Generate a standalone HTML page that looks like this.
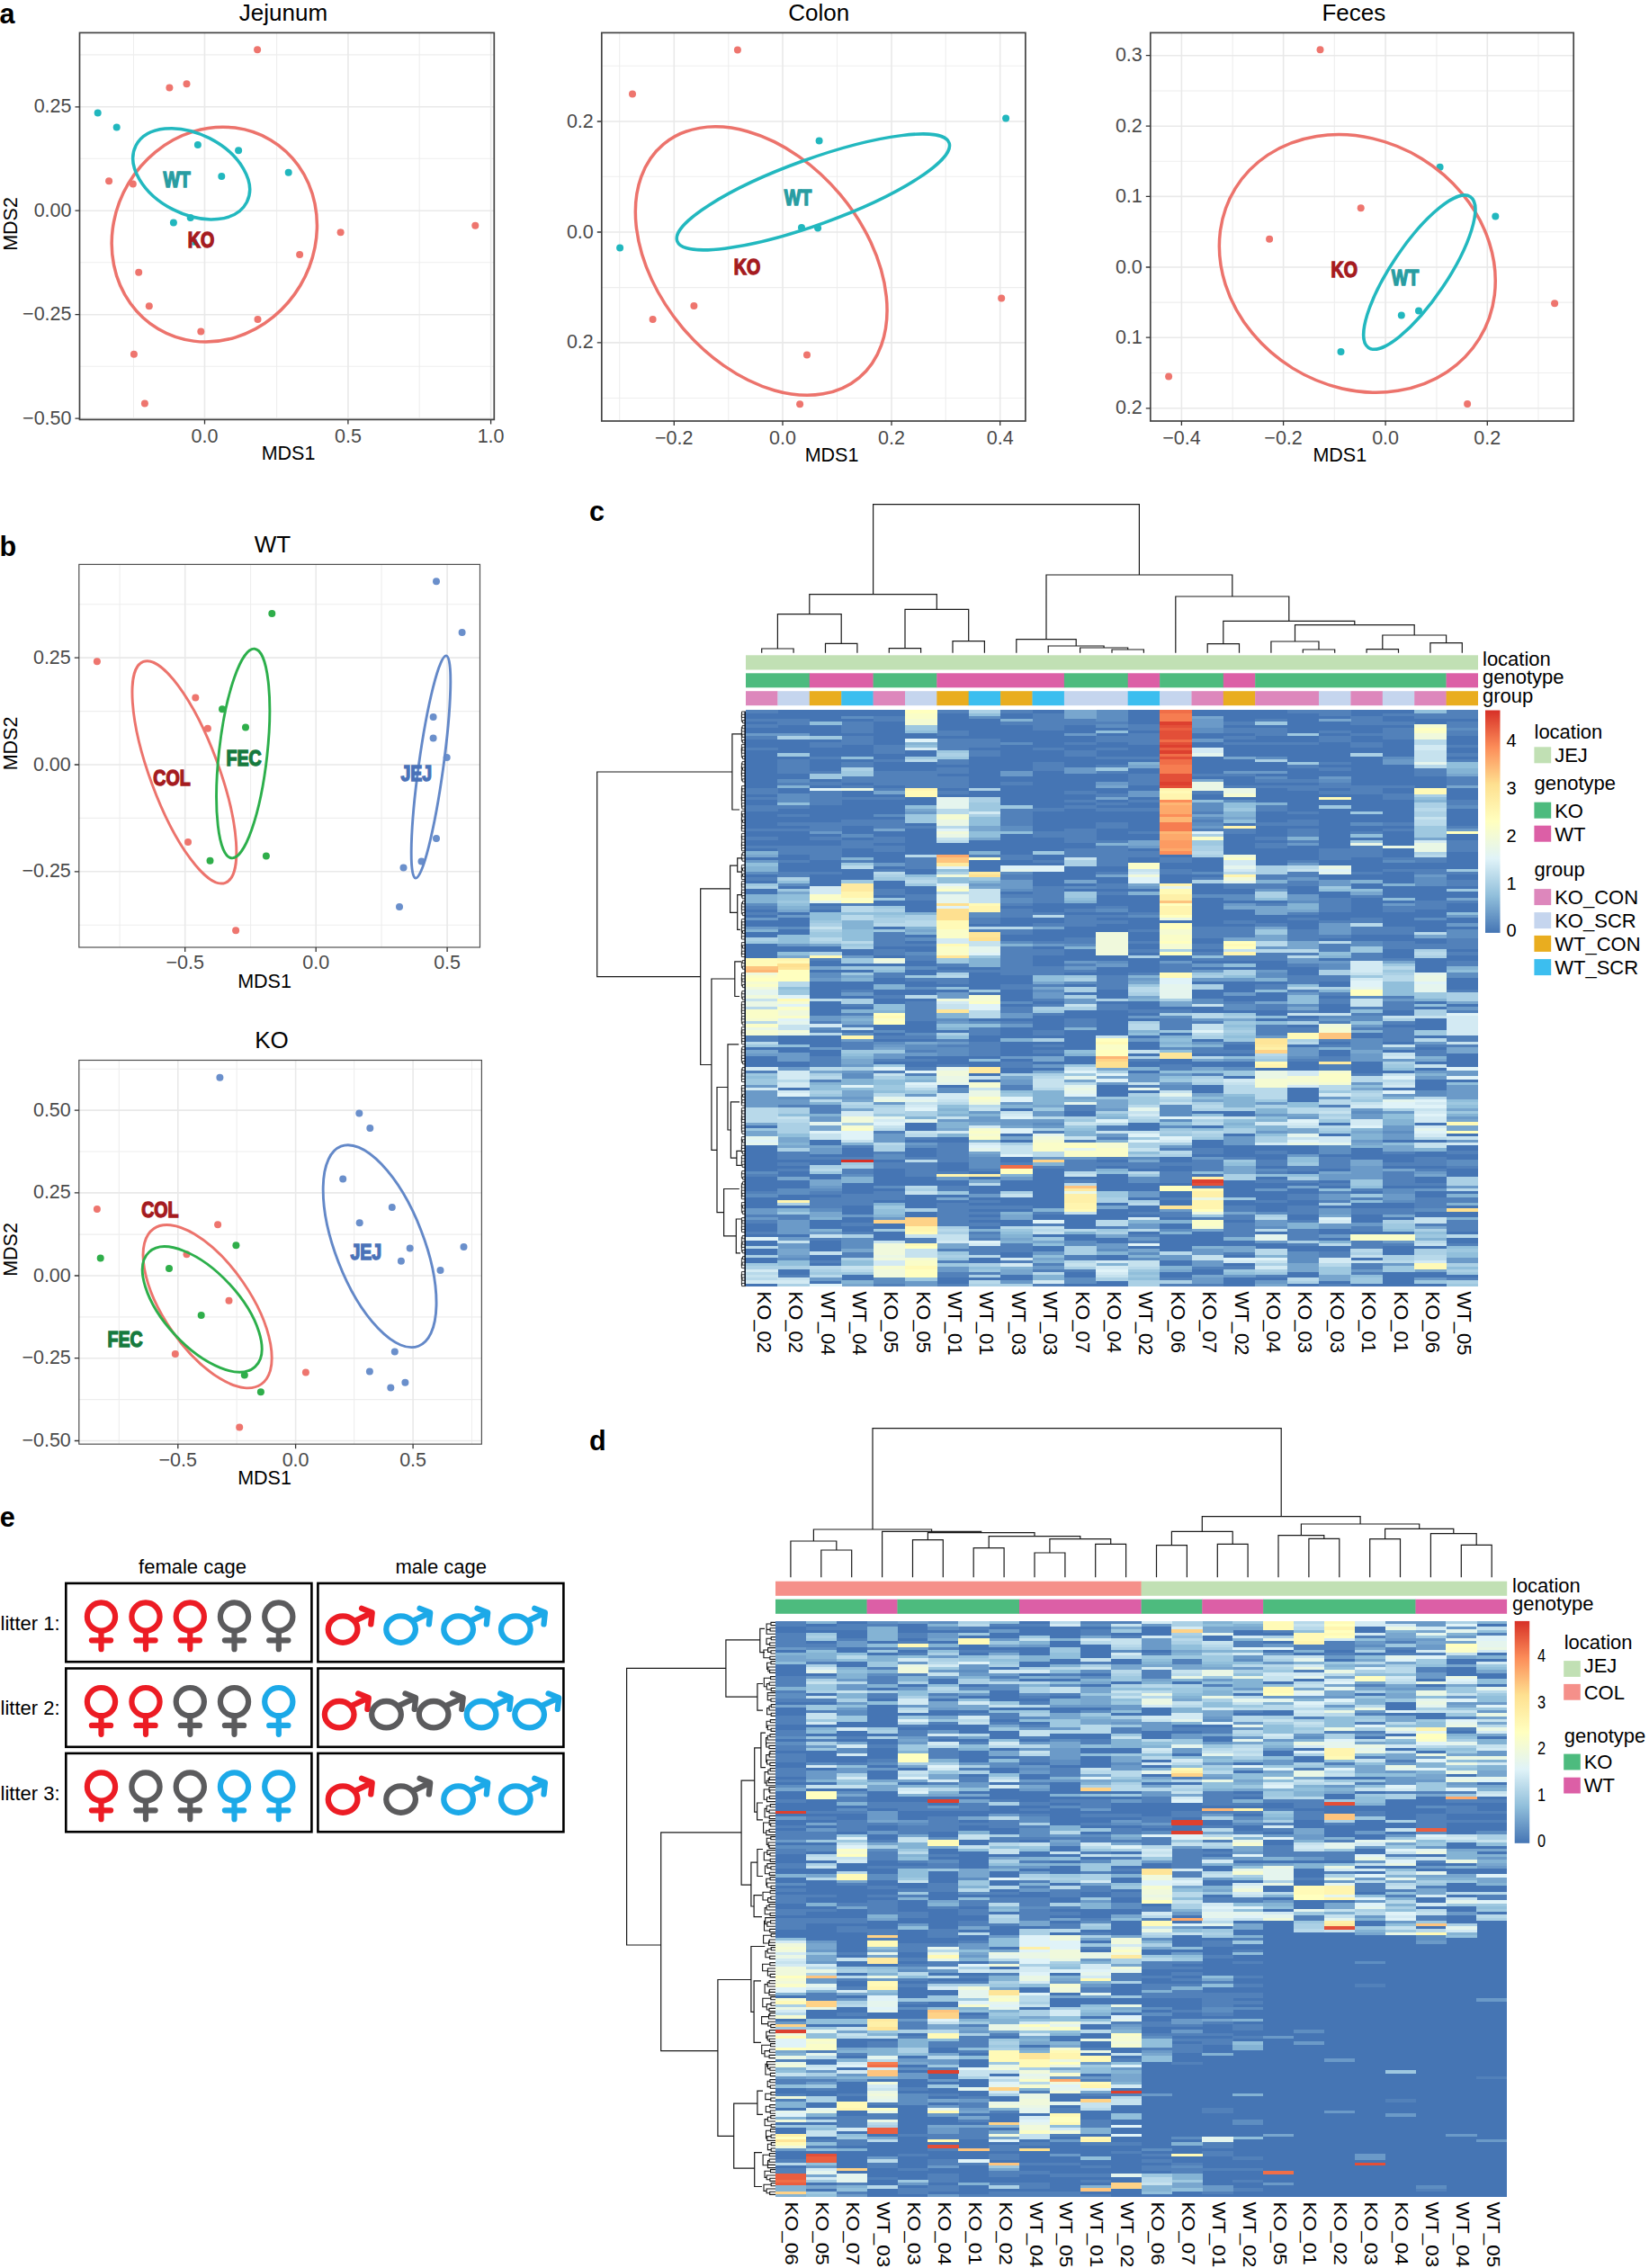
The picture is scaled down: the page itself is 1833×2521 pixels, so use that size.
<!DOCTYPE html>
<html><head><meta charset="utf-8"><title>Figure</title>
<style>html,body{margin:0;padding:0;background:#fff}svg{display:block}</style></head><body>
<svg width="1833" height="2521" viewBox="0 0 1833 2521">
<rect width="1833" height="2521" fill="#fff"/>
<g>
<path d="M148.5 36.4V466.4M307.6 36.4V466.4M466.2 36.4V466.4M88.5 60.9H549.3M88.5 176.3H549.3M88.5 291.8H549.3M88.5 407.2H549.3" stroke="#EEEEEE" stroke-width="1.1" fill="none"/>
<path d="M227.5 36.4V466.4M386.9 36.4V466.4M545.6 36.4V466.4M88.5 118.8H549.3M88.5 234.2H549.3M88.5 349.7H549.3M88.5 465.1H549.3" stroke="#E9E9E9" stroke-width="1.6" fill="none"/>
<circle cx="286.1" cy="55.3" r="4" fill="#EE756E"/>
<circle cx="188.4" cy="97.4" r="4" fill="#EE756E"/>
<circle cx="207.5" cy="93.2" r="4" fill="#EE756E"/>
<circle cx="121.1" cy="201.2" r="4" fill="#EE756E"/>
<circle cx="147.8" cy="204.5" r="4" fill="#EE756E"/>
<circle cx="378.6" cy="258.3" r="4" fill="#EE756E"/>
<circle cx="528.3" cy="250.8" r="4" fill="#EE756E"/>
<circle cx="333.1" cy="283.1" r="4" fill="#EE756E"/>
<circle cx="154.2" cy="302.7" r="4" fill="#EE756E"/>
<circle cx="165.8" cy="340.3" r="4" fill="#EE756E"/>
<circle cx="286.5" cy="354.9" r="4" fill="#EE756E"/>
<circle cx="223.3" cy="368.5" r="4" fill="#EE756E"/>
<circle cx="148.9" cy="393.7" r="4" fill="#EE756E"/>
<circle cx="160.9" cy="448.5" r="4" fill="#EE756E"/>
<circle cx="108.7" cy="125.6" r="4" fill="#21B7BE"/>
<circle cx="129.7" cy="141.4" r="4" fill="#21B7BE"/>
<circle cx="219.9" cy="160.9" r="4" fill="#21B7BE"/>
<circle cx="265.1" cy="167.3" r="4" fill="#21B7BE"/>
<circle cx="246.3" cy="195.9" r="4" fill="#21B7BE"/>
<circle cx="320.7" cy="191.8" r="4" fill="#21B7BE"/>
<circle cx="192.9" cy="247.4" r="4" fill="#21B7BE"/>
<circle cx="211.7" cy="242.1" r="4" fill="#21B7BE"/>
<circle cx="215.4" cy="268.8" r="4" fill="#21B7BE"/>
<ellipse cx="238.3" cy="260.6" rx="122.2" ry="111.1" transform="rotate(-59.18 238.3 260.6)" fill="none" stroke="#EC736C" stroke-width="3.5"/>
<ellipse cx="212.7" cy="193.3" rx="69.2" ry="44.5" transform="rotate(27.06 212.7 193.3)" fill="none" stroke="#22B8BF" stroke-width="3.5"/>
<text transform="translate(196.6 207.7) scale(0.815 1)" text-anchor="middle" font-family="'Liberation Sans',sans-serif" font-weight="bold" font-size="24" fill="#289DA2" stroke="#289DA2" stroke-width="1.45">WT</text>
<text transform="translate(223.5 275.2) scale(0.815 1)" text-anchor="middle" font-family="'Liberation Sans',sans-serif" font-weight="bold" font-size="24" fill="#A51B20" stroke="#A51B20" stroke-width="1.45">KO</text>
<rect x="88.5" y="36.4" width="460.8" height="430" fill="none" stroke="#444444" stroke-width="1.7"/>
<path d="M227.5 466.4v5M386.9 466.4v5M545.6 466.4v5M88.5 118.8h-5M88.5 234.2h-5M88.5 349.7h-5M88.5 465.1h-5" stroke="#333" stroke-width="1.3" fill="none"/>
<g font-family="'Liberation Sans',sans-serif" font-size="21.5" fill="#4A4A4A">
<text x="227.5" y="491.9" text-anchor="middle">0.0</text>
<text x="386.9" y="491.9" text-anchor="middle">0.5</text>
<text x="545.6" y="491.9" text-anchor="middle">1.0</text>
<text x="79.5" y="125.3" text-anchor="end">0.25</text>
<text x="79.5" y="240.7" text-anchor="end">0.00</text>
<text x="79.5" y="356.2" text-anchor="end">−0.25</text>
<text x="79.5" y="471.6" text-anchor="end">−0.50</text>
</g>
<g font-family="'Liberation Sans',sans-serif" fill="#000">
<text x="315" y="22.9" text-anchor="middle" font-size="26">Jejunum</text>
<text x="320.5" y="510.9" text-anchor="middle" font-size="21.5">MDS1</text>
<text transform="translate(19.4 249) rotate(-90)" text-anchor="middle" font-size="21.5">MDS2</text>
</g>
</g>
<g>
<path d="M688.7 36.4V468M809.8 36.4V468M930.5 36.4V468M1051.2 36.4V468M668.8 73.3H1139.9M668.8 196.3H1139.9M668.8 319.6H1139.9M668.8 442.5H1139.9" stroke="#EEEEEE" stroke-width="1.1" fill="none"/>
<path d="M749.3 36.4V468M870 36.4V468M991 36.4V468M1111.7 36.4V468M668.8 135H1139.9M668.8 258H1139.9M668.8 380.9H1139.9" stroke="#E9E9E9" stroke-width="1.6" fill="none"/>
<circle cx="819.9" cy="55.6" r="4" fill="#EE756E"/>
<circle cx="703" cy="104.5" r="4" fill="#EE756E"/>
<circle cx="771.4" cy="339.9" r="4" fill="#EE756E"/>
<circle cx="725.6" cy="354.9" r="4" fill="#EE756E"/>
<circle cx="897" cy="394.4" r="4" fill="#EE756E"/>
<circle cx="889.1" cy="449.3" r="4" fill="#EE756E"/>
<circle cx="1113.2" cy="331.6" r="4" fill="#EE756E"/>
<circle cx="1118.1" cy="131.6" r="4" fill="#21B7BE"/>
<circle cx="910.6" cy="156.4" r="4" fill="#21B7BE"/>
<circle cx="891" cy="253" r="4" fill="#21B7BE"/>
<circle cx="909.1" cy="253.4" r="4" fill="#21B7BE"/>
<circle cx="689.1" cy="275.6" r="4" fill="#21B7BE"/>
<ellipse cx="846.2" cy="290.1" rx="169.3" ry="114.7" transform="rotate(50.02 846.2 290.1)" fill="none" stroke="#EC736C" stroke-width="3.5"/>
<ellipse cx="903.9" cy="213.4" rx="160.7" ry="36.3" transform="rotate(-19.88 903.9 213.4)" fill="none" stroke="#22B8BF" stroke-width="3.5"/>
<text transform="translate(886.9 228.2) scale(0.815 1)" text-anchor="middle" font-family="'Liberation Sans',sans-serif" font-weight="bold" font-size="24" fill="#289DA2" stroke="#289DA2" stroke-width="1.45">WT</text>
<text transform="translate(830.5 304.5) scale(0.815 1)" text-anchor="middle" font-family="'Liberation Sans',sans-serif" font-weight="bold" font-size="24" fill="#A51B20" stroke="#A51B20" stroke-width="1.45">KO</text>
<rect x="668.8" y="36.4" width="471.1" height="431.6" fill="none" stroke="#444444" stroke-width="1.7"/>
<path d="M749.3 468v5M870 468v5M991 468v5M1111.7 468v5M668.8 135h-5M668.8 258h-5M668.8 380.9h-5" stroke="#333" stroke-width="1.3" fill="none"/>
<g font-family="'Liberation Sans',sans-serif" font-size="21.5" fill="#4A4A4A">
<text x="749.3" y="493.5" text-anchor="middle">−0.2</text>
<text x="870" y="493.5" text-anchor="middle">0.0</text>
<text x="991" y="493.5" text-anchor="middle">0.2</text>
<text x="1111.7" y="493.5" text-anchor="middle">0.4</text>
<text x="659.8" y="141.5" text-anchor="end">0.2</text>
<text x="659.8" y="264.5" text-anchor="end">0.0</text>
<text x="659.8" y="387.4" text-anchor="end">0.2</text>
</g>
<g font-family="'Liberation Sans',sans-serif" fill="#000">
<text x="910.2" y="22.9" text-anchor="middle" font-size="26">Colon</text>
<text x="924.5" y="512.5" text-anchor="middle" font-size="21.5">MDS1</text>
</g>
</g>
<g>
<path d="M1370.2 36.4V468M1483.3 36.4V468M1596.9 36.4V468M1710 36.4V468M1278.8 101H1749.2M1278.8 179.3H1749.2M1278.8 257.7H1749.2M1278.8 336.1H1749.2M1278.8 414.5H1749.2" stroke="#EEEEEE" stroke-width="1.1" fill="none"/>
<path d="M1313.4 36.4V468M1426.6 36.4V468M1540.1 36.4V468M1653.3 36.4V468M1278.8 61.7H1749.2M1278.8 140.2H1749.2M1278.8 218.4H1749.2M1278.8 297H1749.2M1278.8 375.2H1749.2M1278.8 453.8H1749.2" stroke="#E9E9E9" stroke-width="1.6" fill="none"/>
<circle cx="1467.5" cy="55.3" r="4" fill="#EE756E"/>
<circle cx="1512.7" cy="231.2" r="4" fill="#EE756E"/>
<circle cx="1411.1" cy="265.8" r="4" fill="#EE756E"/>
<circle cx="1728.1" cy="337.3" r="4" fill="#EE756E"/>
<circle cx="1299.1" cy="418.5" r="4" fill="#EE756E"/>
<circle cx="1631.1" cy="448.9" r="4" fill="#EE756E"/>
<circle cx="1600.6" cy="185.7" r="4" fill="#21B7BE"/>
<circle cx="1662.3" cy="240.6" r="4" fill="#21B7BE"/>
<circle cx="1557.8" cy="350.4" r="4" fill="#21B7BE"/>
<circle cx="1577" cy="345.5" r="4" fill="#21B7BE"/>
<circle cx="1490.5" cy="391" r="4" fill="#21B7BE"/>
<ellipse cx="1508.8" cy="292.9" rx="159.3" ry="136.8" transform="rotate(31.63 1508.8 292.9)" fill="none" stroke="#EC736C" stroke-width="3.5"/>
<ellipse cx="1577.8" cy="302.6" rx="101.2" ry="30.7" transform="rotate(-55.98 1577.8 302.6)" fill="none" stroke="#22B8BF" stroke-width="3.5"/>
<text transform="translate(1494.2 307.5) scale(0.815 1)" text-anchor="middle" font-family="'Liberation Sans',sans-serif" font-weight="bold" font-size="24" fill="#A51B20" stroke="#A51B20" stroke-width="1.45">KO</text>
<text transform="translate(1561.9 317.2) scale(0.815 1)" text-anchor="middle" font-family="'Liberation Sans',sans-serif" font-weight="bold" font-size="24" fill="#289DA2" stroke="#289DA2" stroke-width="1.45">WT</text>
<rect x="1278.8" y="36.4" width="470.4" height="431.6" fill="none" stroke="#444444" stroke-width="1.7"/>
<path d="M1313.4 468v5M1426.6 468v5M1540.1 468v5M1653.3 468v5M1278.8 61.7h-5M1278.8 140.2h-5M1278.8 218.4h-5M1278.8 297h-5M1278.8 375.2h-5M1278.8 453.8h-5" stroke="#333" stroke-width="1.3" fill="none"/>
<g font-family="'Liberation Sans',sans-serif" font-size="21.5" fill="#4A4A4A">
<text x="1313.4" y="493.5" text-anchor="middle">−0.4</text>
<text x="1426.6" y="493.5" text-anchor="middle">−0.2</text>
<text x="1540.1" y="493.5" text-anchor="middle">0.0</text>
<text x="1653.3" y="493.5" text-anchor="middle">0.2</text>
<text x="1269.8" y="68.2" text-anchor="end">0.3</text>
<text x="1269.8" y="146.7" text-anchor="end">0.2</text>
<text x="1269.8" y="224.9" text-anchor="end">0.1</text>
<text x="1269.8" y="303.5" text-anchor="end">0.0</text>
<text x="1269.8" y="381.7" text-anchor="end">0.1</text>
<text x="1269.8" y="460.3" text-anchor="end">0.2</text>
</g>
<g font-family="'Liberation Sans',sans-serif" fill="#000">
<text x="1504.8" y="22.9" text-anchor="middle" font-size="26">Feces</text>
<text x="1489.3" y="512.5" text-anchor="middle" font-size="21.5">MDS1</text>
</g>
</g>
<g>
<path d="M133.1 627.4V1053M278.6 627.4V1053M424.1 627.4V1053M87.8 671.7H533.5M87.8 790.6H533.5M87.8 909.4H533.5M87.8 1028.2H533.5" stroke="#EEEEEE" stroke-width="1.1" fill="none"/>
<path d="M205.7 627.4V1053M351.2 627.4V1053M497.1 627.4V1053M87.8 731.1H533.5M87.8 850H533.5M87.8 968.8H533.5" stroke="#E9E9E9" stroke-width="1.6" fill="none"/>
<circle cx="107.9" cy="735.3" r="4" fill="#EE756E"/>
<circle cx="217.3" cy="775.5" r="4" fill="#EE756E"/>
<circle cx="230.9" cy="809.7" r="4" fill="#EE756E"/>
<circle cx="209" cy="936.1" r="4" fill="#EE756E"/>
<circle cx="262.1" cy="1034.2" r="4" fill="#EE756E"/>
<circle cx="302.3" cy="681.9" r="4" fill="#2FAE4A"/>
<circle cx="247" cy="788.3" r="4" fill="#2FAE4A"/>
<circle cx="273" cy="808.6" r="4" fill="#2FAE4A"/>
<circle cx="233.5" cy="956.7" r="4" fill="#2FAE4A"/>
<circle cx="295.9" cy="951.5" r="4" fill="#2FAE4A"/>
<circle cx="485" cy="646.2" r="4" fill="#6A8FCB"/>
<circle cx="513.6" cy="702.9" r="4" fill="#6A8FCB"/>
<circle cx="481.6" cy="796.9" r="4" fill="#6A8FCB"/>
<circle cx="481.6" cy="820.6" r="4" fill="#6A8FCB"/>
<circle cx="496.7" cy="842.1" r="4" fill="#6A8FCB"/>
<circle cx="485" cy="931.9" r="4" fill="#6A8FCB"/>
<circle cx="468.5" cy="957.5" r="4" fill="#6A8FCB"/>
<circle cx="448.5" cy="964.6" r="4" fill="#6A8FCB"/>
<circle cx="444" cy="1007.9" r="4" fill="#6A8FCB"/>
<ellipse cx="204.9" cy="858.4" rx="131.1" ry="38.2" transform="rotate(69.68 204.9 858.4)" fill="none" stroke="#EC736C" stroke-width="2.9"/>
<ellipse cx="270.2" cy="837.5" rx="117" ry="26.8" transform="rotate(-83.68 270.2 837.5)" fill="none" stroke="#2CAF4B" stroke-width="2.9"/>
<ellipse cx="479" cy="852.5" rx="124.8" ry="13.7" transform="rotate(-82.14 479 852.5)" fill="none" stroke="#6388C8" stroke-width="2.9"/>
<text transform="translate(191 872.8) scale(0.815 1)" text-anchor="middle" font-family="'Liberation Sans',sans-serif" font-weight="bold" font-size="24" fill="#A51B20" stroke="#A51B20" stroke-width="1.45">COL</text>
<text transform="translate(271.1 851.4) scale(0.815 1)" text-anchor="middle" font-family="'Liberation Sans',sans-serif" font-weight="bold" font-size="24" fill="#167A3E" stroke="#167A3E" stroke-width="1.45">FEC</text>
<text transform="translate(462.8 867.6) scale(0.815 1)" text-anchor="middle" font-family="'Liberation Sans',sans-serif" font-weight="bold" font-size="24" fill="#4A72B8" stroke="#4A72B8" stroke-width="1.45">JEJ</text>
<rect x="87.8" y="627.4" width="445.7" height="425.6" fill="none" stroke="#505050" stroke-width="1.2"/>
<path d="M205.7 1053v5M351.2 1053v5M497.1 1053v5M87.8 731.1h-5M87.8 850h-5M87.8 968.8h-5" stroke="#333" stroke-width="1.3" fill="none"/>
<g font-family="'Liberation Sans',sans-serif" font-size="21.5" fill="#4A4A4A">
<text x="205.7" y="1077.3" text-anchor="middle">−0.5</text>
<text x="351.2" y="1077.3" text-anchor="middle">0.0</text>
<text x="497.1" y="1077.3" text-anchor="middle">0.5</text>
<text x="78.8" y="737.6" text-anchor="end">0.25</text>
<text x="78.8" y="856.5" text-anchor="end">0.00</text>
<text x="78.8" y="975.3" text-anchor="end">−0.25</text>
</g>
<g font-family="'Liberation Sans',sans-serif" fill="#000">
<text x="303" y="613.9" text-anchor="middle" font-size="26">WT</text>
<text x="294" y="1097.5" text-anchor="middle" font-size="21.5">MDS1</text>
<text transform="translate(19.4 826.5) rotate(-90)" text-anchor="middle" font-size="21.5">MDS2</text>
</g>
</g>
<g>
<path d="M132.3 1178.5V1605.2M263.2 1178.5V1605.2M393.7 1178.5V1605.2M524.5 1178.5V1605.2M87.8 1188.3H535.4M87.8 1280H535.4M87.8 1372.1H535.4M87.8 1463.9H535.4M87.8 1555.6H535.4" stroke="#EEEEEE" stroke-width="1.1" fill="none"/>
<path d="M197.8 1178.5V1605.2M328.6 1178.5V1605.2M459.1 1178.5V1605.2M87.8 1234.1H535.4M87.8 1325.9H535.4M87.8 1418H535.4M87.8 1509.7H535.4M87.8 1601.5H535.4" stroke="#E9E9E9" stroke-width="1.6" fill="none"/>
<circle cx="107.9" cy="1343.9" r="4" fill="#EE756E"/>
<circle cx="242.1" cy="1361.2" r="4" fill="#EE756E"/>
<circle cx="207.5" cy="1394.3" r="4" fill="#EE756E"/>
<circle cx="254.5" cy="1445.8" r="4" fill="#EE756E"/>
<circle cx="194.8" cy="1504.9" r="4" fill="#EE756E"/>
<circle cx="339.9" cy="1525.5" r="4" fill="#EE756E"/>
<circle cx="266.2" cy="1586.4" r="4" fill="#EE756E"/>
<circle cx="111.7" cy="1398.5" r="4" fill="#2FAE4A"/>
<circle cx="262.4" cy="1384.2" r="4" fill="#2FAE4A"/>
<circle cx="188" cy="1410.1" r="4" fill="#2FAE4A"/>
<circle cx="223.7" cy="1462" r="4" fill="#2FAE4A"/>
<circle cx="271.8" cy="1528.5" r="4" fill="#2FAE4A"/>
<circle cx="289.9" cy="1547.3" r="4" fill="#2FAE4A"/>
<circle cx="244.4" cy="1197.7" r="4" fill="#6A8FCB"/>
<circle cx="399.3" cy="1237.5" r="4" fill="#6A8FCB"/>
<circle cx="411.3" cy="1254.1" r="4" fill="#6A8FCB"/>
<circle cx="381.2" cy="1310.5" r="4" fill="#6A8FCB"/>
<circle cx="435.8" cy="1342.1" r="4" fill="#6A8FCB"/>
<circle cx="399.7" cy="1359.3" r="4" fill="#6A8FCB"/>
<circle cx="455.7" cy="1387.5" r="4" fill="#6A8FCB"/>
<circle cx="445.9" cy="1401.8" r="4" fill="#6A8FCB"/>
<circle cx="515.5" cy="1386" r="4" fill="#6A8FCB"/>
<circle cx="489.5" cy="1412" r="4" fill="#6A8FCB"/>
<circle cx="438.8" cy="1502.6" r="4" fill="#6A8FCB"/>
<circle cx="410.9" cy="1524.4" r="4" fill="#6A8FCB"/>
<circle cx="450.4" cy="1536.8" r="4" fill="#6A8FCB"/>
<circle cx="434.3" cy="1542.5" r="4" fill="#6A8FCB"/>
<ellipse cx="230.6" cy="1452.2" rx="105.1" ry="47.9" transform="rotate(55.36 230.6 1452.2)" fill="none" stroke="#EC736C" stroke-width="2.9"/>
<ellipse cx="224.7" cy="1455.4" rx="86.8" ry="41.4" transform="rotate(47.21 224.7 1455.4)" fill="none" stroke="#2CAF4B" stroke-width="2.9"/>
<ellipse cx="422.1" cy="1385.2" rx="119.1" ry="49.2" transform="rotate(68.79 422.1 1385.2)" fill="none" stroke="#6388C8" stroke-width="2.9"/>
<text transform="translate(177.8 1352.5) scale(0.815 1)" text-anchor="middle" font-family="'Liberation Sans',sans-serif" font-weight="bold" font-size="24" fill="#A51B20" stroke="#A51B20" stroke-width="1.45">COL</text>
<text transform="translate(139.1 1497.3) scale(0.815 1)" text-anchor="middle" font-family="'Liberation Sans',sans-serif" font-weight="bold" font-size="24" fill="#167A3E" stroke="#167A3E" stroke-width="1.45">FEC</text>
<text transform="translate(406.8 1399.5) scale(0.815 1)" text-anchor="middle" font-family="'Liberation Sans',sans-serif" font-weight="bold" font-size="24" fill="#4A72B8" stroke="#4A72B8" stroke-width="1.45">JEJ</text>
<rect x="87.8" y="1178.5" width="447.6" height="426.7" fill="none" stroke="#505050" stroke-width="1.2"/>
<path d="M197.8 1605.2v5M328.6 1605.2v5M459.1 1605.2v5M87.8 1234.1h-5M87.8 1325.9h-5M87.8 1418h-5M87.8 1509.7h-5M87.8 1601.5h-5" stroke="#333" stroke-width="1.3" fill="none"/>
<g font-family="'Liberation Sans',sans-serif" font-size="21.5" fill="#4A4A4A">
<text x="197.8" y="1630" text-anchor="middle">−0.5</text>
<text x="328.6" y="1630" text-anchor="middle">0.0</text>
<text x="459.1" y="1630" text-anchor="middle">0.5</text>
<text x="78.8" y="1240.6" text-anchor="end">0.50</text>
<text x="78.8" y="1332.4" text-anchor="end">0.25</text>
<text x="78.8" y="1424.5" text-anchor="end">0.00</text>
<text x="78.8" y="1516.2" text-anchor="end">−0.25</text>
<text x="78.8" y="1608" text-anchor="end">−0.50</text>
</g>
<g font-family="'Liberation Sans',sans-serif" fill="#000">
<text x="302" y="1165" text-anchor="middle" font-size="26">KO</text>
<text x="294" y="1649.7" text-anchor="middle" font-size="21.5">MDS1</text>
<text transform="translate(19.4 1389) rotate(-90)" text-anchor="middle" font-size="21.5">MDS2</text>
</g>
</g>
<g font-family="'Liberation Sans',sans-serif" font-size="22" fill="#000">
<text x="214" y="1748.5" text-anchor="middle">female cage</text>
<text x="490.3" y="1748.5" text-anchor="middle">male cage</text>
<text x="0.5" y="1811.7">litter 1:</text>
<text x="0.5" y="1906.3">litter 2:</text>
<text x="0.5" y="2000.7">litter 3:</text>
</g>
<rect x="73.3" y="1759.9" width="273.1" height="87.3" fill="none" stroke="#000" stroke-width="2.6"/>
<rect x="353.4" y="1759.9" width="273" height="87.3" fill="none" stroke="#000" stroke-width="2.6"/>
<rect x="73.3" y="1854.5" width="273.1" height="87.3" fill="none" stroke="#000" stroke-width="2.6"/>
<rect x="353.4" y="1854.5" width="273" height="87.3" fill="none" stroke="#000" stroke-width="2.6"/>
<rect x="73.3" y="1948.9" width="273.1" height="87.3" fill="none" stroke="#000" stroke-width="2.6"/>
<rect x="353.4" y="1948.9" width="273" height="87.3" fill="none" stroke="#000" stroke-width="2.6"/>
<g stroke="#EC1C24" stroke-width="6.2" fill="none" stroke-linecap="round"><circle cx="112.5" cy="1797" r="15.6"/><path d="M112.5 1813.5V1833.2M101.9 1823.3H123.1"/></g>
<g stroke="#EC1C24" stroke-width="6.2" fill="none" stroke-linecap="round"><circle cx="162" cy="1797" r="15.6"/><path d="M162 1813.5V1833.2M151.4 1823.3H172.6"/></g>
<g stroke="#EC1C24" stroke-width="6.2" fill="none" stroke-linecap="round"><circle cx="211.3" cy="1797" r="15.6"/><path d="M211.3 1813.5V1833.2M200.7 1823.3H221.9"/></g>
<g stroke="#5B5B5D" stroke-width="6.2" fill="none" stroke-linecap="round"><circle cx="260.5" cy="1797" r="15.6"/><path d="M260.5 1813.5V1833.2M249.9 1823.3H271.1"/></g>
<g stroke="#5B5B5D" stroke-width="6.2" fill="none" stroke-linecap="round"><circle cx="309.8" cy="1797" r="15.6"/><path d="M309.8 1813.5V1833.2M299.2 1823.3H320.4"/></g>
<g stroke="#EC1C24" stroke-width="6.2" fill="none" stroke-linecap="round"><circle cx="112.5" cy="1891.6" r="15.6"/><path d="M112.5 1908.1V1927.8M101.9 1917.9H123.1"/></g>
<g stroke="#EC1C24" stroke-width="6.2" fill="none" stroke-linecap="round"><circle cx="162" cy="1891.6" r="15.6"/><path d="M162 1908.1V1927.8M151.4 1917.9H172.6"/></g>
<g stroke="#5B5B5D" stroke-width="6.2" fill="none" stroke-linecap="round"><circle cx="211.3" cy="1891.6" r="15.6"/><path d="M211.3 1908.1V1927.8M200.7 1917.9H221.9"/></g>
<g stroke="#5B5B5D" stroke-width="6.2" fill="none" stroke-linecap="round"><circle cx="260.5" cy="1891.6" r="15.6"/><path d="M260.5 1908.1V1927.8M249.9 1917.9H271.1"/></g>
<g stroke="#1CA9E8" stroke-width="6.2" fill="none" stroke-linecap="round"><circle cx="309.8" cy="1891.6" r="15.6"/><path d="M309.8 1908.1V1927.8M299.2 1917.9H320.4"/></g>
<g stroke="#EC1C24" stroke-width="6.2" fill="none" stroke-linecap="round"><circle cx="112.5" cy="1986" r="15.6"/><path d="M112.5 2002.5V2022.2M101.9 2012.3H123.1"/></g>
<g stroke="#5B5B5D" stroke-width="6.2" fill="none" stroke-linecap="round"><circle cx="162" cy="1986" r="15.6"/><path d="M162 2002.5V2022.2M151.4 2012.3H172.6"/></g>
<g stroke="#5B5B5D" stroke-width="6.2" fill="none" stroke-linecap="round"><circle cx="211.3" cy="1986" r="15.6"/><path d="M211.3 2002.5V2022.2M200.7 2012.3H221.9"/></g>
<g stroke="#1CA9E8" stroke-width="6.2" fill="none" stroke-linecap="round"><circle cx="260.5" cy="1986" r="15.6"/><path d="M260.5 2002.5V2022.2M249.9 2012.3H271.1"/></g>
<g stroke="#1CA9E8" stroke-width="6.2" fill="none" stroke-linecap="round"><circle cx="309.8" cy="1986" r="15.6"/><path d="M309.8 2002.5V2022.2M299.2 2012.3H320.4"/></g>
<g stroke="#EC1C24" stroke-width="6.3" fill="none" stroke-linecap="round" stroke-linejoin="round"><ellipse cx="381.1" cy="1811.1" rx="16.3" ry="14.7"/><path d="M394.6 1801.6L412.6 1793.1M402.1 1787.8L413.7 1792.5L412.3 1805.3"/></g>
<g stroke="#1CA9E8" stroke-width="6.3" fill="none" stroke-linecap="round" stroke-linejoin="round"><ellipse cx="445.6" cy="1811.1" rx="16.3" ry="14.7"/><path d="M459.1 1801.6L477.1 1793.1M466.6 1787.8L478.2 1792.5L476.8 1805.3"/></g>
<g stroke="#1CA9E8" stroke-width="6.3" fill="none" stroke-linecap="round" stroke-linejoin="round"><ellipse cx="509.6" cy="1811.1" rx="16.3" ry="14.7"/><path d="M523.1 1801.6L541.1 1793.1M530.6 1787.8L542.2 1792.5L540.8 1805.3"/></g>
<g stroke="#1CA9E8" stroke-width="6.3" fill="none" stroke-linecap="round" stroke-linejoin="round"><ellipse cx="573.3" cy="1811.1" rx="16.3" ry="14.7"/><path d="M586.8 1801.6L604.8 1793.1M594.3 1787.8L605.9 1792.5L604.5 1805.3"/></g>
<g stroke="#EC1C24" stroke-width="6.3" fill="none" stroke-linecap="round" stroke-linejoin="round"><ellipse cx="377.2" cy="1905.7" rx="16.3" ry="14.7"/><path d="M390.7 1896.2L408.7 1887.7M398.2 1882.4L409.8 1887.1L408.4 1899.9"/></g>
<g stroke="#5B5B5D" stroke-width="6.3" fill="none" stroke-linecap="round" stroke-linejoin="round"><ellipse cx="429.5" cy="1905.7" rx="16.3" ry="14.7"/><path d="M443 1896.2L461 1887.7M450.5 1882.4L462.1 1887.1L460.7 1899.9"/></g>
<g stroke="#5B5B5D" stroke-width="6.3" fill="none" stroke-linecap="round" stroke-linejoin="round"><ellipse cx="482.1" cy="1905.7" rx="16.3" ry="14.7"/><path d="M495.6 1896.2L513.6 1887.7M503.1 1882.4L514.7 1887.1L513.3 1899.9"/></g>
<g stroke="#1CA9E8" stroke-width="6.3" fill="none" stroke-linecap="round" stroke-linejoin="round"><ellipse cx="535.1" cy="1905.7" rx="16.3" ry="14.7"/><path d="M548.6 1896.2L566.6 1887.7M556.1 1882.4L567.7 1887.1L566.3 1899.9"/></g>
<g stroke="#1CA9E8" stroke-width="6.3" fill="none" stroke-linecap="round" stroke-linejoin="round"><ellipse cx="588.6" cy="1905.7" rx="16.3" ry="14.7"/><path d="M602.1 1896.2L620.1 1887.7M609.6 1882.4L621.2 1887.1L619.8 1899.9"/></g>
<g stroke="#EC1C24" stroke-width="6.3" fill="none" stroke-linecap="round" stroke-linejoin="round"><ellipse cx="381.1" cy="2000.1" rx="16.3" ry="14.7"/><path d="M394.6 1990.6L412.6 1982.1M402.1 1976.8L413.7 1981.5L412.3 1994.3"/></g>
<g stroke="#5B5B5D" stroke-width="6.3" fill="none" stroke-linecap="round" stroke-linejoin="round"><ellipse cx="445.6" cy="2000.1" rx="16.3" ry="14.7"/><path d="M459.1 1990.6L477.1 1982.1M466.6 1976.8L478.2 1981.5L476.8 1994.3"/></g>
<g stroke="#1CA9E8" stroke-width="6.3" fill="none" stroke-linecap="round" stroke-linejoin="round"><ellipse cx="509.6" cy="2000.1" rx="16.3" ry="14.7"/><path d="M523.1 1990.6L541.1 1982.1M530.6 1976.8L542.2 1981.5L540.8 1994.3"/></g>
<g stroke="#1CA9E8" stroke-width="6.3" fill="none" stroke-linecap="round" stroke-linejoin="round"><ellipse cx="573.3" cy="2000.1" rx="16.3" ry="14.7"/><path d="M586.8 1990.6L604.8 1982.1M594.3 1976.8L605.9 1981.5L604.5 1994.3"/></g>
<g shape-rendering="crispEdges">
<rect x="829" y="789.4" width="814" height="640.4" fill="#4575B4"/>
<path fill="#5281BA" d="M829 789.4H864.7V792.8H829zM829 799H864.7V802.4H829zM829 805.4H864.7V808.8H829zM829 818.2H864.7V821.6H829zM829 831H864.7V834.4H829zM829 875.9H864.7V882.5H829zM829 885.5H864.7V888.9H829zM829 895.1H864.7V901.7H829zM829 920.7H864.7V924.1H829zM829 930.3H864.7V933.7H829zM829 939.9H864.7V943.3H829zM829 975.1H864.7V978.5H829zM829 1007.1H864.7V1010.5H829zM829 1013.5H864.7V1016.9H829zM829 1151.2H864.7V1157.8H829zM829 1189.7H864.7V1193.1H829zM829 1304.9H864.7V1308.3H829zM829 1324.1H864.7V1327.5H829zM829 1349.8H864.7V1353.2H829zM829 1356.2H864.7V1359.6H829zM829 1369H864.7V1372.4H829zM864.4 799H900.1V805.6H864.4zM864.4 843.8H900.1V860H864.4zM864.4 869.4H900.1V872.9H864.4zM864.4 895.1H900.1V898.5H864.4zM864.4 904.7H900.1V908.1H864.4zM864.4 914.3H900.1V917.7H864.4zM864.4 920.7H900.1V924.1H864.4zM864.4 939.9H900.1V949.7H864.4zM864.4 955.9H900.1V959.3H864.4zM864.4 968.7H900.1V975.3H864.4zM864.4 1228.1H900.1V1231.5H864.4zM864.4 1279.3H900.1V1289.1H864.4zM864.4 1292.1H900.1V1295.5H864.4zM864.4 1298.5H900.1V1301.9H864.4zM864.4 1349.8H900.1V1356.4H864.4zM864.4 1417H900.1V1420.4H864.4zM899.8 824.6H935.5V831.2H899.8zM899.8 840.6H935.5V844H899.8zM899.8 856.6H935.5V860H899.8zM899.8 869.4H935.5V872.9H899.8zM899.8 879.1H935.5V895.3H899.8zM899.8 914.3H935.5V924.1H899.8zM899.8 930.3H935.5V933.7H899.8zM899.8 939.9H935.5V956.1H899.8zM899.8 968.7H935.5V972.1H899.8zM899.8 1007.1H935.5V1010.5H899.8zM899.8 1064.8H935.5V1068.2H899.8zM899.8 1135.2H935.5V1138.6H899.8zM899.8 1144.8H935.5V1148.2H899.8zM899.8 1173.6H935.5V1186.6H899.8zM899.8 1199.3H935.5V1202.7H899.8zM899.8 1228.1H935.5V1237.9H899.8zM899.8 1285.7H935.5V1289.1H899.8zM899.8 1324.1H935.5V1327.5H899.8zM899.8 1330.5H935.5V1343.5H899.8zM899.8 1375.4H935.5V1378.8H899.8zM899.8 1401H935.5V1404.4H899.8zM935.2 802.2H970.9V815.2H935.2zM935.2 818.2H970.9V828H935.2zM935.2 847H970.9V853.6H935.2zM935.2 863H970.9V869.6H935.2zM935.2 872.7H970.9V876.1H935.2zM935.2 885.5H970.9V888.9H935.2zM935.2 911.1H970.9V917.7H935.2zM935.2 933.5H970.9V943.3H935.2zM935.2 955.9H970.9V959.3H935.2zM935.2 1003.9H970.9V1007.3H935.2zM935.2 1100H970.9V1103.4H935.2zM935.2 1116H970.9V1119.4H935.2zM935.2 1125.6H970.9V1129H935.2zM935.2 1138.4H970.9V1141.8H935.2zM935.2 1157.6H970.9V1167.4H935.2zM935.2 1272.9H970.9V1276.3H935.2zM935.2 1285.7H970.9V1289.1H935.2zM935.2 1298.5H970.9V1305.1H935.2zM935.2 1327.3H970.9V1340.3H935.2zM935.2 1359.4H970.9V1362.8H935.2zM935.2 1369H970.9V1372.4H935.2zM935.2 1391.4H970.9V1398H935.2zM970.6 795.8H1006.2V802.4H970.6zM970.6 827.8H1006.2V837.6H970.6zM970.6 843.8H1006.2V847.2H970.6zM970.6 856.6H1006.2V872.9H970.6zM970.6 875.9H1006.2V879.3H970.6zM970.6 885.5H1006.2V888.9H970.6zM970.6 911.1H1006.2V920.9H970.6zM970.6 930.3H1006.2V936.9H970.6zM970.6 939.9H1006.2V946.5H970.6zM970.6 965.5H1006.2V968.9H970.6zM970.6 987.9H1006.2V994.5H970.6zM970.6 1036H1006.2V1052.2H970.6zM970.6 1055.2H1006.2V1061.8H970.6zM970.6 1080.8H1006.2V1087.4H970.6zM970.6 1106.4H1006.2V1109.8H970.6zM970.6 1151.2H1006.2V1154.6H970.6zM970.6 1176.8H1006.2V1180.2H970.6zM970.6 1189.7H1006.2V1193.1H970.6zM970.6 1256.9H1006.2V1260.3H970.6zM970.6 1279.3H1006.2V1282.7H970.6zM970.6 1292.1H1006.2V1298.7H970.6zM970.6 1324.1H1006.2V1333.9H970.6zM970.6 1426.6H1006.2V1430H970.6zM1006 856.6H1041.6V876.1H1006zM1006 917.5H1041.6V920.9H1006zM1006 952.7H1041.6V965.7H1006zM1006 994.3H1041.6V1000.9H1006zM1006 1048.8H1041.6V1052.2H1006zM1006 1061.6H1041.6V1068.2H1006zM1006 1087.2H1041.6V1090.6H1006zM1006 1112.8H1041.6V1135.4H1006zM1006 1151.2H1041.6V1154.6H1006zM1006 1167.2H1041.6V1170.6H1006zM1006 1176.8H1041.6V1180.2H1006zM1006 1186.4H1041.6V1189.9H1006zM1006 1192.9H1041.6V1196.3H1006zM1006 1263.3H1041.6V1266.7H1006zM1006 1285.7H1041.6V1289.1H1006zM1006 1292.1H1041.6V1308.3H1006zM1006 1375.4H1041.6V1382H1006zM1041.3 789.4H1077V792.8H1041.3zM1041.3 811.8H1077V818.4H1041.3zM1041.3 821.4H1077V834.4H1041.3zM1041.3 843.8H1077V850.4H1041.3zM1041.3 853.4H1077V860H1041.3zM1041.3 863H1077V876.1H1041.3zM1041.3 879.1H1077V882.5H1041.3zM1041.3 1071.2H1077V1074.6H1041.3zM1041.3 1077.6H1077V1081H1041.3zM1041.3 1087.2H1077V1093.8H1041.3zM1041.3 1154.4H1077V1157.8H1041.3zM1041.3 1160.8H1077V1164.2H1041.3zM1041.3 1183.2H1077V1186.6H1041.3zM1041.3 1269.7H1077V1292.3H1041.3zM1041.3 1301.7H1077V1305.1H1041.3zM1041.3 1317.7H1077V1324.3H1041.3zM1041.3 1336.9H1077V1362.8H1041.3zM1041.3 1388.2H1077V1391.6H1041.3zM1041.3 1401H1077V1404.4H1041.3zM1041.3 1413.8H1077V1420.4H1041.3zM1041.3 1426.6H1077V1430H1041.3zM1076.7 821.4H1112.4V831.2H1076.7zM1076.7 834.2H1112.4V840.8H1076.7zM1076.7 949.5H1112.4V952.9H1076.7zM1076.7 1019.9H1112.4V1026.5H1076.7zM1076.7 1032.8H1112.4V1036.2H1076.7zM1076.7 1077.6H1112.4V1081H1076.7zM1076.7 1141.6H1112.4V1151.4H1076.7zM1076.7 1157.6H1112.4V1173.8H1076.7zM1076.7 1298.5H1112.4V1301.9H1076.7zM1076.7 1333.7H1112.4V1337.1H1076.7zM1076.7 1340.1H1112.4V1343.5H1076.7zM1076.7 1346.5H1112.4V1350H1076.7zM1076.7 1353H1112.4V1356.4H1076.7zM1076.7 1359.4H1112.4V1362.8H1076.7zM1076.7 1369H1112.4V1372.4H1076.7zM1076.7 1375.4H1112.4V1378.8H1076.7zM1076.7 1385H1112.4V1394.8H1076.7zM1076.7 1413.8H1112.4V1417.2H1076.7zM1112.1 789.4H1147.8V792.8H1112.1zM1112.1 802.2H1147.8V805.6H1112.1zM1112.1 869.4H1147.8V872.9H1112.1zM1112.1 898.3H1147.8V917.7H1112.1zM1112.1 949.5H1147.8V956.1H1112.1zM1112.1 971.9H1147.8V978.5H1112.1zM1112.1 994.3H1147.8V997.7H1112.1zM1112.1 1003.9H1147.8V1007.3H1112.1zM1112.1 1010.3H1147.8V1020.1H1112.1zM1112.1 1032.8H1147.8V1039.4H1112.1zM1112.1 1052H1147.8V1084.2H1112.1zM1112.1 1093.6H1147.8V1100.2H1112.1zM1112.1 1119.2H1147.8V1125.8H1112.1zM1112.1 1135.2H1147.8V1138.6H1112.1zM1112.1 1180H1147.8V1186.6H1112.1zM1112.1 1205.7H1147.8V1212.3H1112.1zM1112.1 1292.1H1147.8V1295.5H1112.1zM1112.1 1340.1H1147.8V1343.5H1112.1zM1112.1 1381.8H1147.8V1391.6H1112.1zM1112.1 1401H1147.8V1404.4H1112.1zM1147.5 792.6H1183.2V812H1147.5zM1147.5 831H1183.2V834.4H1147.5zM1147.5 847H1183.2V856.8H1147.5zM1147.5 898.3H1183.2V901.7H1147.5zM1147.5 923.9H1183.2V930.5H1147.5zM1147.5 955.9H1183.2V959.3H1147.5zM1147.5 984.7H1183.2V1004.1H1147.5zM1147.5 1013.5H1183.2V1016.9H1147.5zM1147.5 1026.3H1183.2V1029.8H1147.5zM1147.5 1045.6H1183.2V1049H1147.5zM1147.5 1055.2H1183.2V1061.8H1147.5zM1147.5 1074.4H1183.2V1084.2H1147.5zM1147.5 1093.6H1183.2V1097H1147.5zM1147.5 1109.6H1183.2V1113H1147.5zM1147.5 1116H1183.2V1119.4H1147.5zM1147.5 1125.6H1183.2V1129H1147.5zM1147.5 1144.8H1183.2V1151.4H1147.5zM1147.5 1160.8H1183.2V1164.2H1147.5zM1147.5 1167.2H1183.2V1170.6H1147.5zM1147.5 1256.9H1183.2V1260.3H1147.5zM1147.5 1295.3H1183.2V1298.7H1147.5zM1147.5 1346.5H1183.2V1350H1147.5zM1147.5 1359.4H1183.2V1362.8H1147.5zM1147.5 1404.2H1183.2V1407.6H1147.5zM1147.5 1410.6H1183.2V1414H1147.5zM1147.5 1426.6H1183.2V1430H1147.5zM1182.9 799H1218.6V805.6H1182.9zM1182.9 824.6H1218.6V828H1182.9zM1182.9 834.2H1218.6V840.8H1182.9zM1182.9 879.1H1218.6V882.5H1182.9zM1182.9 888.7H1218.6V892.1H1182.9zM1182.9 895.1H1218.6V898.5H1182.9zM1182.9 920.7H1218.6V936.9H1182.9zM1182.9 943.1H1218.6V952.9H1182.9zM1182.9 1010.3H1218.6V1013.7H1182.9zM1182.9 1016.7H1218.6V1029.8H1182.9zM1182.9 1042.4H1218.6V1049H1182.9zM1182.9 1071.2H1218.6V1074.6H1182.9zM1182.9 1077.6H1218.6V1081H1182.9zM1182.9 1132H1218.6V1141.8H1182.9zM1182.9 1228.1H1218.6V1234.7H1182.9zM1182.9 1266.5H1218.6V1269.9H1182.9zM1182.9 1288.9H1218.6V1301.9H1182.9zM1182.9 1311.3H1218.6V1314.7H1182.9zM1182.9 1394.6H1218.6V1401.2H1182.9zM1182.9 1410.6H1218.6V1414H1182.9zM1218.3 802.2H1254V805.6H1218.3zM1218.3 818.2H1254V824.8H1218.3zM1218.3 831H1254V834.4H1218.3zM1218.3 840.6H1254V844H1218.3zM1218.3 850.2H1254V853.6H1218.3zM1218.3 856.6H1254V860H1218.3zM1218.3 882.3H1254V885.7H1218.3zM1218.3 891.9H1254V895.3H1218.3zM1218.3 898.3H1254V901.7H1218.3zM1218.3 914.3H1254V920.9H1218.3zM1218.3 933.5H1254V936.9H1218.3zM1218.3 939.9H1254V962.5H1218.3zM1218.3 968.7H1254V972.1H1218.3zM1218.3 981.5H1254V988.1H1218.3zM1218.3 991.1H1254V994.5H1218.3zM1218.3 1007.1H1254V1010.5H1218.3zM1218.3 1016.7H1254V1020.1H1218.3zM1218.3 1023.1H1254V1026.5H1218.3zM1218.3 1084H1254V1100.2H1218.3zM1218.3 1116H1254V1122.6H1218.3zM1218.3 1250.5H1254V1257.1H1218.3zM1218.3 1263.3H1254V1266.7H1218.3zM1218.3 1285.7H1254V1289.1H1218.3zM1218.3 1292.1H1254V1295.5H1218.3zM1218.3 1362.6H1254V1366H1218.3zM1253.7 805.4H1289.4V812H1253.7zM1253.7 815H1289.4V828H1253.7zM1253.7 840.6H1289.4V844H1253.7zM1253.7 859.8H1289.4V872.9H1253.7zM1253.7 888.7H1289.4V892.1H1253.7zM1253.7 898.3H1289.4V901.7H1253.7zM1253.7 923.9H1289.4V927.3H1253.7zM1253.7 946.3H1289.4V952.9H1253.7zM1253.7 1013.5H1289.4V1016.9H1253.7zM1253.7 1032.8H1289.4V1036.2H1253.7zM1253.7 1045.6H1289.4V1049H1253.7zM1253.7 1055.2H1289.4V1058.6H1253.7zM1253.7 1080.8H1289.4V1084.2H1253.7zM1253.7 1122.4H1289.4V1125.8H1253.7zM1253.7 1176.8H1289.4V1180.2H1253.7zM1253.7 1205.7H1289.4V1209.1H1253.7zM1253.7 1292.1H1289.4V1298.7H1253.7zM1253.7 1346.5H1289.4V1350H1253.7zM1253.7 1372.2H1289.4V1375.6H1253.7zM1253.7 1378.6H1289.4V1382H1253.7zM1289.1 952.7H1324.8V959.3H1289.1zM1289.1 965.5H1324.8V972.1H1289.1zM1289.1 1071.2H1324.8V1081H1289.1zM1289.1 1122.4H1324.8V1125.8H1289.1zM1289.1 1132H1324.8V1145H1289.1zM1289.1 1183.2H1324.8V1189.9H1289.1zM1289.1 1276.1H1324.8V1279.5H1289.1zM1289.1 1292.1H1324.8V1295.5H1289.1zM1289.1 1301.7H1324.8V1314.7H1289.1zM1289.1 1330.5H1324.8V1333.9H1289.1zM1289.1 1346.5H1324.8V1353.2H1289.1zM1289.1 1420.2H1324.8V1423.6H1289.1zM1289.1 1426.6H1324.8V1430H1289.1zM1324.5 859.8H1360.1V863.2H1324.5zM1324.5 879.1H1360.1V882.5H1324.5zM1324.5 901.5H1360.1V904.9H1324.5zM1324.5 911.1H1360.1V914.5H1324.5zM1324.5 920.7H1360.1V924.1H1324.5zM1324.5 975.1H1360.1V978.5H1324.5zM1324.5 1029.5H1360.1V1042.6H1324.5zM1324.5 1048.8H1360.1V1055.4H1324.5zM1324.5 1058.4H1360.1V1061.8H1324.5zM1324.5 1064.8H1360.1V1068.2H1324.5zM1324.5 1135.2H1360.1V1138.6H1324.5zM1324.5 1164H1360.1V1170.6H1324.5zM1324.5 1192.9H1360.1V1196.3H1324.5zM1324.5 1276.1H1360.1V1282.7H1324.5zM1324.5 1288.9H1360.1V1301.9H1324.5zM1324.5 1317.7H1360.1V1321.1H1324.5zM1324.5 1353H1360.1V1356.4H1324.5zM1324.5 1407.4H1360.1V1410.8H1324.5zM1324.5 1426.6H1360.1V1430H1324.5zM1359.8 802.2H1395.5V805.6H1359.8zM1359.8 808.6H1395.5V815.2H1359.8zM1359.8 818.2H1395.5V821.6H1359.8zM1359.8 824.6H1395.5V828H1359.8zM1359.8 859.8H1395.5V863.2H1359.8zM1359.8 872.7H1395.5V876.1H1359.8zM1359.8 920.7H1395.5V927.3H1359.8zM1359.8 981.5H1395.5V988.1H1359.8zM1359.8 1023.1H1395.5V1026.5H1359.8zM1359.8 1029.5H1395.5V1042.6H1359.8zM1359.8 1061.6H1395.5V1068.2H1359.8zM1359.8 1112.8H1395.5V1116.2H1359.8zM1359.8 1157.6H1395.5V1161H1359.8zM1359.8 1167.2H1395.5V1170.6H1359.8zM1359.8 1285.7H1395.5V1289.1H1359.8zM1359.8 1340.1H1395.5V1346.7H1359.8zM1359.8 1349.8H1395.5V1356.4H1359.8zM1359.8 1359.4H1395.5V1375.6H1359.8zM1359.8 1391.4H1395.5V1394.8H1359.8zM1359.8 1407.4H1395.5V1410.8H1359.8zM1395.2 799H1430.9V802.4H1395.2zM1395.2 808.6H1430.9V818.4H1395.2zM1395.2 824.6H1430.9V828H1395.2zM1395.2 866.2H1430.9V869.6H1395.2zM1395.2 872.7H1430.9V876.1H1395.2zM1395.2 895.1H1430.9V901.7H1395.2zM1395.2 914.3H1430.9V917.7H1395.2zM1395.2 930.3H1430.9V933.7H1395.2zM1395.2 936.7H1430.9V943.3H1395.2zM1395.2 971.9H1430.9V978.5H1395.2zM1395.2 981.5H1430.9V988.1H1395.2zM1395.2 1003.9H1430.9V1007.3H1395.2zM1395.2 1026.3H1430.9V1029.8H1395.2zM1395.2 1058.4H1430.9V1068.2H1395.2zM1395.2 1093.6H1430.9V1100.2H1395.2zM1395.2 1116H1430.9V1122.6H1395.2zM1395.2 1138.4H1430.9V1151.4H1395.2zM1395.2 1279.3H1430.9V1282.7H1395.2zM1395.2 1288.9H1430.9V1295.5H1395.2zM1395.2 1301.7H1430.9V1305.1H1395.2zM1395.2 1311.3H1430.9V1314.7H1395.2zM1395.2 1333.7H1430.9V1337.1H1395.2zM1395.2 1417H1430.9V1420.4H1395.2zM1430.6 789.4H1466.3V792.8H1430.6zM1430.6 824.6H1466.3V828H1430.6zM1430.6 850.2H1466.3V853.6H1430.6zM1430.6 866.2H1466.3V869.6H1430.6zM1430.6 872.7H1466.3V879.3H1430.6zM1430.6 901.5H1466.3V904.9H1430.6zM1430.6 911.1H1466.3V917.7H1430.6zM1430.6 920.7H1466.3V930.5H1430.6zM1430.6 933.5H1466.3V936.9H1430.6zM1430.6 955.9H1466.3V959.3H1430.6zM1430.6 968.7H1466.3V975.3H1430.6zM1430.6 978.3H1466.3V984.9H1430.6zM1430.6 1013.5H1466.3V1016.9H1430.6zM1430.6 1019.9H1466.3V1023.3H1430.6zM1430.6 1032.8H1466.3V1045.8H1430.6zM1430.6 1058.4H1466.3V1061.8H1430.6zM1430.6 1071.2H1466.3V1074.6H1430.6zM1430.6 1084H1466.3V1093.8H1430.6zM1430.6 1100H1466.3V1103.4H1430.6zM1430.6 1122.4H1466.3V1125.8H1430.6zM1430.6 1132H1466.3V1135.4H1430.6zM1430.6 1141.6H1466.3V1148.2H1430.6zM1430.6 1176.8H1466.3V1180.2H1430.6zM1430.6 1295.3H1466.3V1301.9H1430.6zM1430.6 1311.3H1466.3V1314.7H1430.6zM1430.6 1327.3H1466.3V1333.9H1430.6zM1430.6 1340.1H1466.3V1350H1430.6zM1430.6 1356.2H1466.3V1359.6H1430.6zM1430.6 1365.8H1466.3V1378.8H1430.6zM1430.6 1381.8H1466.3V1385.2H1430.6zM1466 789.4H1501.7V796H1466zM1466 811.8H1501.7V815.2H1466zM1466 818.2H1501.7V824.8H1466zM1466 847H1501.7V850.4H1466zM1466 853.4H1501.7V856.8H1466zM1466 869.4H1501.7V876.1H1466zM1466 879.1H1501.7V882.5H1466zM1466 943.1H1501.7V956.1H1466zM1466 997.5H1501.7V1013.7H1466zM1466 1023.1H1501.7V1026.5H1466zM1466 1039.2H1501.7V1042.6H1466zM1466 1048.8H1501.7V1058.6H1466zM1466 1084H1501.7V1090.6H1466zM1466 1103.2H1501.7V1106.6H1466zM1466 1109.6H1501.7V1116.2H1466zM1466 1135.2H1501.7V1138.6H1466zM1466 1154.4H1501.7V1157.8H1466zM1466 1160.8H1501.7V1164.2H1466zM1466 1173.6H1501.7V1180.2H1466zM1466 1183.2H1501.7V1189.9H1466zM1466 1228.1H1501.7V1231.5H1466zM1466 1285.7H1501.7V1298.7H1466zM1466 1314.5H1501.7V1317.9H1466zM1466 1324.1H1501.7V1327.5H1466zM1466 1333.7H1501.7V1337.1H1466zM1466 1391.4H1501.7V1398H1466zM1466 1426.6H1501.7V1430H1466zM1501.4 795.8H1537.1V805.6H1501.4zM1501.4 815H1537.1V818.4H1501.4zM1501.4 824.6H1537.1V831.2H1501.4zM1501.4 872.7H1537.1V882.5H1501.4zM1501.4 923.9H1537.1V927.3H1501.4zM1501.4 939.9H1537.1V952.9H1501.4zM1501.4 968.7H1537.1V972.1H1501.4zM1501.4 994.3H1537.1V997.7H1501.4zM1501.4 1019.9H1537.1V1026.5H1501.4zM1501.4 1029.5H1537.1V1039.4H1501.4zM1501.4 1058.4H1537.1V1068.2H1501.4zM1501.4 1119.2H1537.1V1122.6H1501.4zM1501.4 1125.6H1537.1V1129H1501.4zM1501.4 1141.6H1537.1V1145H1501.4zM1501.4 1192.9H1537.1V1196.3H1501.4zM1501.4 1320.9H1537.1V1324.3H1501.4zM1501.4 1330.5H1537.1V1333.9H1501.4zM1501.4 1343.3H1537.1V1350H1501.4zM1501.4 1362.6H1537.1V1369.2H1501.4zM1501.4 1378.6H1537.1V1388.4H1501.4zM1501.4 1404.2H1537.1V1410.8H1501.4zM1501.4 1413.8H1537.1V1417.2H1501.4zM1536.8 792.6H1572.5V796H1536.8zM1536.8 802.2H1572.5V805.6H1536.8zM1536.8 808.6H1572.5V821.6H1536.8zM1536.8 872.7H1572.5V876.1H1536.8zM1536.8 882.3H1572.5V888.9H1536.8zM1536.8 914.3H1572.5V917.7H1536.8zM1536.8 920.7H1572.5V924.1H1536.8zM1536.8 952.7H1572.5V956.1H1536.8zM1536.8 965.5H1572.5V968.9H1536.8zM1536.8 1007.1H1572.5V1013.7H1536.8zM1536.8 1029.5H1572.5V1039.4H1536.8zM1536.8 1045.6H1572.5V1055.4H1536.8zM1536.8 1064.8H1572.5V1068.2H1536.8zM1536.8 1106.4H1572.5V1109.8H1536.8zM1536.8 1112.8H1572.5V1122.6H1536.8zM1536.8 1135.2H1572.5V1138.6H1536.8zM1536.8 1141.6H1572.5V1157.8H1536.8zM1536.8 1279.3H1572.5V1282.7H1536.8zM1536.8 1292.1H1572.5V1295.5H1536.8zM1536.8 1301.7H1572.5V1317.9H1536.8zM1536.8 1343.3H1572.5V1350H1536.8zM1536.8 1381.8H1572.5V1385.2H1536.8zM1572.2 792.6H1607.9V799.2H1572.2zM1572.2 853.4H1607.9V863.2H1572.2zM1572.2 952.7H1607.9V959.3H1572.2zM1572.2 965.5H1607.9V972.1H1572.2zM1572.2 1000.7H1607.9V1010.5H1572.2zM1572.2 1048.8H1607.9V1055.4H1572.2zM1572.2 1160.8H1607.9V1164.2H1572.2zM1572.2 1167.2H1607.9V1173.8H1572.2zM1572.2 1285.7H1607.9V1295.5H1572.2zM1572.2 1298.5H1607.9V1301.9H1572.2zM1572.2 1314.5H1607.9V1317.9H1572.2zM1572.2 1330.5H1607.9V1343.5H1572.2zM1572.2 1359.4H1607.9V1362.8H1572.2zM1607.6 789.4H1643.3V799.2H1607.6zM1607.6 802.2H1643.3V808.8H1607.6zM1607.6 811.8H1643.3V818.4H1607.6zM1607.6 827.8H1643.3V831.2H1607.6zM1607.6 837.4H1643.3V840.8H1607.6zM1607.6 843.8H1643.3V847.2H1607.6zM1607.6 863H1643.3V872.9H1607.6zM1607.6 888.7H1643.3V895.3H1607.6zM1607.6 917.5H1643.3V920.9H1607.6zM1607.6 933.5H1643.3V946.5H1607.6zM1607.6 968.7H1643.3V972.1H1607.6zM1607.6 978.3H1643.3V984.9H1607.6zM1607.6 1000.7H1643.3V1004.1H1607.6zM1607.6 1042.4H1643.3V1055.4H1607.6zM1607.6 1058.4H1643.3V1061.8H1607.6zM1607.6 1068H1643.3V1074.6H1607.6zM1607.6 1100H1643.3V1103.4H1607.6zM1607.6 1122.4H1643.3V1125.8H1607.6zM1607.6 1151.2H1643.3V1157.8H1607.6zM1607.6 1160.8H1643.3V1164.2H1607.6zM1607.6 1279.3H1643.3V1282.7H1607.6zM1607.6 1295.3H1643.3V1298.7H1607.6zM1607.6 1330.5H1643.3V1337.1H1607.6zM1607.6 1356.2H1643.3V1369.2H1607.6zM1607.6 1381.8H1643.3V1385.2H1607.6zM1607.6 1420.2H1643.3V1423.6H1607.6z"/>
<path fill="#5E8EC1" d="M829 968.7H864.7V972.1H829zM829 1003.9H864.7V1007.3H829zM829 1301.7H864.7V1305.1H829zM829 1327.3H864.7V1330.7H829zM864.4 866.2H900.1V869.6H864.4zM864.4 882.3H900.1V892.1H864.4zM864.4 981.5H900.1V984.9H864.4zM864.4 1029.5H900.1V1033H864.4zM864.4 1218.5H900.1V1221.9H864.4zM864.4 1320.9H900.1V1327.5H864.4zM864.4 1397.8H900.1V1401.2H864.4zM899.8 1080.8H935.5V1087.4H899.8zM899.8 1141.6H935.5V1145H899.8zM899.8 1320.9H935.5V1324.3H899.8zM899.8 1343.3H935.5V1346.7H899.8zM935.2 795.8H970.9V799.2H935.2zM935.2 927.1H970.9V930.5H935.2zM935.2 1148H970.9V1151.4H935.2zM935.2 1192.9H970.9V1199.5H935.2zM935.2 1304.9H970.9V1308.3H935.2zM935.2 1375.4H970.9V1388.4H935.2zM970.6 904.7H1006.2V908.1H970.6zM970.6 1144.8H1006.2V1148.2H970.6zM970.6 1157.6H1006.2V1161H970.6zM970.6 1282.5H1006.2V1289.1H970.6zM970.6 1317.7H1006.2V1321.1H970.6zM970.6 1420.2H1006.2V1426.8H970.6zM1006 1042.4H1041.6V1045.8H1006zM1006 1058.4H1041.6V1061.8H1006zM1006 1074.4H1041.6V1077.8H1006zM1006 1096.8H1041.6V1100.2H1006zM1006 1148H1041.6V1151.4H1006zM1006 1160.8H1041.6V1167.4H1006zM1006 1272.9H1041.6V1276.3H1006zM1041.3 1132H1077V1135.4H1041.3zM1041.3 1164H1077V1173.8H1041.3zM1041.3 1208.9H1077V1215.5H1041.3zM1076.7 795.8H1112.4V799.2H1076.7zM1076.7 1013.5H1112.4V1020.1H1076.7zM1076.7 1135.2H1112.4V1138.6H1076.7zM1076.7 1285.7H1112.4V1298.7H1076.7zM1076.7 1372.2H1112.4V1375.6H1076.7zM1112.1 824.6H1147.8V828H1112.1zM1112.1 917.5H1147.8V924.1H1112.1zM1112.1 968.7H1147.8V972.1H1112.1zM1112.1 987.9H1147.8V991.3H1112.1zM1112.1 997.5H1147.8V1004.1H1112.1zM1112.1 1045.6H1147.8V1049H1112.1zM1112.1 1112.8H1147.8V1116.2H1112.1zM1147.5 1100H1183.2V1103.4H1147.5zM1147.5 1247.3H1183.2V1250.7H1147.5zM1182.9 984.7H1218.6V988.1H1182.9zM1182.9 1048.8H1218.6V1052.2H1182.9zM1182.9 1090.4H1218.6V1093.8H1182.9zM1182.9 1378.6H1218.6V1385.2H1182.9zM1182.9 1420.2H1218.6V1426.8H1182.9zM1218.3 789.4H1254V802.4H1218.3zM1218.3 805.4H1254V808.8H1218.3zM1218.3 1010.3H1254V1013.7H1218.3zM1218.3 1068H1254V1071.4H1218.3zM1218.3 1388.2H1254V1391.6H1218.3zM1253.7 1016.7H1289.4V1020.1H1253.7zM1253.7 1285.7H1289.4V1289.1H1253.7zM1253.7 1308.1H1289.4V1314.7H1253.7zM1253.7 1391.4H1289.4V1394.8H1253.7zM1253.7 1397.8H1289.4V1401.2H1253.7zM1289.1 1128.8H1324.8V1132.2H1289.1zM1289.1 1164H1324.8V1167.4H1289.1zM1289.1 1205.7H1324.8V1212.3H1289.1zM1289.1 1228.1H1324.8V1241.1H1289.1zM1289.1 1244.1H1324.8V1247.5H1289.1zM1289.1 1250.5H1324.8V1253.9H1289.1zM1289.1 1365.8H1324.8V1369.2H1289.1zM1324.5 808.6H1360.1V815.2H1324.5zM1324.5 891.9H1360.1V901.7H1324.5zM1324.5 907.9H1360.1V911.3H1324.5zM1324.5 914.3H1360.1V917.7H1324.5zM1324.5 968.7H1360.1V972.1H1324.5zM1324.5 994.3H1360.1V997.7H1324.5zM1324.5 1109.6H1360.1V1116.2H1324.5zM1359.8 888.7H1395.5V892.1H1359.8zM1359.8 994.3H1395.5V1000.9H1359.8zM1359.8 1116H1395.5V1122.6H1359.8zM1359.8 1186.4H1395.5V1189.9H1359.8zM1395.2 840.6H1430.9V844H1395.2zM1395.2 863H1430.9V866.4H1395.2zM1395.2 1080.8H1430.9V1087.4H1395.2zM1395.2 1298.5H1430.9V1301.9H1395.2zM1395.2 1346.5H1430.9V1350H1395.2zM1395.2 1362.6H1430.9V1366H1395.2zM1430.6 1000.7H1466.3V1004.1H1430.6zM1430.6 1116H1466.3V1119.4H1430.6zM1430.6 1173.6H1466.3V1177H1430.6zM1430.6 1391.4H1466.3V1404.4H1430.6zM1466 866.2H1501.7V869.6H1466zM1466 1071.2H1501.7V1077.8H1466zM1466 1128.8H1501.7V1132.2H1466zM1466 1272.9H1501.7V1282.7H1466zM1501.4 914.3H1537.1V917.7H1501.4zM1501.4 1045.6H1537.1V1052.2H1501.4zM1501.4 1106.4H1537.1V1109.8H1501.4zM1501.4 1128.8H1537.1V1135.4H1501.4zM1501.4 1154.4H1537.1V1167.4H1501.4zM1501.4 1234.5H1537.1V1237.9H1501.4zM1536.8 840.6H1572.5V844H1536.8zM1536.8 955.9H1572.5V959.3H1536.8zM1536.8 1256.9H1572.5V1260.3H1536.8zM1536.8 1320.9H1572.5V1327.5H1536.8zM1536.8 1333.7H1572.5V1337.1H1536.8zM1572.2 975.1H1607.9V984.9H1572.2zM1572.2 1019.9H1607.9V1023.3H1572.2zM1572.2 1212.1H1607.9V1218.7H1572.2zM1572.2 1343.3H1607.9V1346.7H1572.2zM1607.6 808.6H1643.3V812H1607.6zM1607.6 895.1H1643.3V898.5H1607.6zM1607.6 1032.8H1643.3V1042.6H1607.6zM1607.6 1080.8H1643.3V1087.4H1607.6zM1607.6 1288.9H1643.3V1295.5H1607.6z"/>
<path fill="#6B9AC8" d="M829 815H864.7V818.4H829zM829 955.9H864.7V959.3H829zM829 1019.9H864.7V1023.3H829zM829 1029.5H864.7V1033H829zM829 1170.4H864.7V1173.8H829zM829 1205.7H864.7V1209.1H829zM829 1212.1H864.7V1231.5H829zM829 1343.3H864.7V1350H829zM829 1353H864.7V1356.4H829zM864.4 815H900.1V818.4H864.4zM864.4 1016.7H900.1V1020.1H864.4zM864.4 1048.8H900.1V1052.2H864.4zM864.4 1170.4H900.1V1180.2H864.4zM864.4 1186.4H900.1V1189.9H864.4zM864.4 1221.7H900.1V1228.3H864.4zM864.4 1356.2H900.1V1372.4H864.4zM864.4 1375.4H900.1V1378.8H864.4zM864.4 1381.8H900.1V1388.4H864.4zM864.4 1394.6H900.1V1398H864.4zM899.8 923.9H935.5V927.3H899.8zM899.8 1087.2H935.5V1090.6H899.8zM899.8 1128.8H935.5V1135.4H899.8zM899.8 1164H935.5V1167.4H899.8zM899.8 1218.5H935.5V1221.9H899.8zM899.8 1240.9H935.5V1247.5H899.8zM899.8 1276.1H935.5V1282.7H899.8zM899.8 1317.7H935.5V1321.1H899.8zM899.8 1369H935.5V1372.4H899.8zM899.8 1420.2H935.5V1423.6H899.8zM935.2 1061.6H970.9V1065H935.2zM935.2 1103.2H970.9V1106.6H935.2zM935.2 1154.4H970.9V1157.8H935.2zM935.2 1183.2H970.9V1186.6H935.2zM935.2 1189.7H970.9V1193.1H935.2zM935.2 1218.5H970.9V1221.9H935.2zM935.2 1349.8H970.9V1353.2H935.2zM970.6 959.1H1006.2V962.5H970.6zM970.6 1160.8H1006.2V1164.2H970.6zM970.6 1170.4H1006.2V1177H970.6zM970.6 1224.9H1006.2V1228.3H970.6zM970.6 1260.1H1006.2V1269.9H970.6zM970.6 1353H1006.2V1356.4H970.6zM1006 901.5H1041.6V904.9H1006zM1006 1170.4H1041.6V1173.8H1006zM1006 1215.3H1041.6V1218.7H1006zM1006 1269.7H1041.6V1273.1H1006zM1006 1423.4H1041.6V1430H1006zM1041.3 1103.2H1077V1109.8H1041.3zM1041.3 1135.2H1077V1138.6H1041.3zM1041.3 1157.6H1077V1161H1041.3zM1041.3 1244.1H1077V1247.5H1041.3zM1041.3 1308.1H1077V1311.5H1041.3zM1041.3 1407.4H1077V1414H1041.3zM1076.7 981.5H1112.4V984.9H1076.7zM1076.7 1234.5H1112.4V1237.9H1076.7zM1076.7 1240.9H1112.4V1247.5H1076.7zM1076.7 1282.5H1112.4V1285.9H1076.7zM1076.7 1327.3H1112.4V1330.7H1076.7zM1112.1 856.6H1147.8V863.2H1112.1zM1112.1 978.3H1147.8V988.1H1112.1zM1112.1 1125.6H1147.8V1132.2H1112.1zM1112.1 1138.4H1147.8V1141.8H1112.1zM1112.1 1173.6H1147.8V1177H1112.1zM1112.1 1199.3H1147.8V1205.9H1112.1zM1112.1 1224.9H1147.8V1228.3H1112.1zM1112.1 1244.1H1147.8V1250.7H1112.1zM1112.1 1308.1H1147.8V1311.5H1112.1zM1112.1 1423.4H1147.8V1426.8H1112.1zM1147.5 1048.8H1183.2V1052.2H1147.5zM1147.5 1103.2H1183.2V1109.8H1147.5zM1147.5 1183.2H1183.2V1186.6H1147.5zM1147.5 1234.5H1183.2V1241.1H1147.5zM1147.5 1244.1H1183.2V1247.5H1147.5zM1147.5 1250.5H1183.2V1253.9H1147.5zM1147.5 1285.7H1183.2V1289.1H1147.5zM1147.5 1391.4H1183.2V1394.8H1147.5zM1147.5 1407.4H1183.2V1410.8H1147.5zM1182.9 815H1218.6V818.4H1182.9zM1182.9 853.4H1218.6V860H1182.9zM1182.9 1068H1218.6V1071.4H1182.9zM1182.9 1074.4H1218.6V1077.8H1182.9zM1182.9 1109.6H1218.6V1116.2H1182.9zM1182.9 1285.7H1218.6V1289.1H1182.9zM1218.3 869.4H1254V872.9H1218.3zM1218.3 1071.2H1254V1074.6H1218.3zM1218.3 1202.5H1254V1205.9H1218.3zM1218.3 1231.3H1254V1234.7H1218.3zM1218.3 1260.1H1254V1263.5H1218.3zM1218.3 1381.8H1254V1388.4H1218.3zM1253.7 879.1H1289.4V885.7H1253.7zM1253.7 939.9H1289.4V943.3H1253.7zM1253.7 984.7H1289.4V988.1H1253.7zM1253.7 1087.2H1289.4V1090.6H1253.7zM1253.7 1128.8H1289.4V1132.2H1253.7zM1253.7 1154.4H1289.4V1157.8H1253.7zM1253.7 1192.9H1289.4V1202.7H1253.7zM1253.7 1324.1H1289.4V1330.7H1253.7zM1253.7 1359.4H1289.4V1366H1253.7zM1253.7 1375.4H1289.4V1378.8H1253.7zM1289.1 1068H1324.8V1071.4H1289.1zM1289.1 1192.9H1324.8V1196.3H1289.1zM1289.1 1202.5H1324.8V1205.9H1289.1zM1289.1 1272.9H1324.8V1276.3H1289.1zM1289.1 1343.3H1324.8V1346.7H1289.1zM1289.1 1394.6H1324.8V1401.2H1289.1zM1324.5 799H1360.1V808.8H1324.5zM1324.5 821.4H1360.1V824.8H1324.5zM1324.5 917.5H1360.1V920.9H1324.5zM1324.5 1071.2H1360.1V1074.6H1324.5zM1324.5 1077.6H1360.1V1081H1324.5zM1324.5 1087.2H1360.1V1090.6H1324.5zM1324.5 1132H1360.1V1135.4H1324.5zM1324.5 1157.6H1360.1V1161H1324.5zM1324.5 1285.7H1360.1V1289.1H1324.5zM1324.5 1388.2H1360.1V1394.8H1324.5zM1324.5 1401H1360.1V1407.6H1324.5zM1324.5 1420.2H1360.1V1426.8H1324.5zM1359.8 856.6H1395.5V860H1359.8zM1359.8 1003.9H1395.5V1007.3H1359.8zM1359.8 1087.2H1395.5V1090.6H1359.8zM1359.8 1103.2H1395.5V1106.6H1359.8zM1359.8 1176.8H1395.5V1180.2H1359.8zM1359.8 1263.3H1395.5V1273.1H1359.8zM1359.8 1417H1395.5V1420.4H1359.8zM1395.2 856.6H1430.9V860H1395.2zM1395.2 987.9H1430.9V991.3H1395.2zM1395.2 1052H1430.9V1055.4H1395.2zM1395.2 1077.6H1430.9V1081H1395.2zM1395.2 1151.2H1430.9V1154.6H1395.2zM1395.2 1224.9H1430.9V1228.3H1395.2zM1395.2 1237.7H1430.9V1241.1H1395.2zM1395.2 1256.9H1430.9V1260.3H1395.2zM1395.2 1320.9H1430.9V1324.3H1395.2zM1395.2 1356.2H1430.9V1362.8H1395.2zM1395.2 1378.6H1430.9V1382H1395.2zM1395.2 1423.4H1430.9V1426.8H1395.2zM1430.6 936.7H1466.3V940.1H1430.6zM1430.6 959.1H1466.3V962.5H1430.6zM1430.6 975.1H1466.3V978.5H1430.6zM1430.6 994.3H1466.3V1000.9H1430.6zM1430.6 1064.8H1466.3V1071.4H1430.6zM1430.6 1103.2H1466.3V1106.6H1430.6zM1430.6 1164H1466.3V1173.8H1430.6zM1430.6 1240.9H1466.3V1244.3H1430.6zM1430.6 1282.5H1466.3V1285.9H1430.6zM1466 863H1501.7V866.4H1466zM1466 978.3H1501.7V984.9H1466zM1466 1026.3H1501.7V1039.4H1466zM1466 1068H1501.7V1071.4H1466zM1466 1132H1501.7V1135.4H1466zM1466 1218.5H1501.7V1221.9H1466zM1466 1304.9H1501.7V1311.5H1466zM1466 1327.3H1501.7V1333.9H1466zM1466 1343.3H1501.7V1350H1466zM1466 1359.4H1501.7V1366H1466zM1466 1372.2H1501.7V1375.6H1466zM1501.4 1138.4H1537.1V1141.8H1501.4zM1501.4 1170.4H1537.1V1180.2H1501.4zM1501.4 1202.5H1537.1V1205.9H1501.4zM1501.4 1231.3H1537.1V1234.7H1501.4zM1501.4 1237.7H1537.1V1244.3H1501.4zM1501.4 1266.5H1537.1V1269.9H1501.4zM1501.4 1295.3H1537.1V1311.5H1501.4zM1501.4 1359.4H1537.1V1362.8H1501.4zM1501.4 1410.6H1537.1V1414H1501.4zM1536.8 843.8H1572.5V850.4H1536.8zM1536.8 1003.9H1572.5V1007.3H1536.8zM1536.8 1109.6H1572.5V1113H1536.8zM1536.8 1164H1572.5V1167.4H1536.8zM1536.8 1176.8H1572.5V1180.2H1536.8zM1536.8 1215.3H1572.5V1218.7H1536.8zM1536.8 1234.5H1572.5V1237.9H1536.8zM1536.8 1250.5H1572.5V1257.1H1536.8zM1536.8 1260.1H1572.5V1266.7H1536.8zM1536.8 1327.3H1572.5V1333.9H1536.8zM1536.8 1378.6H1572.5V1382H1536.8zM1536.8 1404.2H1572.5V1407.6H1536.8zM1572.2 971.9H1607.9V975.3H1572.2zM1572.2 1157.6H1607.9V1161H1572.2zM1572.2 1189.7H1607.9V1193.1H1572.2zM1572.2 1196.1H1607.9V1199.5H1572.2zM1572.2 1301.7H1607.9V1305.1H1572.2zM1572.2 1320.9H1607.9V1324.3H1572.2zM1572.2 1420.2H1607.9V1423.6H1572.2zM1607.6 920.7H1643.3V924.1H1607.6zM1607.6 1016.7H1643.3V1020.1H1607.6zM1607.6 1026.3H1643.3V1029.8H1607.6zM1607.6 1119.2H1643.3V1122.6H1607.6zM1607.6 1189.7H1643.3V1196.3H1607.6zM1607.6 1205.7H1643.3V1221.9H1607.6zM1607.6 1240.9H1643.3V1244.3H1607.6zM1607.6 1266.5H1643.3V1269.9H1607.6zM1607.6 1317.7H1643.3V1321.1H1607.6zM1607.6 1397.8H1643.3V1404.4H1607.6z"/>
<path fill="#78A6CE" d="M829 949.5H864.7V952.9H829zM829 1167.2H864.7V1170.6H829zM829 1247.3H864.7V1250.7H829zM829 1256.9H864.7V1263.5H829zM864.4 991.1H900.1V994.5H864.4zM864.4 1010.3H900.1V1013.7H864.4zM864.4 1061.6H900.1V1065H864.4zM864.4 1263.3H900.1V1269.9H864.4zM864.4 1272.9H900.1V1276.3H864.4zM864.4 1308.1H900.1V1311.5H864.4zM864.4 1388.2H900.1V1394.8H864.4zM899.8 1048.8H935.5V1052.2H899.8zM899.8 1074.4H935.5V1077.8H899.8zM899.8 1189.7H935.5V1193.1H899.8zM899.8 1250.5H935.5V1257.1H899.8zM899.8 1272.9H935.5V1276.3H899.8zM899.8 1311.3H935.5V1317.9H899.8zM899.8 1346.5H935.5V1353.2H899.8zM935.2 1084H970.9V1087.4H935.2zM935.2 1128.8H970.9V1132.2H935.2zM935.2 1135.2H970.9V1138.6H935.2zM935.2 1176.8H970.9V1183.4H935.2zM935.2 1212.1H970.9V1218.7H935.2zM935.2 1221.7H970.9V1225.1H935.2zM935.2 1231.3H970.9V1234.7H935.2zM935.2 1388.2H970.9V1391.6H935.2zM935.2 1426.6H970.9V1430H935.2zM970.6 879.1H1006.2V882.5H970.6zM970.6 920.7H1006.2V924.1H970.6zM970.6 1164H1006.2V1167.4H970.6zM1006 898.3H1041.6V901.7H1006zM1006 1032.8H1041.6V1036.2H1006zM1006 1157.6H1041.6V1161H1006zM1041.3 1253.7H1077V1257.1H1041.3zM1041.3 1330.5H1077V1333.9H1041.3zM1041.3 1381.8H1077V1388.4H1041.3zM1076.7 917.5H1112.4V924.1H1076.7zM1076.7 930.3H1112.4V933.7H1076.7zM1076.7 984.7H1112.4V988.1H1076.7zM1076.7 1247.3H1112.4V1250.7H1076.7zM1076.7 1279.3H1112.4V1282.7H1076.7zM1076.7 1311.3H1112.4V1314.7H1076.7zM1112.1 1196.1H1147.8V1199.5H1112.1zM1112.1 1250.5H1147.8V1253.9H1112.1zM1112.1 1263.3H1147.8V1266.7H1112.1zM1112.1 1349.8H1147.8V1356.4H1112.1zM1112.1 1375.4H1147.8V1378.8H1112.1zM1112.1 1410.6H1147.8V1417.2H1112.1zM1147.5 1029.5H1183.2V1033H1147.5zM1147.5 1090.4H1183.2V1093.8H1147.5zM1147.5 1096.8H1183.2V1100.2H1147.5zM1147.5 1173.6H1183.2V1180.2H1147.5zM1147.5 1189.7H1183.2V1193.1H1147.5zM1147.5 1228.1H1183.2V1231.5H1147.5zM1147.5 1378.6H1183.2V1382H1147.5zM1147.5 1397.8H1183.2V1401.2H1147.5zM1182.9 789.4H1218.6V799.2H1182.9zM1182.9 978.3H1218.6V981.7H1182.9zM1182.9 1199.3H1218.6V1202.7H1182.9zM1182.9 1218.5H1218.6V1221.9H1182.9zM1218.3 872.7H1254V876.1H1218.3zM1218.3 885.5H1254V888.9H1218.3zM1218.3 971.9H1254V975.3H1218.3zM1218.3 1186.4H1254V1189.9H1218.3zM1218.3 1196.1H1254V1199.5H1218.3zM1218.3 1221.7H1254V1231.5H1218.3zM1218.3 1340.1H1254V1343.5H1218.3zM1218.3 1372.2H1254V1375.6H1218.3zM1253.7 850.2H1289.4V853.6H1253.7zM1253.7 933.5H1289.4V940.1H1253.7zM1253.7 981.5H1289.4V984.9H1253.7zM1253.7 1090.4H1289.4V1093.8H1253.7zM1253.7 1106.4H1289.4V1109.8H1253.7zM1253.7 1288.9H1289.4V1292.3H1253.7zM1253.7 1388.2H1289.4V1391.6H1253.7zM1289.1 1112.8H1324.8V1119.4H1289.1zM1289.1 1410.6H1324.8V1414H1289.1zM1324.5 795.8H1360.1V799.2H1324.5zM1324.5 866.2H1360.1V869.6H1324.5zM1324.5 904.7H1360.1V908.1H1324.5zM1324.5 1176.8H1360.1V1180.2H1324.5zM1324.5 1186.4H1360.1V1189.9H1324.5zM1324.5 1215.3H1360.1V1218.7H1324.5zM1324.5 1221.7H1360.1V1225.1H1324.5zM1324.5 1365.8H1360.1V1369.2H1324.5zM1324.5 1417H1360.1V1420.4H1324.5zM1359.8 840.6H1395.5V844H1359.8zM1359.8 907.9H1395.5V911.3H1359.8zM1359.8 1007.1H1395.5V1010.5H1359.8zM1359.8 1042.4H1395.5V1045.8H1359.8zM1359.8 1132H1395.5V1135.4H1359.8zM1359.8 1295.3H1395.5V1305.1H1359.8zM1359.8 1346.5H1395.5V1350H1359.8zM1359.8 1385H1395.5V1391.6H1359.8zM1395.2 1007.1H1430.9V1016.9H1395.2zM1395.2 1029.5H1430.9V1033H1395.2zM1395.2 1039.2H1430.9V1045.8H1395.2zM1395.2 1112.8H1430.9V1116.2H1395.2zM1395.2 1426.6H1430.9V1430H1395.2zM1430.6 1010.3H1466.3V1013.7H1430.6zM1430.6 1045.6H1466.3V1055.4H1430.6zM1430.6 1119.2H1466.3V1122.6H1430.6zM1430.6 1237.7H1466.3V1241.1H1430.6zM1430.6 1253.7H1466.3V1260.3H1430.6zM1430.6 1317.7H1466.3V1321.1H1430.6zM1430.6 1404.2H1466.3V1414H1430.6zM1466 799H1501.7V802.4H1466zM1466 1301.7H1501.7V1305.1H1466zM1466 1349.8H1501.7V1353.2H1466zM1466 1417H1501.7V1423.6H1466zM1501.4 991.1H1537.1V994.5H1501.4zM1501.4 1167.2H1537.1V1170.6H1501.4zM1501.4 1208.9H1537.1V1212.3H1501.4zM1501.4 1256.9H1537.1V1260.3H1501.4zM1501.4 1269.7H1537.1V1273.1H1501.4zM1501.4 1288.9H1537.1V1295.5H1501.4zM1536.8 1068H1572.5V1071.4H1536.8zM1536.8 1272.9H1572.5V1279.5H1536.8zM1536.8 1298.5H1572.5V1301.9H1536.8zM1536.8 1349.8H1572.5V1353.2H1536.8zM1572.2 930.3H1607.9V933.7H1572.2zM1572.2 1039.2H1607.9V1042.6H1572.2zM1572.2 1176.8H1607.9V1180.2H1572.2zM1572.2 1304.9H1607.9V1308.3H1572.2zM1572.2 1362.6H1607.9V1366H1572.2zM1572.2 1410.6H1607.9V1414H1572.2zM1607.6 859.8H1643.3V863.2H1607.6zM1607.6 872.7H1643.3V876.1H1607.6zM1607.6 997.5H1643.3V1000.9H1607.6zM1607.6 1112.8H1643.3V1116.2H1607.6zM1607.6 1164H1643.3V1170.6H1607.6zM1607.6 1231.3H1643.3V1234.7H1607.6zM1607.6 1244.1H1643.3V1247.5H1607.6zM1607.6 1250.5H1643.3V1257.1H1607.6z"/>
<path fill="#84B3D4" d="M829 946.3H864.7V949.7H829zM829 962.3H864.7V968.9H829zM829 994.3H864.7V1004.1H829zM829 1032.8H864.7V1036.2H829zM864.4 872.7H900.1V876.1H864.4zM864.4 1007.1H900.1V1010.5H864.4zM864.4 1269.7H900.1V1273.1H864.4zM864.4 1343.3H900.1V1346.7H864.4zM899.8 1202.5H935.5V1205.9H899.8zM899.8 1224.9H935.5V1228.3H899.8zM899.8 1237.7H935.5V1241.1H899.8zM899.8 1353H935.5V1356.4H899.8zM899.8 1365.8H935.5V1369.2H899.8zM935.2 952.7H970.9V956.1H935.2zM935.2 1023.1H970.9V1033H935.2zM935.2 1087.2H970.9V1090.6H935.2zM935.2 1122.4H970.9V1125.8H935.2zM935.2 1132H970.9V1135.4H935.2zM935.2 1173.6H970.9V1177H935.2zM935.2 1199.3H970.9V1205.9H935.2zM935.2 1269.7H970.9V1273.1H935.2zM935.2 1308.1H970.9V1314.7H935.2zM935.2 1423.4H970.9V1426.8H935.2zM970.6 1093.6H1006.2V1100.2H970.6zM970.6 1122.4H1006.2V1125.8H970.6zM970.6 1336.9H1006.2V1340.3H970.6zM970.6 1349.8H1006.2V1353.2H970.6zM1006 824.6H1041.6V828H1006zM1006 1013.5H1041.6V1016.9H1006zM1006 1029.5H1041.6V1033H1006zM1006 1036H1041.6V1039.4H1006zM1006 1199.3H1041.6V1202.7H1006zM1006 1240.9H1041.6V1244.3H1006zM1041.3 1125.6H1077V1132.2H1041.3zM1041.3 1141.6H1077V1145H1041.3zM1041.3 1231.3H1077V1234.7H1041.3zM1041.3 1237.7H1077V1241.1H1041.3zM1041.3 1247.3H1077V1253.9H1041.3zM1041.3 1260.1H1077V1263.5H1041.3zM1076.7 946.3H1112.4V949.7H1076.7zM1076.7 978.3H1112.4V981.7H1076.7zM1076.7 1064.8H1112.4V1074.6H1076.7zM1076.7 1237.7H1112.4V1241.1H1076.7zM1076.7 1266.5H1112.4V1269.9H1076.7zM1076.7 1365.8H1112.4V1369.2H1076.7zM1112.1 799H1147.8V802.4H1112.1zM1112.1 1048.8H1147.8V1052.2H1112.1zM1112.1 1154.4H1147.8V1157.8H1112.1zM1112.1 1228.1H1147.8V1231.5H1112.1zM1112.1 1304.9H1147.8V1308.3H1112.1zM1112.1 1346.5H1147.8V1350H1112.1zM1112.1 1372.2H1147.8V1375.6H1112.1zM1112.1 1378.6H1147.8V1382H1112.1zM1112.1 1407.4H1147.8V1410.8H1112.1zM1147.5 1212.1H1183.2V1228.3H1147.5zM1147.5 1292.1H1183.2V1295.5H1147.5zM1147.5 1343.3H1183.2V1346.7H1147.5zM1147.5 1401H1183.2V1404.4H1147.5zM1147.5 1417H1183.2V1423.6H1147.5zM1182.9 1000.7H1218.6V1004.1H1182.9zM1182.9 1052H1218.6V1055.4H1182.9zM1182.9 1141.6H1218.6V1145H1182.9zM1182.9 1170.4H1218.6V1173.8H1182.9zM1182.9 1221.7H1218.6V1225.1H1182.9zM1182.9 1256.9H1218.6V1263.5H1182.9zM1182.9 1369H1218.6V1372.4H1182.9zM1218.3 936.7H1254V940.1H1218.3zM1218.3 1240.9H1254V1244.3H1218.3zM1218.3 1266.5H1254V1269.9H1218.3zM1218.3 1298.5H1254V1301.9H1218.3zM1218.3 1391.4H1254V1394.8H1218.3zM1218.3 1404.2H1254V1407.6H1218.3zM1253.7 847H1289.4V850.4H1253.7zM1253.7 991.1H1289.4V994.5H1253.7zM1253.7 1084H1289.4V1087.4H1253.7zM1253.7 1109.6H1289.4V1113H1253.7zM1253.7 1144.8H1289.4V1148.2H1253.7zM1253.7 1186.4H1289.4V1189.9H1253.7zM1253.7 1356.2H1289.4V1359.6H1253.7zM1253.7 1394.6H1289.4V1398H1253.7zM1289.1 1151.2H1324.8V1154.6H1289.1zM1289.1 1157.6H1324.8V1161H1289.1zM1289.1 1356.2H1324.8V1359.6H1289.1zM1289.1 1369H1324.8V1372.4H1289.1zM1289.1 1407.4H1324.8V1410.8H1289.1zM1324.5 1160.8H1360.1V1164.2H1324.5zM1324.5 1385H1360.1V1388.4H1324.5zM1359.8 901.5H1395.5V908.1H1359.8zM1359.8 1218.5H1395.5V1231.5H1359.8zM1359.8 1247.3H1395.5V1250.7H1359.8zM1359.8 1375.4H1395.5V1378.8H1359.8zM1395.2 891.9H1430.9V895.3H1395.2zM1395.2 978.3H1430.9V981.7H1395.2zM1395.2 1087.2H1430.9V1090.6H1395.2zM1395.2 1231.3H1430.9V1237.9H1395.2zM1395.2 1244.1H1430.9V1247.5H1395.2zM1395.2 1250.5H1430.9V1257.1H1395.2zM1395.2 1394.6H1430.9V1398H1395.2zM1430.6 930.3H1466.3V933.7H1430.6zM1430.6 1003.9H1466.3V1010.5H1430.6zM1430.6 1359.4H1466.3V1366H1430.6zM1466 1061.6H1501.7V1065H1466zM1466 1100H1501.7V1103.4H1466zM1466 1164H1501.7V1167.4H1466zM1466 1378.6H1501.7V1382H1466zM1501.4 978.3H1537.1V981.7H1501.4zM1501.4 1144.8H1537.1V1148.2H1501.4zM1501.4 1253.7H1537.1V1257.1H1501.4zM1501.4 1260.1H1537.1V1266.7H1501.4zM1501.4 1272.9H1537.1V1276.3H1501.4zM1536.8 981.5H1572.5V984.9H1536.8zM1536.8 1218.5H1572.5V1221.9H1536.8zM1536.8 1244.1H1572.5V1250.7H1536.8zM1572.2 888.7H1607.9V892.1H1572.2zM1572.2 1109.6H1607.9V1113H1572.2zM1572.2 1173.6H1607.9V1177H1572.2zM1572.2 1192.9H1607.9V1196.3H1572.2zM1572.2 1276.1H1607.9V1279.5H1572.2zM1572.2 1375.4H1607.9V1378.8H1572.2zM1607.6 853.4H1643.3V860H1607.6zM1607.6 1074.4H1643.3V1077.8H1607.6zM1607.6 1237.7H1643.3V1241.1H1607.6zM1607.6 1327.3H1643.3V1330.7H1607.6zM1607.6 1336.9H1643.3V1340.3H1607.6zM1607.6 1353H1643.3V1356.4H1607.6z"/>
<path fill="#91BFDB" d="M829 959.1H864.7V962.5H829zM829 1196.1H864.7V1199.5H829zM864.4 891.9H900.1V895.3H864.4zM864.4 978.3H900.1V981.7H864.4zM864.4 994.3H900.1V1000.9H864.4zM864.4 1003.9H900.1V1007.3H864.4zM864.4 1039.2H900.1V1049H864.4zM864.4 1058.4H900.1V1061.8H864.4zM864.4 1096.8H900.1V1100.2H864.4zM864.4 1160.8H900.1V1164.2H864.4zM864.4 1237.7H900.1V1241.1H864.4zM864.4 1260.1H900.1V1263.5H864.4zM864.4 1401H900.1V1407.6H864.4zM899.8 802.2H935.5V805.6H899.8zM899.8 1013.5H935.5V1023.3H899.8zM899.8 1205.7H935.5V1212.3H899.8zM935.2 840.6H970.9V844H935.2zM935.2 1013.5H970.9V1016.9H935.2zM935.2 1032.8H970.9V1045.8H935.2zM935.2 1170.4H970.9V1173.8H935.2zM935.2 1208.9H970.9V1212.3H935.2zM935.2 1401H970.9V1407.6H935.2zM970.6 1013.5H1006.2V1016.9H970.6zM970.6 1077.6H1006.2V1081H970.6zM970.6 1116H1006.2V1122.6H970.6zM970.6 1199.3H1006.2V1205.9H970.6zM970.6 1212.1H1006.2V1215.5H970.6zM970.6 1343.3H1006.2V1350H970.6zM1006 811.8H1041.6V815.2H1006zM1006 827.8H1041.6V831.2H1006zM1006 895.1H1041.6V898.5H1006zM1006 971.9H1041.6V975.3H1006zM1006 1196.1H1041.6V1199.5H1006zM1041.3 965.5H1077V968.9H1041.3zM1041.3 975.1H1077V981.7H1041.3zM1041.3 1096.8H1077V1100.2H1041.3zM1041.3 1138.4H1077V1141.8H1041.3zM1041.3 1151.2H1077V1154.6H1041.3zM1041.3 1228.1H1077V1231.5H1041.3zM1041.3 1234.5H1077V1237.9H1041.3zM1076.7 792.6H1112.4V796H1076.7zM1076.7 907.9H1112.4V917.7H1076.7zM1076.7 923.9H1112.4V930.5H1076.7zM1076.7 1138.4H1112.4V1141.8H1076.7zM1076.7 1176.8H1112.4V1180.2H1076.7zM1076.7 1407.4H1112.4V1410.8H1076.7zM1112.1 923.9H1147.8V927.3H1112.1zM1112.1 1212.1H1147.8V1215.5H1112.1zM1112.1 1369H1147.8V1372.4H1112.1zM1147.5 1084H1183.2V1090.6H1147.5zM1147.5 1381.8H1183.2V1385.2H1147.5zM1147.5 1394.6H1183.2V1398H1147.5zM1182.9 997.5H1218.6V1000.9H1182.9zM1182.9 1167.2H1218.6V1170.6H1182.9zM1182.9 1253.7H1218.6V1257.1H1182.9zM1218.3 811.8H1254V815.2H1218.3zM1218.3 1237.7H1254V1241.1H1218.3zM1218.3 1301.7H1254V1305.1H1218.3zM1253.7 1148H1289.4V1151.4H1253.7zM1253.7 1279.3H1289.4V1282.7H1253.7zM1253.7 1413.8H1289.4V1417.2H1253.7zM1253.7 1420.2H1289.4V1423.6H1253.7zM1289.1 1154.4H1324.8V1157.8H1289.1zM1289.1 1160.8H1324.8V1164.2H1289.1zM1289.1 1167.2H1324.8V1170.6H1289.1zM1289.1 1189.7H1324.8V1193.1H1289.1zM1289.1 1196.1H1324.8V1199.5H1289.1zM1289.1 1247.3H1324.8V1250.7H1289.1zM1324.5 888.7H1360.1V892.1H1324.5zM1324.5 1061.6H1360.1V1065H1324.5zM1324.5 1189.7H1360.1V1193.1H1324.5zM1324.5 1218.5H1360.1V1221.9H1324.5zM1324.5 1237.7H1360.1V1241.1H1324.5zM1324.5 1253.7H1360.1V1257.1H1324.5zM1324.5 1301.7H1360.1V1305.1H1324.5zM1359.8 891.9H1395.5V898.5H1359.8zM1359.8 911.1H1395.5V914.5H1359.8zM1359.8 1071.2H1395.5V1074.6H1359.8zM1359.8 1084H1395.5V1087.4H1359.8zM1359.8 1138.4H1395.5V1141.8H1359.8zM1359.8 1151.2H1395.5V1154.6H1359.8zM1359.8 1173.6H1395.5V1177H1359.8zM1359.8 1215.3H1395.5V1218.7H1359.8zM1359.8 1244.1H1395.5V1247.5H1359.8zM1359.8 1250.5H1395.5V1253.9H1359.8zM1359.8 1292.1H1395.5V1295.5H1359.8zM1359.8 1413.8H1395.5V1417.2H1359.8zM1395.2 997.5H1430.9V1000.9H1395.2zM1395.2 1100H1430.9V1103.4H1395.2zM1395.2 1128.8H1430.9V1132.2H1395.2zM1395.2 1135.2H1430.9V1138.6H1395.2zM1395.2 1240.9H1430.9V1244.3H1395.2zM1395.2 1260.1H1430.9V1263.5H1395.2zM1395.2 1304.9H1430.9V1308.3H1395.2zM1430.6 1093.6H1466.3V1097H1430.6zM1430.6 1106.4H1466.3V1116.2H1430.6zM1430.6 1224.9H1466.3V1231.5H1430.6zM1430.6 1285.7H1466.3V1292.3H1430.6zM1430.6 1304.9H1466.3V1308.3H1430.6zM1466 987.9H1501.7V991.3H1466zM1466 1058.4H1501.7V1061.8H1466zM1466 1320.9H1501.7V1324.3H1466zM1501.4 927.1H1537.1V930.5H1501.4zM1501.4 987.9H1537.1V991.3H1501.4zM1501.4 1122.4H1537.1V1125.8H1501.4zM1501.4 1135.2H1537.1V1138.6H1501.4zM1501.4 1205.7H1537.1V1209.1H1501.4zM1501.4 1317.7H1537.1V1321.1H1501.4zM1501.4 1333.7H1537.1V1337.1H1501.4zM1501.4 1417H1537.1V1420.4H1501.4zM1536.8 997.5H1572.5V1000.9H1536.8zM1536.8 1090.4H1572.5V1106.6H1536.8zM1536.8 1186.4H1572.5V1189.9H1536.8zM1536.8 1237.7H1572.5V1244.3H1536.8zM1536.8 1269.7H1572.5V1273.1H1536.8zM1536.8 1365.8H1572.5V1369.2H1536.8zM1572.2 789.4H1607.9V792.8H1572.2zM1572.2 885.5H1607.9V888.9H1572.2zM1572.2 1116H1607.9V1119.4H1572.2zM1572.2 1369H1607.9V1372.4H1572.2zM1607.6 847H1643.3V853.6H1607.6zM1607.6 1013.5H1643.3V1016.9H1607.6zM1607.6 1077.6H1643.3V1081H1607.6zM1607.6 1202.5H1643.3V1205.9H1607.6zM1607.6 1221.7H1643.3V1225.1H1607.6zM1607.6 1228.1H1643.3V1231.5H1607.6zM1607.6 1385H1643.3V1388.4H1607.6zM1607.6 1391.4H1643.3V1398H1607.6zM1607.6 1407.4H1643.3V1410.8H1607.6z"/>
<path fill="#9EC8E0" d="M829 981.5H864.7V984.9H829zM829 1045.6H864.7V1049H829zM829 1160.8H864.7V1164.2H829zM829 1192.9H864.7V1196.3H829zM829 1199.3H864.7V1205.9H829zM829 1253.7H864.7V1257.1H829zM829 1404.2H864.7V1407.6H829zM864.4 837.4H900.1V840.8H864.4zM864.4 987.9H900.1V991.3H864.4zM864.4 1000.7H900.1V1004.1H864.4zM864.4 1100H900.1V1106.6H864.4zM864.4 1346.5H900.1V1350H864.4zM899.8 818.2H935.5V821.6H899.8zM899.8 859.8H935.5V866.4H899.8zM899.8 1023.1H935.5V1026.5H899.8zM899.8 1036H935.5V1042.6H899.8zM899.8 1215.3H935.5V1218.7H899.8zM899.8 1301.7H935.5V1305.1H899.8zM899.8 1413.8H935.5V1417.2H899.8zM935.2 856.6H970.9V863.2H935.2zM935.2 959.1H970.9V962.5H935.2zM935.2 978.3H970.9V981.7H935.2zM935.2 1048.8H970.9V1052.2H935.2zM935.2 1064.8H970.9V1071.4H935.2zM935.2 1074.4H970.9V1077.8H935.2zM935.2 1080.8H970.9V1084.2H935.2zM935.2 1167.2H970.9V1170.6H935.2zM935.2 1292.1H970.9V1295.5H935.2zM935.2 1413.8H970.9V1417.2H935.2zM970.6 975.1H1006.2V978.5H970.6zM970.6 997.5H1006.2V1000.9H970.6zM970.6 1007.1H1006.2V1010.5H970.6zM970.6 1016.7H1006.2V1020.1H970.6zM970.6 1032.8H1006.2V1036.2H970.6zM970.6 1074.4H1006.2V1077.8H970.6zM970.6 1167.2H1006.2V1170.6H970.6zM970.6 1183.2H1006.2V1186.6H970.6zM970.6 1205.7H1006.2V1212.3H970.6zM970.6 1237.7H1006.2V1241.1H970.6zM970.6 1340.1H1006.2V1343.5H970.6zM970.6 1365.8H1006.2V1369.2H970.6zM1006 805.4H1041.6V812H1006zM1006 840.6H1041.6V844H1006zM1006 904.7H1041.6V914.5H1006zM1006 981.5H1041.6V984.9H1006zM1006 1084H1041.6V1087.4H1006zM1006 1212.1H1041.6V1215.5H1006zM1006 1420.2H1041.6V1423.6H1006zM1041.3 834.2H1077V837.6H1041.3zM1041.3 840.6H1077V844H1041.3zM1041.3 1064.8H1077V1071.4H1041.3zM1041.3 1324.1H1077V1327.5H1041.3zM1041.3 1391.4H1077V1394.8H1041.3zM1041.3 1397.8H1077V1401.2H1041.3zM1041.3 1404.2H1077V1407.6H1041.3zM1076.7 891.9H1112.4V901.7H1076.7zM1076.7 975.1H1112.4V978.5H1076.7zM1076.7 1061.6H1112.4V1065H1076.7zM1076.7 1100H1112.4V1103.4H1076.7zM1076.7 1410.6H1112.4V1414H1076.7zM1112.1 895.1H1147.8V898.5H1112.1zM1112.1 1215.3H1147.8V1218.7H1112.1zM1112.1 1365.8H1147.8V1369.2H1112.1zM1147.5 946.3H1183.2V949.7H1147.5zM1147.5 1122.4H1183.2V1125.8H1147.5zM1147.5 1231.3H1183.2V1234.7H1147.5zM1147.5 1375.4H1183.2V1378.8H1147.5zM1182.9 991.1H1218.6V997.7H1182.9zM1182.9 1084H1218.6V1087.4H1182.9zM1182.9 1183.2H1218.6V1186.6H1182.9zM1182.9 1192.9H1218.6V1196.3H1182.9zM1182.9 1244.1H1218.6V1247.5H1182.9zM1182.9 1250.5H1218.6V1253.9H1182.9zM1218.3 853.4H1254V856.8H1218.3zM1218.3 1218.5H1254V1221.9H1218.3zM1218.3 1324.1H1254V1330.7H1218.3zM1218.3 1365.8H1254V1369.2H1218.3zM1253.7 1093.6H1289.4V1097H1253.7zM1253.7 1218.5H1289.4V1228.3H1253.7zM1253.7 1263.3H1289.4V1266.7H1253.7zM1253.7 1304.9H1289.4V1308.3H1253.7zM1253.7 1410.6H1289.4V1414H1253.7zM1253.7 1417H1289.4V1420.4H1253.7zM1289.1 1144.8H1324.8V1148.2H1289.1zM1289.1 1199.3H1324.8V1202.7H1289.1zM1289.1 1253.7H1324.8V1257.1H1289.1zM1289.1 1260.1H1324.8V1263.5H1289.1zM1324.5 933.5H1360.1V940.1H1324.5zM1324.5 1080.8H1360.1V1084.2H1324.5zM1324.5 1263.3H1360.1V1266.7H1324.5zM1324.5 1349.8H1360.1V1353.2H1324.5zM1359.8 898.3H1395.5V901.7H1359.8zM1359.8 1125.6H1395.5V1129H1359.8zM1359.8 1135.2H1395.5V1138.6H1359.8zM1359.8 1141.6H1395.5V1145H1359.8zM1359.8 1148H1395.5V1151.4H1359.8zM1359.8 1154.4H1395.5V1157.8H1359.8zM1359.8 1189.7H1395.5V1196.3H1359.8zM1359.8 1288.9H1395.5V1292.3H1359.8zM1359.8 1330.5H1395.5V1333.9H1359.8zM1359.8 1410.6H1395.5V1414H1359.8zM1395.2 802.2H1430.9V805.6H1395.2zM1395.2 1032.8H1430.9V1039.4H1395.2zM1395.2 1176.8H1430.9V1180.2H1395.2zM1395.2 1221.7H1430.9V1225.1H1395.2zM1395.2 1413.8H1430.9V1417.2H1395.2zM1430.6 815H1466.3V818.4H1430.6zM1430.6 847H1466.3V850.4H1430.6zM1430.6 1292.1H1466.3V1295.5H1430.6zM1466 895.1H1501.7V898.5H1466zM1466 984.7H1501.7V988.1H1466zM1466 1212.1H1501.7V1215.5H1466zM1466 1244.1H1501.7V1247.5H1466zM1466 1256.9H1501.7V1260.3H1466zM1466 1407.4H1501.7V1417.2H1466zM1501.4 901.5H1537.1V904.9H1501.4zM1501.4 933.5H1537.1V936.9H1501.4zM1501.4 1052H1537.1V1058.6H1501.4zM1501.4 1084H1537.1V1087.4H1501.4zM1501.4 1221.7H1537.1V1225.1H1501.4zM1501.4 1311.3H1537.1V1317.9H1501.4zM1501.4 1327.3H1537.1V1330.7H1501.4zM1501.4 1420.2H1537.1V1426.8H1501.4zM1536.8 1071.2H1572.5V1074.6H1536.8zM1536.8 1077.6H1572.5V1081H1536.8zM1536.8 1183.2H1572.5V1186.6H1536.8zM1536.8 1359.4H1572.5V1366H1536.8zM1536.8 1407.4H1572.5V1414H1536.8zM1572.2 917.5H1607.9V930.5H1572.2zM1572.2 1103.2H1607.9V1109.8H1572.2zM1572.2 1144.8H1607.9V1151.4H1572.2zM1572.2 1372.2H1607.9V1375.6H1572.2zM1572.2 1423.4H1607.9V1426.8H1572.2zM1607.6 965.5H1643.3V968.9H1607.6zM1607.6 987.9H1643.3V991.3H1607.6zM1607.6 1224.9H1643.3V1228.3H1607.6zM1607.6 1234.5H1643.3V1237.9H1607.6zM1607.6 1388.2H1643.3V1391.6H1607.6zM1607.6 1413.8H1643.3V1417.2H1607.6zM1607.6 1426.6H1643.3V1430H1607.6z"/>
<path fill="#ABD0E5" d="M829 984.7H864.7V988.1H829zM829 1042.4H864.7V1045.8H829zM829 1394.6H864.7V1398H829zM829 1407.4H864.7V1410.8H829zM864.4 818.2H900.1V821.6H864.4zM864.4 975.1H900.1V978.5H864.4zM864.4 1231.3H900.1V1237.9H864.4zM864.4 1247.3H900.1V1260.3H864.4zM864.4 1276.1H900.1V1279.5H864.4zM864.4 1336.9H900.1V1340.3H864.4zM864.4 1407.4H900.1V1410.8H864.4zM864.4 1426.6H900.1V1430H864.4zM899.8 1026.3H935.5V1029.8H899.8zM899.8 1032.8H935.5V1036.2H899.8zM899.8 1045.6H935.5V1049H899.8zM899.8 1058.4H935.5V1061.8H899.8zM899.8 1192.9H935.5V1196.3H899.8zM899.8 1212.1H935.5V1215.5H899.8zM899.8 1295.3H935.5V1298.7H899.8zM899.8 1410.6H935.5V1414H899.8zM935.2 853.4H970.9V856.8H935.2zM935.2 1052H970.9V1055.4H935.2zM935.2 1109.6H970.9V1116.2H935.2zM935.2 1186.4H970.9V1189.9H935.2zM935.2 1228.1H970.9V1231.5H935.2zM935.2 1247.3H970.9V1250.7H935.2zM935.2 1295.3H970.9V1298.7H935.2zM935.2 1372.2H970.9V1375.6H935.2zM935.2 1397.8H970.9V1401.2H935.2zM970.6 971.9H1006.2V975.3H970.6zM970.6 1010.3H1006.2V1013.7H970.6zM970.6 1019.9H1006.2V1026.5H970.6zM970.6 1196.1H1006.2V1199.5H970.6zM970.6 1228.1H1006.2V1231.5H970.6zM970.6 1272.9H1006.2V1279.5H970.6zM1006 975.1H1041.6V978.5H1006zM1006 1016.7H1041.6V1023.3H1006zM1006 1234.5H1041.6V1241.1H1006zM1006 1320.9H1041.6V1324.3H1006zM1006 1343.3H1041.6V1346.7H1006zM1041.3 837.4H1077V840.8H1041.3zM1041.3 968.7H1077V972.1H1041.3zM1041.3 1080.8H1077V1084.2H1041.3zM1041.3 1148H1077V1151.4H1041.3zM1041.3 1362.6H1077V1366H1041.3zM1041.3 1369H1077V1372.4H1041.3zM1041.3 1394.6H1077V1398H1041.3zM1076.7 789.4H1112.4V792.8H1076.7zM1076.7 875.9H1112.4V879.3H1076.7zM1076.7 885.5H1112.4V892.1H1076.7zM1076.7 904.7H1112.4V908.1H1076.7zM1076.7 1404.2H1112.4V1407.6H1076.7zM1076.7 1417H1112.4V1420.4H1076.7zM1076.7 1426.6H1112.4V1430H1076.7zM1112.1 1192.9H1147.8V1196.3H1112.1zM1112.1 1269.7H1147.8V1273.1H1112.1zM1112.1 1324.1H1147.8V1327.5H1112.1zM1112.1 1426.6H1147.8V1430H1112.1zM1147.5 1119.2H1183.2V1122.6H1147.5zM1147.5 1154.4H1183.2V1157.8H1147.5zM1147.5 1192.9H1183.2V1196.3H1147.5zM1147.5 1253.7H1183.2V1257.1H1147.5zM1182.9 955.9H1218.6V962.5H1182.9zM1182.9 1087.2H1218.6V1090.6H1182.9zM1182.9 1096.8H1218.6V1103.4H1182.9zM1182.9 1106.4H1218.6V1109.8H1182.9zM1182.9 1119.2H1218.6V1122.6H1182.9zM1182.9 1240.9H1218.6V1244.3H1182.9zM1182.9 1385H1218.6V1394.8H1182.9zM1182.9 1407.4H1218.6V1410.8H1182.9zM1218.3 1109.6H1254V1113H1218.3zM1218.3 1189.7H1254V1193.1H1218.3zM1218.3 1234.5H1254V1237.9H1218.3zM1218.3 1330.5H1254V1337.1H1218.3zM1218.3 1369H1254V1372.4H1218.3zM1218.3 1420.2H1254V1423.6H1218.3zM1253.7 1061.6H1289.4V1065H1253.7zM1253.7 1103.2H1289.4V1106.6H1253.7zM1253.7 1135.2H1289.4V1138.6H1253.7zM1253.7 1173.6H1289.4V1177H1253.7zM1253.7 1215.3H1289.4V1218.7H1253.7zM1253.7 1244.1H1289.4V1247.5H1253.7zM1253.7 1269.7H1289.4V1276.3H1253.7zM1253.7 1282.5H1289.4V1285.9H1253.7zM1253.7 1333.7H1289.4V1337.1H1253.7zM1253.7 1423.4H1289.4V1430H1253.7zM1289.1 1055.2H1324.8V1058.6H1289.1zM1289.1 1109.6H1324.8V1113H1289.1zM1289.1 1125.6H1324.8V1129H1289.1zM1289.1 1221.7H1324.8V1225.1H1289.1zM1289.1 1256.9H1324.8V1260.3H1289.1zM1289.1 1269.7H1324.8V1273.1H1289.1zM1289.1 1282.5H1324.8V1285.9H1289.1zM1289.1 1423.4H1324.8V1426.8H1289.1zM1324.5 927.1H1360.1V930.5H1324.5zM1324.5 939.9H1360.1V946.5H1324.5zM1324.5 949.5H1360.1V952.9H1324.5zM1324.5 978.3H1360.1V981.7H1324.5zM1324.5 1084H1360.1V1087.4H1324.5zM1324.5 1093.6H1360.1V1100.2H1324.5zM1324.5 1151.2H1360.1V1154.6H1324.5zM1324.5 1196.1H1360.1V1199.5H1324.5zM1324.5 1202.5H1360.1V1205.9H1324.5zM1324.5 1224.9H1360.1V1228.3H1324.5zM1324.5 1231.3H1360.1V1234.7H1324.5zM1324.5 1244.1H1360.1V1247.5H1324.5zM1324.5 1260.1H1360.1V1263.5H1324.5zM1359.8 1077.6H1395.5V1084.2H1359.8zM1359.8 1128.8H1395.5V1132.2H1359.8zM1359.8 1144.8H1395.5V1148.2H1359.8zM1359.8 1231.3H1395.5V1234.7H1359.8zM1359.8 1253.7H1395.5V1260.3H1359.8zM1359.8 1304.9H1395.5V1311.5H1359.8zM1395.2 843.8H1430.9V847.2H1395.2zM1395.2 962.3H1430.9V972.1H1395.2zM1395.2 991.1H1430.9V997.7H1395.2zM1395.2 1173.6H1430.9V1177H1395.2zM1395.2 1228.1H1430.9V1231.5H1395.2zM1395.2 1263.3H1430.9V1269.9H1395.2zM1395.2 1349.8H1430.9V1353.2H1395.2zM1395.2 1404.2H1430.9V1407.6H1395.2zM1395.2 1410.6H1430.9V1414H1395.2zM1430.6 1135.2H1466.3V1138.6H1430.6zM1430.6 1154.4H1466.3V1157.8H1430.6zM1430.6 1308.1H1466.3V1311.5H1430.6zM1430.6 1378.6H1466.3V1382H1430.6zM1430.6 1423.4H1466.3V1426.8H1430.6zM1466 1077.6H1501.7V1084.2H1466zM1466 1096.8H1501.7V1100.2H1466zM1466 1237.7H1501.7V1241.1H1466zM1466 1253.7H1501.7V1257.1H1466zM1466 1336.9H1501.7V1340.3H1466zM1501.4 837.4H1537.1V840.8H1501.4zM1501.4 1212.1H1537.1V1215.5H1501.4zM1501.4 1218.5H1537.1V1221.9H1501.4zM1501.4 1391.4H1537.1V1394.8H1501.4zM1536.8 1080.8H1572.5V1084.2H1536.8zM1536.8 1132H1572.5V1135.4H1536.8zM1536.8 1180H1572.5V1183.4H1536.8zM1536.8 1231.3H1572.5V1234.7H1536.8zM1536.8 1356.2H1572.5V1359.6H1536.8zM1536.8 1394.6H1572.5V1401.2H1536.8zM1572.2 882.3H1607.9V885.7H1572.2zM1572.2 891.9H1607.9V898.5H1572.2zM1572.2 901.5H1607.9V908.1H1572.2zM1572.2 946.3H1607.9V949.7H1572.2zM1572.2 1055.2H1607.9V1058.6H1572.2zM1572.2 1061.6H1607.9V1065H1572.2zM1572.2 1122.4H1607.9V1129H1572.2zM1572.2 1365.8H1607.9V1369.2H1572.2zM1572.2 1388.2H1607.9V1394.8H1572.2zM1607.6 1103.2H1643.3V1113H1607.6zM1607.6 1308.1H1643.3V1317.9H1607.6zM1607.6 1404.2H1643.3V1407.6H1607.6zM1607.6 1410.6H1643.3V1414H1607.6zM1607.6 1423.4H1643.3V1426.8H1607.6z"/>
<path fill="#B8D9EA" d="M829 1119.2H864.7V1122.6H829zM829 1135.2H864.7V1138.6H829zM829 1157.6H864.7V1161H829zM829 1231.3H864.7V1247.5H829zM829 1385H864.7V1388.4H829zM829 1413.8H864.7V1417.2H829zM829 1420.2H864.7V1423.6H829zM864.4 1090.4H900.1V1097H864.4zM864.4 1199.3H900.1V1202.7H864.4zM864.4 1244.1H900.1V1247.5H864.4zM899.8 1042.4H935.5V1045.8H899.8zM899.8 1109.6H935.5V1113H899.8zM899.8 1148H935.5V1151.4H899.8zM899.8 1186.4H935.5V1189.9H899.8zM899.8 1196.1H935.5V1199.5H899.8zM899.8 1221.7H935.5V1225.1H899.8zM899.8 1298.5H935.5V1301.9H899.8zM899.8 1407.4H935.5V1410.8H899.8zM899.8 1417H935.5V1420.4H899.8zM935.2 962.3H970.9V965.7H935.2zM935.2 1007.1H970.9V1013.7H935.2zM935.2 1016.7H970.9V1023.3H935.2zM935.2 1045.6H970.9V1049H935.2zM935.2 1224.9H970.9V1228.3H935.2zM935.2 1410.6H970.9V1414H935.2zM970.6 968.7H1006.2V972.1H970.6zM970.6 1026.3H1006.2V1029.8H970.6zM970.6 1215.3H1006.2V1218.7H970.6zM970.6 1231.3H1006.2V1237.9H970.6zM970.6 1253.7H1006.2V1257.1H970.6zM970.6 1269.7H1006.2V1273.1H970.6zM1006 843.8H1041.6V847.2H1006zM1006 949.5H1041.6V952.9H1006zM1006 978.3H1041.6V981.7H1006zM1006 1023.1H1041.6V1029.8H1006zM1006 1106.4H1041.6V1109.8H1006zM1006 1208.9H1041.6V1212.3H1006zM1006 1260.1H1041.6V1263.5H1006zM1006 1288.9H1041.6V1292.3H1006zM1006 1317.7H1041.6V1321.1H1006zM1041.3 898.3H1077V904.9H1041.3zM1041.3 917.5H1077V920.9H1041.3zM1041.3 933.5H1077V936.9H1041.3zM1041.3 991.1H1077V994.5H1041.3zM1041.3 1084H1077V1087.4H1041.3zM1041.3 1224.9H1077V1228.3H1041.3zM1041.3 1365.8H1077V1369.2H1041.3zM1076.7 1029.5H1112.4V1033H1076.7zM1076.7 1122.4H1112.4V1132.2H1076.7zM1076.7 1228.1H1112.4V1231.5H1076.7zM1076.7 1314.5H1112.4V1317.9H1076.7zM1076.7 1394.6H1112.4V1398H1076.7zM1076.7 1423.4H1112.4V1426.8H1076.7zM1112.1 1029.5H1147.8V1033H1112.1zM1112.1 1362.6H1147.8V1366H1112.1zM1147.5 1016.7H1183.2V1020.1H1147.5zM1147.5 1196.1H1183.2V1199.5H1147.5zM1147.5 1208.9H1183.2V1212.3H1147.5zM1147.5 1240.9H1183.2V1244.3H1147.5zM1147.5 1279.3H1183.2V1285.9H1147.5zM1147.5 1365.8H1183.2V1369.2H1147.5zM1147.5 1413.8H1183.2V1417.2H1147.5zM1182.9 1202.5H1218.6V1205.9H1182.9zM1182.9 1301.7H1218.6V1305.1H1182.9zM1182.9 1314.5H1218.6V1317.9H1182.9zM1182.9 1365.8H1218.6V1369.2H1182.9zM1182.9 1401H1218.6V1404.4H1182.9zM1218.3 1247.3H1254V1250.7H1218.3zM1218.3 1356.2H1254V1362.8H1218.3zM1253.7 1096.8H1289.4V1103.4H1253.7zM1253.7 1138.4H1289.4V1145H1253.7zM1253.7 1228.1H1289.4V1231.5H1253.7zM1253.7 1240.9H1289.4V1244.3H1253.7zM1253.7 1301.7H1289.4V1305.1H1253.7zM1253.7 1336.9H1289.4V1340.3H1253.7zM1253.7 1365.8H1289.4V1369.2H1253.7zM1253.7 1407.4H1289.4V1410.8H1253.7zM1289.1 1218.5H1324.8V1221.9H1289.1zM1289.1 1279.3H1324.8V1282.7H1289.1zM1289.1 1391.4H1324.8V1394.8H1289.1zM1324.5 946.3H1360.1V949.7H1324.5zM1324.5 1125.6H1360.1V1132.2H1324.5zM1324.5 1148H1360.1V1151.4H1324.5zM1324.5 1173.6H1360.1V1177H1324.5zM1324.5 1199.3H1360.1V1202.7H1324.5zM1324.5 1228.1H1360.1V1231.5H1324.5zM1324.5 1247.3H1360.1V1250.7H1324.5zM1324.5 1256.9H1360.1V1260.3H1324.5zM1359.8 968.7H1395.5V972.1H1359.8zM1359.8 1205.7H1395.5V1215.5H1359.8zM1395.2 1045.6H1430.9V1052.2H1395.2zM1395.2 1055.2H1430.9V1058.6H1395.2zM1395.2 1170.4H1430.9V1173.8H1395.2zM1395.2 1208.9H1430.9V1221.9H1395.2zM1395.2 1353H1430.9V1356.4H1395.2zM1395.2 1365.8H1430.9V1369.2H1395.2zM1395.2 1388.2H1430.9V1394.8H1395.2zM1430.6 962.3H1466.3V965.7H1430.6zM1430.6 1055.2H1466.3V1058.6H1430.6zM1430.6 1061.6H1466.3V1065H1430.6zM1430.6 1096.8H1466.3V1100.2H1430.6zM1430.6 1157.6H1466.3V1161H1430.6zM1430.6 1231.3H1466.3V1237.9H1430.6zM1430.6 1420.2H1466.3V1423.6H1430.6zM1466 1045.6H1501.7V1049H1466zM1466 1205.7H1501.7V1212.3H1466zM1466 1221.7H1501.7V1228.3H1466zM1466 1231.3H1501.7V1234.7H1466zM1466 1240.9H1501.7V1244.3H1466zM1466 1250.5H1501.7V1253.9H1466zM1466 1381.8H1501.7V1385.2H1466zM1466 1404.2H1501.7V1407.6H1466zM1501.4 1026.3H1537.1V1029.8H1501.4zM1501.4 1196.1H1537.1V1202.7H1501.4zM1501.4 1215.3H1537.1V1218.7H1501.4zM1501.4 1388.2H1537.1V1391.6H1501.4zM1536.8 1074.4H1572.5V1077.8H1536.8zM1536.8 1084H1572.5V1090.6H1536.8zM1536.8 1199.3H1572.5V1202.7H1536.8zM1536.8 1401H1572.5V1404.4H1536.8zM1572.2 821.4H1607.9V828H1572.2zM1572.2 850.2H1607.9V853.6H1572.2zM1572.2 898.3H1607.9V901.7H1572.2zM1572.2 911.1H1607.9V917.7H1572.2zM1572.2 949.5H1607.9V952.9H1572.2zM1572.2 1036H1607.9V1039.4H1572.2zM1572.2 1058.4H1607.9V1061.8H1572.2zM1572.2 1154.4H1607.9V1157.8H1572.2zM1572.2 1218.5H1607.9V1221.9H1572.2zM1572.2 1263.3H1607.9V1266.7H1572.2zM1572.2 1378.6H1607.9V1382H1572.2zM1572.2 1394.6H1607.9V1401.2H1572.2zM1607.6 1320.9H1643.3V1324.3H1607.6zM1607.6 1372.2H1643.3V1375.6H1607.6z"/>
<path fill="#C6E2EE" d="M829 1109.6H864.7V1113H829zM829 1417H864.7V1420.4H829zM864.4 1138.4H900.1V1145H864.4zM864.4 1240.9H900.1V1244.3H864.4zM864.4 1378.6H900.1V1382H864.4zM864.4 1420.2H900.1V1423.6H864.4zM899.8 1029.5H935.5V1033H899.8zM899.8 1260.1H935.5V1266.7H899.8zM899.8 1372.2H935.5V1375.6H899.8zM899.8 1391.4H935.5V1394.8H899.8zM935.2 1141.6H970.9V1145H935.2zM935.2 1266.5H970.9V1269.9H935.2zM935.2 1407.4H970.9V1410.8H935.2zM970.6 1192.9H1006.2V1196.3H970.6zM970.6 1250.5H1006.2V1253.9H970.6zM970.6 1378.6H1006.2V1382H970.6zM1006 1224.9H1041.6V1228.3H1006zM1006 1256.9H1041.6V1260.3H1006zM1006 1324.1H1041.6V1327.5H1006zM1006 1372.2H1041.6V1375.6H1006zM1006 1388.2H1041.6V1398H1006zM1041.3 930.3H1077V933.7H1041.3zM1041.3 1116H1077V1122.6H1041.3zM1041.3 1221.7H1077V1225.1H1041.3zM1041.3 1240.9H1077V1244.3H1041.3zM1041.3 1372.2H1077V1378.8H1041.3zM1076.7 987.9H1112.4V1004.1H1076.7zM1076.7 1045.6H1112.4V1052.2H1076.7zM1076.7 1196.1H1112.4V1199.5H1076.7zM1076.7 1208.9H1112.4V1212.3H1076.7zM1076.7 1231.3H1112.4V1234.7H1076.7zM1112.1 1234.5H1147.8V1237.9H1112.1zM1112.1 1272.9H1147.8V1282.7H1112.1zM1112.1 1327.3H1147.8V1330.7H1112.1zM1147.5 1199.3H1183.2V1209.1H1147.5zM1147.5 1362.6H1183.2V1366H1147.5zM1147.5 1369H1183.2V1372.4H1147.5zM1182.9 952.7H1218.6V956.1H1182.9zM1182.9 1116H1218.6V1119.4H1182.9zM1182.9 1186.4H1218.6V1189.9H1182.9zM1182.9 1247.3H1218.6V1250.7H1182.9zM1182.9 1263.3H1218.6V1266.7H1182.9zM1182.9 1304.9H1218.6V1308.3H1182.9zM1182.9 1346.5H1218.6V1350H1182.9zM1182.9 1404.2H1218.6V1407.6H1182.9zM1218.3 1151.2H1254V1154.6H1218.3zM1218.3 1256.9H1254V1260.3H1218.3zM1218.3 1417H1254V1420.4H1218.3zM1253.7 965.5H1289.4V968.9H1253.7zM1253.7 1167.2H1289.4V1170.6H1253.7zM1253.7 1202.5H1289.4V1205.9H1253.7zM1253.7 1234.5H1289.4V1237.9H1253.7zM1253.7 1256.9H1289.4V1260.3H1253.7zM1253.7 1276.1H1289.4V1279.5H1253.7zM1253.7 1401H1289.4V1407.6H1253.7zM1289.1 1212.1H1324.8V1215.5H1289.1zM1289.1 1224.9H1324.8V1228.3H1289.1zM1324.5 1116H1360.1V1119.4H1324.5zM1324.5 1138.4H1360.1V1145H1324.5zM1324.5 1394.6H1360.1V1401.2H1324.5zM1359.8 1055.2H1395.5V1058.6H1359.8zM1359.8 1202.5H1395.5V1205.9H1359.8zM1359.8 1240.9H1395.5V1244.3H1359.8zM1395.2 1401H1430.9V1404.4H1395.2zM1430.6 965.5H1466.3V968.9H1430.6zM1430.6 1125.6H1466.3V1129H1430.6zM1430.6 1250.5H1466.3V1253.9H1430.6zM1430.6 1263.3H1466.3V1266.7H1430.6zM1466 1125.6H1501.7V1129H1466zM1466 1234.5H1501.7V1237.9H1466zM1501.4 1080.8H1537.1V1084.2H1501.4zM1501.4 1109.6H1537.1V1119.4H1501.4zM1501.4 1224.9H1537.1V1228.3H1501.4zM1501.4 1394.6H1537.1V1398H1501.4zM1501.4 1401H1537.1V1404.4H1501.4zM1536.8 1128.8H1572.5V1132.2H1536.8zM1536.8 1160.8H1572.5V1164.2H1536.8zM1536.8 1170.4H1572.5V1173.8H1536.8zM1536.8 1192.9H1572.5V1196.3H1536.8zM1536.8 1202.5H1572.5V1205.9H1536.8zM1572.2 834.2H1607.9V847.2H1572.2zM1572.2 907.9H1607.9V911.3H1572.2zM1572.2 1128.8H1607.9V1132.2H1572.2zM1572.2 1183.2H1607.9V1186.6H1572.2zM1572.2 1231.3H1607.9V1234.7H1572.2zM1572.2 1269.7H1607.9V1276.3H1572.2zM1572.2 1353H1607.9V1359.6H1572.2zM1572.2 1381.8H1607.9V1385.2H1572.2zM1607.6 1157.6H1643.3V1161H1607.6zM1607.6 1263.3H1643.3V1266.7H1607.6z"/>
<path fill="#D3EAF3" d="M829 1186.4H864.7V1189.9H829zM829 1208.9H864.7V1212.3H829zM829 1410.6H864.7V1414H829zM829 1423.4H864.7V1426.8H829zM864.4 1189.7H900.1V1199.5H864.4zM864.4 1202.5H900.1V1209.1H864.4zM864.4 1212.1H900.1V1215.5H864.4zM864.4 1423.4H900.1V1426.8H864.4zM899.8 984.7H935.5V994.5H899.8zM899.8 1138.4H935.5V1141.8H899.8zM935.2 1234.5H970.9V1241.1H935.2zM970.6 1244.1H1006.2V1247.5H970.6zM970.6 1401H1006.2V1407.6H970.6zM1006 831H1041.6V834.4H1006zM1006 1205.7H1041.6V1209.1H1006zM1006 1228.1H1041.6V1231.5H1006zM1041.3 1042.4H1077V1049H1041.3zM1041.3 1112.8H1077V1116.2H1041.3zM1041.3 1215.3H1077V1221.9H1041.3zM1041.3 1256.9H1077V1260.3H1041.3zM1041.3 1378.6H1077V1382H1041.3zM1076.7 901.5H1112.4V904.9H1076.7zM1076.7 1250.5H1112.4V1253.9H1076.7zM1076.7 1269.7H1112.4V1273.1H1076.7zM1076.7 1381.8H1112.4V1385.2H1076.7zM1112.1 1237.7H1147.8V1241.1H1112.1zM1112.1 1397.8H1147.8V1401.2H1112.1zM1112.1 1404.2H1147.8V1407.6H1112.1zM1147.5 1423.4H1183.2V1426.8H1147.5zM1218.3 1401H1254V1404.4H1218.3zM1218.3 1407.4H1254V1410.8H1218.3zM1218.3 1413.8H1254V1417.2H1218.3zM1253.7 968.7H1289.4V972.1H1253.7zM1253.7 1237.7H1289.4V1241.1H1253.7zM1253.7 1353H1289.4V1356.4H1253.7zM1289.1 1266.5H1324.8V1269.9H1289.1zM1324.5 831H1360.1V837.6H1324.5zM1324.5 1240.9H1360.1V1244.3H1324.5zM1359.8 955.9H1395.5V962.5H1359.8zM1359.8 965.5H1395.5V968.9H1359.8zM1359.8 1199.3H1395.5V1202.7H1359.8zM1359.8 1401H1395.5V1404.4H1359.8zM1395.2 1247.3H1430.9V1250.7H1395.2zM1395.2 1269.7H1430.9V1273.1H1395.2zM1395.2 1407.4H1430.9V1410.8H1395.2zM1430.6 1189.7H1466.3V1196.3H1430.6zM1430.6 1205.7H1466.3V1209.1H1430.6zM1430.6 1247.3H1466.3V1250.7H1430.6zM1466 1215.3H1501.7V1218.7H1466zM1466 1263.3H1501.7V1269.9H1466zM1466 1356.2H1501.7V1359.6H1466zM1466 1397.8H1501.7V1404.4H1466zM1501.4 1068H1537.1V1081H1501.4zM1501.4 1087.2H1537.1V1090.6H1501.4zM1501.4 1228.1H1537.1V1231.5H1501.4zM1501.4 1244.1H1537.1V1250.7H1501.4zM1536.8 1173.6H1572.5V1177H1536.8zM1536.8 1205.7H1572.5V1209.1H1536.8zM1572.2 827.8H1607.9V834.4H1572.2zM1572.2 933.5H1607.9V936.9H1572.2zM1572.2 1224.9H1607.9V1228.3H1572.2zM1572.2 1234.5H1607.9V1237.9H1572.2zM1572.2 1240.9H1607.9V1247.5H1572.2zM1572.2 1250.5H1607.9V1253.9H1572.2zM1572.2 1260.1H1607.9V1263.5H1572.2zM1572.2 1401H1607.9V1404.4H1572.2zM1607.6 1128.8H1643.3V1151.4H1607.6zM1607.6 1269.7H1643.3V1273.1H1607.6z"/>
<path fill="#E0F3F8" d="M829 1266.5H864.7V1269.9H829zM829 1375.4H864.7V1378.8H829zM864.4 1106.4H900.1V1109.8H864.4zM864.4 1116H900.1V1119.4H864.4zM864.4 1132H900.1V1135.4H864.4zM864.4 1215.3H900.1V1218.7H864.4zM899.8 875.9H935.5V879.3H899.8zM899.8 1256.9H935.5V1260.3H899.8zM899.8 1426.6H935.5V1430H899.8zM935.2 1205.7H970.9V1209.1H935.2zM935.2 1256.9H970.9V1266.7H935.2zM970.6 1186.4H1006.2V1189.9H970.6zM970.6 1247.3H1006.2V1250.7H970.6zM1006 821.4H1041.6V824.8H1006zM1006 1189.7H1041.6V1193.1H1006zM1006 1202.5H1041.6V1205.9H1006zM1006 1218.5H1041.6V1221.9H1006zM1006 1231.3H1041.6V1234.7H1006zM1041.3 920.7H1077V924.1H1041.3zM1041.3 962.3H1077V965.7H1041.3zM1041.3 981.5H1077V984.9H1041.3zM1041.3 1007.1H1077V1010.5H1041.3zM1076.7 1058.4H1112.4V1061.8H1076.7zM1076.7 1116H1112.4V1122.6H1076.7zM1076.7 1272.9H1112.4V1276.3H1076.7zM1076.7 1378.6H1112.4V1382H1076.7zM1112.1 962.3H1147.8V965.7H1112.1zM1112.1 1218.5H1147.8V1225.1H1112.1zM1112.1 1240.9H1147.8V1244.3H1112.1zM1112.1 1253.7H1147.8V1260.3H1112.1zM1112.1 1282.5H1147.8V1285.9H1112.1zM1147.5 962.3H1183.2V968.9H1147.5zM1147.5 1356.2H1183.2V1359.6H1147.5zM1182.9 1189.7H1218.6V1193.1H1182.9zM1182.9 1215.3H1218.6V1218.7H1182.9zM1218.3 1192.9H1254V1196.3H1218.3zM1218.3 1199.3H1254V1202.7H1218.3zM1218.3 1244.1H1254V1247.5H1218.3zM1218.3 1410.6H1254V1414H1218.3zM1253.7 975.1H1289.4V981.7H1253.7zM1253.7 1260.1H1289.4V1263.5H1253.7zM1253.7 1266.5H1289.4V1269.9H1253.7zM1253.7 1381.8H1289.4V1385.2H1253.7zM1289.1 1087.2H1324.8V1093.8H1289.1zM1289.1 1240.9H1324.8V1244.3H1289.1zM1289.1 1263.3H1324.8V1266.7H1289.1zM1324.5 923.9H1360.1V927.3H1324.5zM1324.5 1144.8H1360.1V1148.2H1324.5zM1359.8 1397.8H1395.5V1401.2H1359.8zM1395.2 1397.8H1430.9V1401.2H1395.2zM1430.6 1244.1H1466.3V1247.5H1430.6zM1430.6 1266.5H1466.3V1269.9H1430.6zM1466 965.5H1501.7V968.9H1466zM1466 1353H1501.7V1356.4H1466zM1501.4 1090.4H1537.1V1097H1501.4zM1501.4 1250.5H1537.1V1253.9H1501.4zM1536.8 1196.1H1572.5V1199.5H1536.8zM1536.8 1212.1H1572.5V1215.5H1536.8zM1536.8 1224.9H1572.5V1231.5H1536.8zM1572.2 1090.4H1607.9V1093.8H1572.2zM1572.2 1221.7H1607.9V1225.1H1572.2zM1572.2 1228.1H1607.9V1231.5H1572.2zM1572.2 1237.7H1607.9V1241.1H1572.2zM1572.2 1256.9H1607.9V1260.3H1572.2zM1607.6 1125.6H1643.3V1129H1607.6zM1607.6 1186.4H1643.3V1189.9H1607.6zM1607.6 1196.1H1643.3V1199.5H1607.6z"/>
<path fill="#E5F5EE" d="M829 1100H864.7V1106.6H829zM829 1263.3H864.7V1266.7H829zM829 1269.7H864.7V1273.1H829zM864.4 1135.2H900.1V1138.6H864.4zM899.8 1000.7H935.5V1004.1H899.8zM899.8 1247.3H935.5V1250.7H899.8zM970.6 1218.5H1006.2V1221.9H970.6zM970.6 1240.9H1006.2V1244.3H970.6zM1006 1221.7H1041.6V1225.1H1006zM1006 1244.1H1041.6V1247.5H1006zM1041.3 885.5H1077V898.5H1041.3zM1041.3 994.3H1077V1004.1H1041.3zM1041.3 1186.4H1077V1189.9H1041.3zM1041.3 1202.5H1077V1205.9H1041.3zM1076.7 1052H1112.4V1058.6H1076.7zM1076.7 1276.1H1112.4V1279.5H1076.7zM1112.1 965.5H1147.8V968.9H1112.1zM1147.5 1260.1H1183.2V1263.5H1147.5zM1182.9 1196.1H1218.6V1199.5H1182.9zM1182.9 1205.7H1218.6V1209.1H1182.9zM1182.9 1212.1H1218.6V1215.5H1182.9zM1182.9 1224.9H1218.6V1228.3H1182.9zM1182.9 1276.1H1218.6V1279.5H1182.9zM1253.7 1208.9H1289.4V1212.3H1253.7zM1253.7 1231.3H1289.4V1234.7H1253.7zM1289.1 984.7H1324.8V988.1H1289.1zM1289.1 1093.6H1324.8V1109.8H1289.1zM1289.1 1215.3H1324.8V1218.7H1289.1zM1324.5 837.4H1360.1V840.8H1324.5zM1359.8 962.3H1395.5V965.7H1359.8zM1359.8 978.3H1395.5V981.7H1359.8zM1395.2 1372.2H1430.9V1378.8H1395.2zM1430.6 1260.1H1466.3V1263.5H1430.6zM1466 968.7H1501.7V972.1H1466zM1466 1269.7H1501.7V1273.1H1466zM1501.4 1096.8H1537.1V1100.2H1501.4zM1536.8 1221.7H1572.5V1225.1H1536.8zM1572.2 847H1607.9V850.4H1572.2zM1572.2 1080.8H1607.9V1084.2H1572.2zM1572.2 1093.6H1607.9V1103.4H1572.2zM1572.2 1253.7H1607.9V1257.1H1572.2z"/>
<path fill="#EAF7E5" d="M829 1112.8H864.7V1119.4H829zM829 1141.6H864.7V1145H829zM864.4 1148H900.1V1151.4H864.4zM935.2 875.9H970.9V879.3H935.2zM970.6 1068H1006.2V1071.4H970.6zM970.6 1221.7H1006.2V1225.1H970.6zM970.6 1394.6H1006.2V1398H970.6zM1041.3 911.1H1077V917.7H1041.3zM1041.3 927.1H1077V930.5H1041.3zM1041.3 1196.1H1077V1202.7H1041.3zM1076.7 1212.1H1112.4V1218.7H1076.7zM1182.9 1208.9H1218.6V1212.3H1182.9zM1182.9 1324.1H1218.6V1327.5H1182.9zM1289.1 1019.9H1324.8V1023.3H1289.1zM1324.5 869.4H1360.1V879.3H1324.5zM1324.5 1330.5H1360.1V1333.9H1324.5zM1324.5 1346.5H1360.1V1350H1324.5zM1359.8 875.9H1395.5V882.5H1359.8zM1395.2 1189.7H1430.9V1199.5H1395.2zM1430.6 1269.7H1466.3V1273.1H1430.6zM1466 962.3H1501.7V965.7H1466zM1501.4 936.7H1537.1V940.1H1501.4zM1536.8 939.9H1572.5V943.3H1536.8zM1572.2 936.7H1607.9V946.5H1572.2zM1572.2 1084H1607.9V1090.6H1572.2z"/>
<path fill="#F0F9DC" d="M829 1080.8H864.7V1084.2H829zM829 1096.8H864.7V1100.2H829zM829 1106.4H864.7V1109.8H829zM864.4 1122.4H900.1V1129H864.4zM864.4 1144.8H900.1V1148.2H864.4zM935.2 1240.9H970.9V1247.5H935.2zM970.6 1064.8H1006.2V1068.2H970.6zM970.6 1381.8H1006.2V1394.8H970.6zM970.6 1397.8H1006.2V1401.2H970.6zM970.6 1410.6H1006.2V1420.4H970.6zM1041.3 923.9H1077V927.3H1041.3zM1041.3 971.9H1077V975.3H1041.3zM1041.3 984.7H1077V988.1H1041.3zM1041.3 1109.6H1077V1113H1041.3zM1041.3 1189.7H1077V1196.3H1041.3zM1076.7 1224.9H1112.4V1228.3H1076.7zM1147.5 1263.3H1183.2V1266.7H1147.5zM1218.3 1036H1254V1061.8H1218.3zM1253.7 971.9H1289.4V975.3H1253.7zM1359.8 949.5H1395.5V952.9H1359.8zM1359.8 975.1H1395.5V978.5H1359.8zM1430.6 1202.5H1466.3V1205.9H1430.6zM1466 1138.4H1501.7V1141.8H1466zM1572.2 815H1607.9V821.6H1572.2z"/>
<path fill="#F5FBD2" d="M829 1090.4H864.7V1093.8H829zM829 1132H864.7V1135.4H829zM829 1144.8H864.7V1151.4H829zM864.4 1112.8H900.1V1116.2H864.4zM935.2 1250.5H970.9V1253.9H935.2zM970.6 1407.4H1006.2V1410.8H970.6zM1006 799H1041.6V805.6H1006zM1006 1397.8H1041.6V1401.2H1006zM1041.3 904.7H1077V911.3H1041.3zM1076.7 1106.4H1112.4V1113H1076.7zM1076.7 1202.5H1112.4V1209.1H1076.7zM1076.7 1221.7H1112.4V1225.1H1076.7zM1076.7 1253.7H1112.4V1257.1H1076.7zM1076.7 1260.1H1112.4V1263.5H1076.7zM1147.5 1266.5H1183.2V1269.9H1147.5zM1218.3 1269.7H1254V1276.3H1218.3zM1289.1 1032.8H1324.8V1039.4H1289.1zM1289.1 1048.8H1324.8V1055.4H1289.1zM1324.5 1362.6H1360.1V1366H1324.5zM1359.8 882.3H1395.5V885.7H1359.8zM1395.2 1199.3H1430.9V1209.1H1395.2zM1430.6 1196.1H1466.3V1202.7H1430.6zM1466 1141.6H1501.7V1148.2H1466zM1466 1189.7H1501.7V1193.1H1466zM1466 1202.5H1501.7V1205.9H1466zM1572.2 805.4H1607.9V808.8H1572.2z"/>
<path fill="#FAFDC8" d="M829 1084H864.7V1087.4H829zM829 1093.6H864.7V1097H829zM829 1122.4H864.7V1132.2H829zM829 1138.4H864.7V1141.8H829zM864.4 1119.2H900.1V1122.6H864.4zM864.4 1128.8H900.1V1132.2H864.4zM899.8 994.3H935.5V1000.9H899.8zM935.2 997.5H970.9V1000.9H935.2zM935.2 1253.7H970.9V1257.1H935.2zM970.6 1132H1006.2V1135.4H970.6zM1006 792.6H1041.6V799.2H1006zM1006 1401H1041.6V1407.6H1006zM1041.3 987.9H1077V991.3H1041.3zM1041.3 1032.8H1077V1042.6H1041.3zM1041.3 1052H1077V1061.8H1041.3zM1076.7 952.7H1112.4V956.1H1076.7zM1076.7 1112.8H1112.4V1116.2H1076.7zM1076.7 1218.5H1112.4V1221.9H1076.7zM1076.7 1256.9H1112.4V1260.3H1076.7zM1076.7 1263.3H1112.4V1266.7H1076.7zM1147.5 1269.7H1183.2V1279.5H1147.5zM1182.9 1269.7H1218.6V1273.1H1182.9zM1182.9 1279.3H1218.6V1285.9H1182.9zM1218.3 1160.8H1254V1167.4H1218.3zM1218.3 1276.1H1254V1285.9H1218.3zM1253.7 959.1H1289.4V965.7H1253.7zM1289.1 1039.2H1324.8V1045.8H1289.1zM1324.5 930.3H1360.1V933.7H1324.5zM1324.5 1356.2H1360.1V1362.8H1324.5zM1359.8 952.7H1395.5V956.1H1359.8zM1466 1192.9H1501.7V1202.7H1466zM1501.4 1372.2H1537.1V1378.8H1501.4zM1536.8 1372.2H1572.5V1378.8H1536.8zM1572.2 811.8H1607.9V815.2H1572.2z"/>
<path fill="#FFFFBF" d="M829 1087.2H864.7V1090.6H829zM864.4 1077.6H900.1V1090.6H864.4zM935.2 1000.7H970.9V1004.1H935.2zM970.6 1125.6H1006.2V1129H970.6zM970.6 1135.2H1006.2V1138.6H970.6zM1006 789.4H1041.6V792.8H1006zM1006 1385H1041.6V1388.4H1006zM1006 1410.6H1041.6V1420.4H1006zM1112.1 1298.5H1147.8V1305.1H1112.1zM1182.9 1272.9H1218.6V1276.3H1182.9zM1218.3 1154.4H1254V1157.8H1218.3zM1218.3 1167.2H1254V1173.8H1218.3zM1289.1 1003.9H1324.8V1007.3H1289.1zM1289.1 1016.7H1324.8V1020.1H1289.1zM1289.1 1026.3H1324.8V1033H1289.1zM1289.1 1045.6H1324.8V1049H1289.1zM1289.1 1058.4H1324.8V1061.8H1289.1zM1289.1 1317.7H1324.8V1324.3H1289.1zM1324.5 1343.3H1360.1V1346.7H1324.5zM1359.8 1045.6H1395.5V1049H1359.8zM1359.8 1052H1395.5V1055.4H1359.8zM1501.4 1100H1537.1V1106.6H1501.4zM1572.2 808.6H1607.9V812H1572.2zM1607.6 923.9H1643.3V927.3H1607.6zM1607.6 1256.9H1643.3V1260.3H1607.6z"/>
<path fill="#FFFAB7" d="M829 1064.8H864.7V1074.6H829zM864.4 1068H900.1V1071.4H864.4zM864.4 1109.6H900.1V1113H864.4zM899.8 1061.6H935.5V1065H899.8zM970.6 1128.8H1006.2V1132.2H970.6zM1006 879.1H1041.6V885.7H1006zM1006 1369H1041.6V1372.4H1006zM1006 1381.8H1041.6V1385.2H1006zM1006 1407.4H1041.6V1410.8H1006zM1041.3 1023.1H1077V1033H1041.3zM1041.3 1048.8H1077V1052.2H1041.3zM1076.7 1003.9H1112.4V1007.3H1076.7zM1182.9 1343.3H1218.6V1346.7H1182.9zM1218.3 1157.6H1254V1161H1218.3zM1289.1 879.1H1324.8V882.5H1289.1zM1289.1 987.9H1324.8V994.5H1289.1zM1289.1 1080.8H1324.8V1087.4H1289.1zM1324.5 1320.9H1360.1V1324.3H1324.5zM1359.8 1048.8H1395.5V1052.2H1359.8zM1395.2 1180H1430.9V1183.4H1395.2zM1430.6 1148H1466.3V1154.6H1430.6zM1466 885.5H1501.7V888.9H1466zM1572.2 875.9H1607.9V882.5H1572.2zM1572.2 1404.2H1607.9V1410.8H1572.2zM1607.6 1247.3H1643.3V1250.7H1607.6z"/>
<path fill="#FFF5AF" d="M864.4 1064.8H900.1V1068.2H864.4zM864.4 1333.7H900.1V1337.1H864.4zM935.2 991.1H970.9V997.7H935.2zM935.2 1151.2H970.9V1154.6H935.2zM1006 875.9H1041.6V879.3H1006zM1006 1362.6H1041.6V1369.2H1006zM1041.3 1304.9H1077V1308.3H1041.3zM1076.7 1007.1H1112.4V1013.7H1076.7zM1182.9 1336.9H1218.6V1343.5H1182.9zM1289.1 875.9H1324.8V879.3H1289.1zM1289.1 882.3H1324.8V888.9H1289.1zM1289.1 981.5H1324.8V984.9H1289.1zM1289.1 1007.1H1324.8V1016.9H1289.1zM1324.5 1333.7H1360.1V1343.5H1324.5zM1359.8 917.5H1395.5V920.9H1359.8zM1359.8 971.9H1395.5V975.3H1359.8zM1359.8 1058.4H1395.5V1061.8H1359.8zM1395.2 1183.2H1430.9V1186.6H1395.2z"/>
<path fill="#FEF0A8" d="M1076.7 1304.9H1112.4V1308.3H1076.7zM1182.9 1327.3H1218.6V1337.1H1182.9zM1289.1 994.3H1324.8V1000.9H1289.1zM1324.5 1308.1H1360.1V1311.5H1324.5zM1324.5 1324.1H1360.1V1330.7H1324.5zM1395.2 1164H1430.9V1167.4H1395.2z"/>
<path fill="#FEEAA0" d="M935.2 981.5H970.9V991.3H935.2zM1041.3 959.1H1077V962.5H1041.3zM1076.7 968.7H1112.4V972.1H1076.7zM1076.7 1186.4H1112.4V1193.1H1076.7zM1182.9 1320.9H1218.6V1324.3H1182.9zM1395.2 1160.8H1430.9V1164.2H1395.2zM1466 1180H1501.7V1183.4H1466z"/>
<path fill="#FEE598" d="M864.4 1074.4H900.1V1077.8H864.4zM1041.3 1061.6H1077V1065H1041.3zM1041.3 1122.4H1077V1125.8H1041.3zM1076.7 1036H1112.4V1042.6H1076.7zM1289.1 1170.4H1324.8V1177H1289.1zM1289.1 1340.1H1324.8V1343.5H1289.1zM1395.2 1154.4H1430.9V1161H1395.2z"/>
<path fill="#FEE090" d="M864.4 1071.2H900.1V1074.6H864.4zM1041.3 1003.9H1077V1007.3H1041.3zM1041.3 1010.3H1077V1023.3H1041.3zM1076.7 971.9H1112.4V975.3H1076.7zM1076.7 1042.4H1112.4V1045.8H1076.7zM1218.3 1180H1254V1186.6H1218.3zM1607.6 1343.3H1643.3V1346.7H1607.6z"/>
<path fill="#FED287" d="M970.6 1356.2H1006.2V1359.6H970.6zM1006 1353H1041.6V1362.8H1006zM1147.5 1288.9H1183.2V1292.3H1147.5zM1218.3 1176.8H1254V1180.2H1218.3zM1395.2 1167.2H1430.9V1170.6H1395.2z"/>
<path fill="#FDC47E" d="M829 1074.4H864.7V1077.8H829zM1041.3 952.7H1077V959.3H1041.3zM1182.9 1317.7H1218.6V1321.1H1182.9zM1289.1 1000.7H1324.8V1004.1H1289.1zM1466 1148H1501.7V1154.6H1466z"/>
<path fill="#FDB674" d="M829 1077.6H864.7V1081H829zM1218.3 1173.6H1254V1177H1218.3zM1289.1 891.9H1324.8V895.3H1289.1zM1289.1 907.9H1324.8V914.5H1289.1zM1289.1 923.9H1324.8V927.3H1289.1z"/>
<path fill="#FDA96B" d="M1041.3 949.5H1077V952.9H1041.3zM1289.1 895.1H1324.8V904.9H1289.1zM1289.1 927.1H1324.8V933.7H1289.1zM1289.1 943.1H1324.8V946.5H1289.1z"/>
<path fill="#FC9B62" d="M1289.1 933.5H1324.8V943.3H1289.1z"/>
<path fill="#FC8D59" d="M1289.1 888.7H1324.8V892.1H1289.1zM1289.1 904.7H1324.8V908.1H1289.1zM1289.1 946.3H1324.8V949.7H1289.1z"/>
<path fill="#F67D51" d="M1289.1 792.6H1324.8V802.4H1289.1zM1289.1 850.2H1324.8V860H1289.1zM1289.1 914.3H1324.8V924.1H1289.1z"/>
<path fill="#F06E48" d="M1112.1 1295.3H1147.8V1298.7H1112.1zM1289.1 789.4H1324.8V792.8H1289.1zM1289.1 821.4H1324.8V824.8H1289.1zM1289.1 837.4H1324.8V840.8H1289.1zM1289.1 843.8H1324.8V850.4H1289.1z"/>
<path fill="#EA5E40" d="M1289.1 808.6H1324.8V812H1289.1zM1289.1 831H1324.8V834.4H1289.1z"/>
<path fill="#E34F38" d="M1289.1 805.4H1324.8V808.8H1289.1zM1289.1 811.8H1324.8V821.6H1289.1zM1289.1 824.6H1324.8V828H1289.1zM1289.1 840.6H1324.8V844H1289.1zM1289.1 859.8H1324.8V869.6H1289.1zM1289.1 872.7H1324.8V876.1H1289.1zM1324.5 1314.5H1360.1V1317.9H1324.5z"/>
<path fill="#DD402F" d="M1289.1 802.2H1324.8V805.6H1289.1zM1289.1 827.8H1324.8V831.2H1289.1zM1289.1 834.2H1324.8V837.6H1289.1zM1289.1 869.4H1324.8V872.9H1289.1zM1324.5 1311.3H1360.1V1314.7H1324.5z"/>
<path fill="#D73027" d="M935.2 1288.9H970.9V1292.3H935.2z"/>
</g>
<rect x="829" y="728.3" width="814" height="16.2" fill="#C1E0B4"/>
<rect x="829" y="748.3" width="71.1" height="16" fill="#4DBB7E"/><rect x="899.8" y="748.3" width="71.1" height="16" fill="#DC5FA6"/><rect x="970.6" y="748.3" width="71.1" height="16" fill="#4DBB7E"/><rect x="1041.3" y="748.3" width="141.9" height="16" fill="#DC5FA6"/><rect x="1182.9" y="748.3" width="71.1" height="16" fill="#4DBB7E"/><rect x="1253.7" y="748.3" width="35.7" height="16" fill="#DC5FA6"/><rect x="1289.1" y="748.3" width="71.1" height="16" fill="#4DBB7E"/><rect x="1359.8" y="748.3" width="35.7" height="16" fill="#DC5FA6"/><rect x="1395.2" y="748.3" width="212.6" height="16" fill="#4DBB7E"/><rect x="1607.6" y="748.3" width="35.4" height="16" fill="#DC5FA6"/>
<rect x="829" y="768.2" width="35.7" height="16" fill="#DD87BC"/><rect x="864.4" y="768.2" width="35.7" height="16" fill="#C5D5EE"/><rect x="899.8" y="768.2" width="35.7" height="16" fill="#E9AD1F"/><rect x="935.2" y="768.2" width="35.7" height="16" fill="#3CBEEF"/><rect x="970.6" y="768.2" width="35.7" height="16" fill="#DD87BC"/><rect x="1006" y="768.2" width="35.7" height="16" fill="#C5D5EE"/><rect x="1041.3" y="768.2" width="35.7" height="16" fill="#E9AD1F"/><rect x="1076.7" y="768.2" width="35.7" height="16" fill="#3CBEEF"/><rect x="1112.1" y="768.2" width="35.7" height="16" fill="#E9AD1F"/><rect x="1147.5" y="768.2" width="35.7" height="16" fill="#3CBEEF"/><rect x="1182.9" y="768.2" width="71.1" height="16" fill="#C5D5EE"/><rect x="1253.7" y="768.2" width="35.7" height="16" fill="#3CBEEF"/><rect x="1289.1" y="768.2" width="35.7" height="16" fill="#C5D5EE"/><rect x="1324.5" y="768.2" width="35.7" height="16" fill="#DD87BC"/><rect x="1359.8" y="768.2" width="35.7" height="16" fill="#E9AD1F"/><rect x="1395.2" y="768.2" width="71.1" height="16" fill="#DD87BC"/><rect x="1466" y="768.2" width="35.7" height="16" fill="#C5D5EE"/><rect x="1501.4" y="768.2" width="35.7" height="16" fill="#DD87BC"/><rect x="1536.8" y="768.2" width="35.7" height="16" fill="#C5D5EE"/><rect x="1572.2" y="768.2" width="35.7" height="16" fill="#DD87BC"/><rect x="1607.6" y="768.2" width="35.4" height="16" fill="#E9AD1F"/>
<g font-family="'Liberation Sans',sans-serif" font-size="22" fill="#000"><text x="1648" y="740">location</text><text x="1648" y="760">genotype</text><text x="1648" y="780.5">group</text></g>
<path d="M846.7 725.7V721H882.1V725.7M917.5 725.7V715.3H952.9V725.7M864.4 721V682.7H935.2V715.3M988.3 725.7V720.7H1023.6V725.7M1059 725.7V712.7H1094.4V725.7M1006 720.7V677.3H1076.7V712.7M899.8 682.7V660.7H1041.3V677.3M1236 725.7V722H1271.4V725.7M1200.6 725.7V720H1253.7V722M1165.2 725.7V718H1227.1V720M1129.8 725.7V710.7H1196.2V718M1342.2 725.7V715.7H1377.5V725.7M1448.3 725.7V722H1483.7V725.7M1412.9 725.7V713H1466V722M1519.1 725.7V721.7H1554.5V725.7M1589.9 725.7V714.7H1625.3V725.7M1536.8 721.7V706H1607.6V714.7M1439.5 713V694.7H1572.2V706M1359.8 715.7V690.3H1505.8V694.7M1306.8 725.7V663H1432.8V690.3M1163 710.7V639H1369.8V663M970.6 660.7V560.7H1266.4V639" fill="none" stroke="#1a1a1a" stroke-width="1.2"/>
<path d="M813.9 858H663.7V1085.7H778.7M824.7 815.8H813.9V900H822M811.6 987.9H778.7V1183.5H790.9M819.7 962.2H811.6V1014.4H819.7M825 953.8H819.7V969.2H825M825 994.6H819.7V1033.3H823M816.8 1088H790.9V1278.4H797M824 1068.8H816.8V1107.5H822M809 1208.5H797V1347.7H804.6M821.2 1160.8H809V1256H812.4M822 1224.8H812.4V1287.1H818.9M824 1279.3H818.9V1295.3H824M821.8 1321.5H804.6V1373.9H818.3M824 1355H818.3V1392.8H823" fill="none" stroke="#1a1a1a" stroke-width="1.2"/>
<path d="M829 791H824.5V794.2H829M824.5 792.6H824.4V797.4H829M829 800.6H825.6V803.8H829M824.4 795H824.4V802.2H825.6M829 806.6H825.1V809.8H829M825.1 808.2H824.4V813H829M829 816.2H824.9V819.4H829M824.4 810.6H824.4V817.8H824.9M829 822.6H825.3V825.8H829M824.4 814.2H824.4V824.2H825.3M829 830.8H824.9V834H829M824.9 832.4H824.4V837.2H829M829 827.6H824.4V834.8H824.4M829 840.4H825.4V843.6H829M824.4 831.2H824.4V842H825.4M829 846.6H825V849.8H829M829 853H825.4V856.2H829M825 848.2H824.4V854.6H825.4M829 859.4H824.4V862.6H829M824.4 851.4H824.4V861H824.4M829 865.8H825.2V869H829M824.4 856.2H824.4V867.4H825.2M829 876.8H824.9V880H829M829 873.6H824.6V878.4H824.9M829 886.4H824.6V889.6H829M829 883.2H824.4V888H824.6M829 896H824.8V899.2H829M829 892.8H824.5V897.6H824.8M824.4 885.6H824.4V895.2H824.5M824.6 876H824.4V890.4H824.4M829 904.8H825.2V908H829M829 901.6H824.4V906.4H825.2M829 911.2H825.6V914.4H829M824.4 904H824.4V912.8H825.6M829 917.6H824.7V920.8H829M824.7 919.2H824.4V924H829M824.4 908.4H824.4V921.6H824.4M829 929.8H824.7V933H829M829 926.6H824.4V931.4H824.7M829 936.2H824.6V939.4H829M829 942.6H824.5V945.8H829M824.6 937.8H824.4V944.2H824.5M824.4 929H824.4V941H824.4M829 947.6H825.2V950.8H829M829 954H825V957.2H829M825.2 949.2H824.4V955.6H825M829 964.8H825.5V968H829M829 961.6H824.4V966.4H825.5M829 971.2H825.6V974.4H829M825.6 972.8H824.4V977.6H829M824.4 964H824.4V975.2H824.4M829 982.8H824.6V986H829M829 979.6H824.4V984.4H824.6M829 989.2H824.5V992.4H829M829 995.6H825V998.8H829M824.5 990.8H824.4V997.2H825M824.4 982H824.4V994H824.4M829 1001.6H825.5V1004.8H829M825.5 1003.2H824.4V1008H829M824.4 1005.6H824.4V1011.2H829M829 1014.4H825.3V1017.6H829M824.4 1008.4H824.4V1016H825.3M829 1024.8H824.7V1028H829M829 1021.6H824.4V1026.4H824.7M824.4 1024H824.4V1031.2H829M829 1034.4H825.5V1037.6H829M824.4 1027.6H824.4V1036H825.5M829 1040.8H824.4V1044H829M824.4 1031.8H824.4V1042.4H824.4M829 1050.8H825.3V1054H829M829 1047.6H824.4V1052.4H825.3M829 1057.2H824.7V1060.4H829M824.7 1058.8H824.4V1063.6H829M824.4 1050H824.4V1061.2H824.4M829 1067.6H825.2V1070.8H829M829 1074H825.3V1077.2H829M825.2 1069.2H824.4V1075.6H825.3M829 1081.6H824.5V1084.8H829M829 1088H824.9V1091.2H829M824.5 1083.2H824.4V1089.6H824.9M829 1094.4H825.4V1097.6H829M824.4 1086.4H824.4V1096H825.4M829 1101.6H824.8V1104.8H829M829 1108H825.2V1111.2H829M824.8 1103.2H824.4V1109.6H825.2M829 1116.8H824.5V1120H829M829 1113.6H824.4V1118.4H824.5M829 1123.2H824.4V1126.4H829M824.4 1116H824.4V1124.8H824.4M829 1129.6H824.6V1132.8H829M829 1136H825.1V1139.2H829M824.6 1131.2H824.4V1137.6H825.1M824.4 1120.4H824.4V1134.4H824.4M829 1144.8H824.8V1148H829M824.8 1146.4H824.4V1151.2H829M829 1141.6H824.4V1148.8H824.4M829 1154.4H824.7V1157.6H829M824.7 1156H824.6V1160.8H829M824.4 1145.2H824.4V1158.4H824.6M829 1163.6H824.8V1166.8H829M824.8 1165.2H824.4V1170H829M829 1179.6H825.6V1182.8H829M829 1176.4H824.4V1181.2H825.6M829 1173.2H824.4V1178.8H824.4M824.4 1167.6H824.4V1176H824.4M829 1186.6H825.1V1189.8H829M829 1193H824.9V1196.2H829M829 1199.4H824.5V1202.6H829M824.9 1194.6H824.4V1201H824.5M825.1 1188.2H824.4V1197.8H824.4M829 1209.8H824.6V1213H829M829 1206.6H824.4V1211.4H824.6M829 1216.2H825.6V1219.4H829M829 1222.6H824.9V1225.8H829M824.9 1224.2H824.4V1229H829M825.6 1217.8H824.4V1226.6H824.4M824.4 1209H824.4V1222.2H824.4M829 1234.8H824.9V1238H829M829 1231.6H824.4V1236.4H824.9M829 1241.2H824.9V1244.4H829M824.9 1242.8H824.4V1247.6H829M824.4 1234H824.4V1245.2H824.4M829 1257.2H824.9V1260.4H829M829 1254H824.4V1258.8H824.9M829 1250.8H824.4V1256.4H824.4M824.4 1239.6H824.4V1253.6H824.4M829 1266.8H825.3V1270H829M829 1263.6H824.4V1268.4H825.3M829 1273.2H824.5V1276.4H829M829 1279.6H825.3V1282.8H829M824.5 1274.8H824.4V1281.2H825.3M824.4 1266H824.4V1278H824.4M829 1284.6H824.4V1287.8H829M829 1294.2H825.1V1297.4H829M829 1291H824.4V1295.8H825.1M824.4 1286.2H824.4V1293.4H824.4M829 1301.6H824.7V1304.8H829M829 1308H825.7V1311.2H829M824.7 1303.2H824.4V1309.6H825.7M829 1313.6H825.4V1316.8H829M825.4 1315.2H824.4V1320H829M829 1326.4H824.9V1329.6H829M824.9 1328H824.4V1332.8H829M829 1323.2H824.4V1330.4H824.4M824.4 1317.6H824.4V1326.8H824.4M829 1339.8H825.3V1343H829M829 1336.6H824.4V1341.4H825.3M829 1346.2H825.3V1349.4H829M824.4 1339H824.4V1347.8H825.3M829 1356.8H824.9V1360H829M829 1353.6H824.5V1358.4H824.9M829 1366.4H824.5V1369.6H829M829 1363.2H824.4V1368H824.5M824.5 1356H824.4V1365.6H824.4M829 1373.6H825.1V1376.8H829M829 1380H825.1V1383.2H829M825.1 1381.6H824.4V1386.4H829M829 1389.6H825.2V1392.8H829M824.4 1384H824.4V1391.2H825.2M825.1 1375.2H824.4V1387.6H824.4M829 1396.6H825.6V1399.8H829M829 1403H825.1V1406.2H829M825.1 1404.6H824.4V1409.4H829M825.6 1398.2H824.4V1407H824.4M829 1420H825V1423.2H829M829 1416.8H824.4V1421.6H825M829 1413.6H824.4V1419.2H824.4M829 1426.4H824.6V1429.6H829M824.4 1416.4H824.4V1428H824.6" fill="none" stroke="#1a1a1a" stroke-width="0.9"/>
<path d="M828.2 791V1429" stroke="#101828" stroke-width="1.6" fill="none"/>
<defs><linearGradient id="cbc" x1="0" y1="0" x2="0" y2="1"><stop offset="0.0000" stop-color="#D73027"/><stop offset="0.1667" stop-color="#FC8D59"/><stop offset="0.3333" stop-color="#FEE090"/><stop offset="0.5000" stop-color="#FFFFBF"/><stop offset="0.6667" stop-color="#E0F3F8"/><stop offset="0.8333" stop-color="#91BFDB"/><stop offset="1.0000" stop-color="#4575B4"/></linearGradient></defs><rect x="1651" y="789.5" width="16.5" height="247.4" fill="url(#cbc)"/>
<g font-family="'Liberation Sans',sans-serif" font-size="20" fill="#000">
<text x="1674.5" y="830.4">4</text>
<text x="1674.5" y="883.1">3</text>
<text x="1674.5" y="935.8">2</text>
<text x="1674.5" y="988.6">1</text>
<text x="1674.5" y="1041.2">0</text>
</g>
<g font-family="'Liberation Sans',sans-serif" font-size="22" fill="#000">
<text x="1705.5" y="821.3">location</text><text x="1705.5" y="878.2">genotype</text><text x="1705.5" y="974.2">group</text>
<rect x="1705.4" y="830.3" width="18.8" height="18" fill="#C1E0B4"/><text x="1728.2" y="847.2">JEJ</text>
<rect x="1705.4" y="891.7" width="18.8" height="18" fill="#4DBB7E"/><text x="1728.2" y="908.7">KO</text>
<rect x="1705.4" y="917.7" width="18.8" height="18" fill="#DC5FA6"/><text x="1728.2" y="934.5">WT</text>
<rect x="1705.4" y="988.1" width="18.8" height="18" fill="#DD87BC"/><text x="1728.2" y="1004.6">KO_CON</text>
<rect x="1705.4" y="1014.1" width="18.8" height="18" fill="#C5D5EE"/><text x="1728.2" y="1030.6">KO_SCR</text>
<rect x="1705.4" y="1039.9" width="18.8" height="18" fill="#E9AD1F"/><text x="1728.2" y="1056.7">WT_CON</text>
<rect x="1705.4" y="1066.1" width="18.8" height="18" fill="#3CBEEF"/><text x="1728.2" y="1082.6">WT_SCR</text>
</g>
<g font-family="'Liberation Sans',sans-serif" font-size="22" fill="#000"><text transform="translate(841.7 1435.6) rotate(90)">KO_02</text><text transform="translate(877.1 1435.6) rotate(90)">KO_02</text><text transform="translate(912.5 1435.6) rotate(90)">WT_04</text><text transform="translate(947.9 1435.6) rotate(90)">WT_04</text><text transform="translate(983.3 1435.6) rotate(90)">KO_05</text><text transform="translate(1018.6 1435.6) rotate(90)">KO_05</text><text transform="translate(1054 1435.6) rotate(90)">WT_01</text><text transform="translate(1089.4 1435.6) rotate(90)">WT_01</text><text transform="translate(1124.8 1435.6) rotate(90)">WT_03</text><text transform="translate(1160.2 1435.6) rotate(90)">WT_03</text><text transform="translate(1195.6 1435.6) rotate(90)">KO_07</text><text transform="translate(1231 1435.6) rotate(90)">KO_04</text><text transform="translate(1266.4 1435.6) rotate(90)">WT_02</text><text transform="translate(1301.8 1435.6) rotate(90)">KO_06</text><text transform="translate(1337.2 1435.6) rotate(90)">KO_07</text><text transform="translate(1372.5 1435.6) rotate(90)">WT_02</text><text transform="translate(1407.9 1435.6) rotate(90)">KO_04</text><text transform="translate(1443.3 1435.6) rotate(90)">KO_03</text><text transform="translate(1478.7 1435.6) rotate(90)">KO_03</text><text transform="translate(1514.1 1435.6) rotate(90)">KO_01</text><text transform="translate(1549.5 1435.6) rotate(90)">KO_01</text><text transform="translate(1584.9 1435.6) rotate(90)">KO_06</text><text transform="translate(1620.3 1435.6) rotate(90)">WT_05</text></g>
<g shape-rendering="crispEdges">
<rect x="862" y="1801.8" width="813.1" height="640.1" fill="#4575B4"/>
<path fill="#5281BA" d="M862 1801.8H896.2V1808.4H862zM862 1814.6H896.2V1830.8H862zM862 1862.6H896.2V1875.6H862zM862 1878.6H896.2V1882H862zM862 1888.2H896.2V1891.6H862zM862 1907.4H896.2V1917.2H862zM862 1923.4H896.2V1930H862zM862 1939.4H896.2V1946H862zM862 1949H896.2V1958.8H862zM862 1965H896.2V1974.8H862zM862 1977.8H896.2V1981.2H862zM862 2000.2H896.2V2003.6H862zM862 2029H896.2V2032.4H862zM862 2035.4H896.2V2045.2H862zM862 2054.6H896.2V2061.2H862zM862 2070.6H896.2V2077.2H862zM862 2099.4H896.2V2102.8H862zM862 2105.8H896.2V2115.6H862zM862 2121.8H896.2V2128.5H862zM862 2131.5H896.2V2144.5H862zM862 2288.3H896.2V2291.7H862zM862 2310.7H896.2V2317.3H862zM862 2326.7H896.2V2330.1H862zM862 2333.1H896.2V2336.5H862zM862 2400.3H896.2V2403.7H862zM862 2409.9H896.2V2416.5H862zM895.9 1808.2H930.1V1811.6H895.9zM895.9 1827.4H930.1V1830.8H895.9zM895.9 1846.6H930.1V1850H895.9zM895.9 1888.2H930.1V1891.6H895.9zM895.9 1901H930.1V1904.4H895.9zM895.9 1933H930.1V1936.4H895.9zM895.9 2013H930.1V2016.4H895.9zM895.9 2019.4H930.1V2022.8H895.9zM895.9 2035.4H930.1V2045.2H895.9zM895.9 2105.8H930.1V2109.2H895.9zM895.9 2121.8H930.1V2125.3H895.9zM895.9 2131.5H930.1V2138.1H895.9zM895.9 2214.7H930.1V2224.5H895.9zM895.9 2278.7H930.1V2282.1H895.9zM895.9 2310.7H930.1V2314.1H895.9zM895.9 2320.3H930.1V2323.7H895.9zM895.9 2352.3H930.1V2355.7H895.9zM895.9 2377.9H930.1V2381.3H895.9zM895.9 2384.3H930.1V2387.7H895.9zM929.8 1805H963.9V1811.6H929.8zM929.8 1821H963.9V1824.4H929.8zM929.8 1929.8H963.9V1933.2H929.8zM929.8 1958.6H963.9V1962H929.8zM929.8 1997H963.9V2003.6H929.8zM929.8 2013H963.9V2016.4H929.8zM929.8 2022.6H963.9V2035.6H929.8zM929.8 2093H963.9V2096.4H929.8zM929.8 2115.4H963.9V2118.8H929.8zM929.8 2131.5H963.9V2138.1H929.8zM929.8 2141.1H963.9V2147.7H929.8zM929.8 2169.9H963.9V2173.3H929.8zM929.8 2198.7H963.9V2202.1H929.8zM929.8 2208.3H963.9V2211.7H929.8zM929.8 2237.1H963.9V2240.5H929.8zM929.8 2281.9H963.9V2285.3H929.8zM929.8 2326.7H963.9V2330.1H929.8zM929.8 2352.3H963.9V2365.3H929.8zM929.8 2377.9H963.9V2384.5H929.8zM929.8 2425.9H963.9V2429.3H929.8zM929.8 2435.5H963.9V2438.9H929.8zM963.6 1805H997.8V1808.4H963.6zM963.6 1830.6H997.8V1834H963.6zM963.6 1853H997.8V1856.4H963.6zM963.6 1862.6H997.8V1872.4H963.6zM963.6 1881.8H997.8V1888.4H963.6zM963.6 1939.4H997.8V1942.8H963.6zM963.6 1955.4H997.8V1958.8H963.6zM963.6 2003.4H997.8V2010H963.6zM963.6 2025.8H997.8V2029.2H963.6zM963.6 2045H997.8V2048.4H963.6zM963.6 2057.8H997.8V2067.6H963.6zM963.6 2073.8H997.8V2077.2H963.6zM963.6 2096.2H997.8V2099.6H963.6zM963.6 2105.8H997.8V2109.2H963.6zM963.6 2112.2H997.8V2128.5H963.6zM963.6 2144.3H997.8V2150.9H963.6zM963.6 2153.9H997.8V2157.3H963.6zM963.6 2269.1H997.8V2275.7H963.6zM963.6 2336.3H997.8V2339.7H963.6zM963.6 2349.1H997.8V2355.7H963.6zM963.6 2403.5H997.8V2410.1H963.6zM963.6 2419.5H997.8V2422.9H963.6zM997.5 1814.6H1031.7V1821.2H997.5zM997.5 1824.2H1031.7V1827.6H997.5zM997.5 1837H1031.7V1840.4H997.5zM997.5 1859.4H1031.7V1862.8H997.5zM997.5 1917H1031.7V1920.4H997.5zM997.5 1923.4H1031.7V1930H997.5zM997.5 2003.4H1031.7V2013.2H997.5zM997.5 2029H1031.7V2038.8H997.5zM997.5 2067.4H1031.7V2070.8H997.5zM997.5 2073.8H1031.7V2077.2H997.5zM997.5 2099.4H1031.7V2102.8H997.5zM997.5 2105.8H1031.7V2109.2H997.5zM997.5 2125.1H1031.7V2131.7H997.5zM997.5 2160.3H1031.7V2170.1H997.5zM997.5 2176.3H1031.7V2179.7H997.5zM997.5 2182.7H1031.7V2186.1H997.5zM997.5 2198.7H1031.7V2202.1H997.5zM997.5 2205.1H1031.7V2208.5H997.5zM997.5 2224.3H1031.7V2227.7H997.5zM997.5 2246.7H1031.7V2256.5H997.5zM997.5 2262.7H1031.7V2266.1H997.5zM997.5 2320.3H1031.7V2323.7H997.5zM997.5 2371.5H1031.7V2374.9H997.5zM997.5 2393.9H1031.7V2397.3H997.5zM997.5 2409.9H1031.7V2413.3H997.5zM997.5 2432.3H1031.7V2438.9H997.5zM1031.4 1830.6H1065.6V1834H1031.4zM1031.4 1881.8H1065.6V1885.2H1031.4zM1031.4 1913.8H1065.6V1917.2H1031.4zM1031.4 1929.8H1065.6V1933.2H1031.4zM1031.4 1942.6H1065.6V1955.6H1031.4zM1031.4 1981H1065.6V1984.4H1031.4zM1031.4 2009.8H1065.6V2013.2H1031.4zM1031.4 2019.4H1065.6V2035.6H1031.4zM1031.4 2061H1065.6V2064.4H1031.4zM1031.4 2070.6H1065.6V2077.2H1031.4zM1031.4 2093H1065.6V2102.8H1031.4zM1031.4 2118.6H1065.6V2122H1031.4zM1031.4 2144.3H1065.6V2154.1H1031.4zM1031.4 2160.3H1065.6V2163.7H1031.4zM1031.4 2179.5H1065.6V2186.1H1031.4zM1031.4 2201.9H1065.6V2205.3H1031.4zM1031.4 2269.1H1065.6V2275.7H1031.4zM1031.4 2297.9H1065.6V2301.3H1031.4zM1031.4 2326.7H1065.6V2330.1H1031.4zM1031.4 2371.5H1065.6V2378.1H1031.4zM1031.4 2387.5H1065.6V2390.9H1031.4zM1031.4 2400.3H1065.6V2406.9H1031.4zM1031.4 2416.3H1065.6V2426.1H1031.4zM1031.4 2429.1H1065.6V2435.7H1031.4zM1065.3 1808.2H1099.5V1811.6H1065.3zM1065.3 1833.8H1099.5V1837.2H1065.3zM1065.3 1904.2H1099.5V1907.6H1065.3zM1065.3 1936.2H1099.5V1939.6H1065.3zM1065.3 1965H1099.5V1968.4H1065.3zM1065.3 1974.6H1099.5V1981.2H1065.3zM1065.3 2003.4H1099.5V2013.2H1065.3zM1065.3 2025.8H1099.5V2029.2H1065.3zM1065.3 2112.2H1099.5V2118.8H1065.3zM1065.3 2121.8H1099.5V2128.5H1065.3zM1065.3 2134.7H1099.5V2141.3H1065.3zM1065.3 2157.1H1099.5V2160.5H1065.3zM1065.3 2195.5H1099.5V2198.9H1065.3zM1065.3 2201.9H1099.5V2205.3H1065.3zM1065.3 2240.3H1099.5V2243.7H1065.3zM1065.3 2249.9H1099.5V2253.3H1065.3zM1065.3 2262.7H1099.5V2275.7H1065.3zM1065.3 2278.7H1099.5V2282.1H1065.3zM1065.3 2329.9H1099.5V2333.3H1065.3zM1065.3 2336.3H1099.5V2342.9H1065.3zM1065.3 2355.5H1099.5V2358.9H1065.3zM1065.3 2365.1H1099.5V2378.1H1065.3zM1065.3 2403.5H1099.5V2406.9H1065.3zM1065.3 2438.7H1099.5V2442.1H1065.3zM1099.2 1805H1133.3V1808.4H1099.2zM1099.2 1833.8H1133.3V1837.2H1099.2zM1099.2 1862.6H1133.3V1866H1099.2zM1099.2 1904.2H1133.3V1910.8H1099.2zM1099.2 1913.8H1133.3V1917.2H1099.2zM1099.2 2000.2H1133.3V2003.6H1099.2zM1099.2 2022.6H1133.3V2032.4H1099.2zM1099.2 2041.8H1133.3V2048.4H1099.2zM1099.2 2102.6H1133.3V2106H1099.2zM1099.2 2109H1133.3V2115.6H1099.2zM1099.2 2137.9H1133.3V2141.3H1099.2zM1099.2 2192.3H1133.3V2195.7H1099.2zM1099.2 2259.5H1133.3V2262.9H1099.2zM1099.2 2345.9H1133.3V2349.3H1099.2zM1099.2 2384.3H1133.3V2390.9H1099.2zM1099.2 2393.9H1133.3V2400.5H1099.2zM1099.2 2413.1H1133.3V2419.7H1099.2zM1099.2 2425.9H1133.3V2429.3H1099.2zM1099.2 2435.5H1133.3V2442.1H1099.2zM1133 1805H1167.2V1808.4H1133zM1133 1885H1167.2V1888.4H1133zM1133 1891.4H1167.2V1894.8H1133zM1133 1917H1167.2V1920.4H1133zM1133 1929.8H1167.2V1933.2H1133zM1133 1952.2H1167.2V1958.8H1133zM1133 1981H1167.2V1984.4H1133zM1133 2003.4H1167.2V2006.8H1133zM1133 2009.8H1167.2V2013.2H1133zM1133 2016.2H1167.2V2019.6H1133zM1133 2029H1167.2V2032.4H1133zM1133 2041.8H1167.2V2045.2H1133zM1133 2067.4H1167.2V2070.8H1133zM1133 2089.8H1167.2V2093.2H1133zM1133 2096.2H1167.2V2099.6H1133zM1133 2109H1167.2V2118.8H1133zM1133 2121.8H1167.2V2134.9H1133zM1133 2323.5H1167.2V2326.9H1133zM1133 2381.1H1167.2V2384.5H1133zM1133 2403.5H1167.2V2406.9H1133zM1133 2413.1H1167.2V2416.5H1133zM1133 2425.9H1167.2V2432.5H1133zM1133 2435.5H1167.2V2442.1H1133zM1166.9 1859.4H1201.1V1862.8H1166.9zM1166.9 1881.8H1201.1V1885.2H1166.9zM1166.9 1965H1201.1V1974.8H1166.9zM1166.9 2000.2H1201.1V2003.6H1166.9zM1166.9 2041.8H1201.1V2045.2H1166.9zM1166.9 2099.4H1201.1V2109.2H1166.9zM1166.9 2118.6H1201.1V2122H1166.9zM1166.9 2125.1H1201.1V2128.5H1166.9zM1166.9 2137.9H1201.1V2144.5H1166.9zM1166.9 2342.7H1201.1V2349.3H1166.9zM1166.9 2371.5H1201.1V2374.9H1166.9zM1166.9 2403.5H1201.1V2406.9H1166.9zM1166.9 2416.3H1201.1V2419.7H1166.9zM1166.9 2435.5H1201.1V2442.1H1166.9zM1200.8 1801.8H1235V1805.2H1200.8zM1200.8 1811.4H1235V1818H1200.8zM1200.8 1846.6H1235V1850H1200.8zM1200.8 1933H1235V1939.6H1200.8zM1200.8 2000.2H1235V2010H1200.8zM1200.8 2016.2H1235V2019.6H1200.8zM1200.8 2025.8H1235V2029.2H1200.8zM1200.8 2041.8H1235V2048.4H1200.8zM1200.8 2057.8H1235V2061.2H1200.8zM1200.8 2080.2H1235V2083.6H1200.8zM1200.8 2096.2H1235V2102.8H1200.8zM1200.8 2131.5H1235V2134.9H1200.8zM1200.8 2147.5H1235V2150.9H1200.8zM1200.8 2163.5H1235V2166.9H1200.8zM1200.8 2208.3H1235V2214.9H1200.8zM1200.8 2275.5H1235V2278.9H1200.8zM1200.8 2310.7H1235V2314.1H1200.8zM1200.8 2326.7H1235V2330.1H1200.8zM1200.8 2355.5H1235V2365.3H1200.8zM1200.8 2381.1H1235V2384.5H1200.8zM1200.8 2406.7H1235V2410.1H1200.8zM1200.8 2416.3H1235V2419.7H1200.8zM1200.8 2422.7H1235V2426.1H1200.8zM1200.8 2438.7H1235V2442.1H1200.8zM1234.7 1801.8H1268.9V1805.2H1234.7zM1234.7 1817.8H1268.9V1821.2H1234.7zM1234.7 1920.2H1268.9V1926.8H1234.7zM1234.7 2016.2H1268.9V2019.6H1234.7zM1234.7 2032.2H1268.9V2038.8H1234.7zM1234.7 2045H1268.9V2048.4H1234.7zM1234.7 2064.2H1268.9V2067.6H1234.7zM1234.7 2077H1268.9V2080.4H1234.7zM1234.7 2102.6H1268.9V2109.2H1234.7zM1234.7 2192.3H1268.9V2202.1H1234.7zM1234.7 2246.7H1268.9V2250.1H1234.7zM1234.7 2288.3H1268.9V2291.7H1234.7zM1234.7 2326.7H1268.9V2330.1H1234.7zM1234.7 2381.1H1268.9V2384.5H1234.7zM1234.7 2390.7H1268.9V2394.1H1234.7zM1268.6 1837H1302.7V1840.4H1268.6zM1268.6 1856.2H1302.7V1866H1268.6zM1268.6 1997H1302.7V2003.6H1268.6zM1268.6 2019.4H1302.7V2026H1268.6zM1268.6 2029H1302.7V2032.4H1268.6zM1268.6 2041.8H1302.7V2051.6H1268.6zM1268.6 2118.6H1302.7V2125.3H1268.6zM1268.6 2131.5H1302.7V2134.9H1268.6zM1268.6 2179.5H1302.7V2189.3H1268.6zM1268.6 2195.5H1302.7V2198.9H1268.6zM1268.6 2205.1H1302.7V2211.7H1268.6zM1268.6 2214.7H1302.7V2221.3H1268.6zM1268.6 2246.7H1302.7V2253.3H1268.6zM1268.6 2259.5H1302.7V2262.9H1268.6zM1268.6 2275.5H1302.7V2278.9H1268.6zM1268.6 2393.9H1302.7V2397.3H1268.6zM1268.6 2400.3H1302.7V2403.7H1268.6zM1268.6 2406.7H1302.7V2413.3H1268.6zM1302.4 1843.4H1336.6V1850H1302.4zM1302.4 1920.2H1336.6V1923.6H1302.4zM1302.4 1974.6H1336.6V1978H1302.4zM1302.4 2013H1336.6V2019.6H1302.4zM1302.4 2054.6H1336.6V2077.2H1302.4zM1302.4 2080.2H1336.6V2086.8H1302.4zM1302.4 2179.5H1336.6V2182.9H1302.4zM1302.4 2185.9H1336.6V2189.3H1302.4zM1302.4 2192.3H1336.6V2195.7H1302.4zM1302.4 2198.7H1336.6V2202.1H1302.4zM1302.4 2205.1H1336.6V2208.5H1302.4zM1302.4 2211.5H1336.6V2221.3H1302.4zM1302.4 2233.9H1336.6V2237.3H1302.4zM1302.4 2249.9H1336.6V2253.3H1302.4zM1302.4 2259.5H1336.6V2262.9H1302.4zM1302.4 2265.9H1336.6V2269.3H1302.4zM1302.4 2272.3H1336.6V2282.1H1302.4zM1302.4 2291.5H1336.6V2294.9H1302.4zM1302.4 2403.5H1336.6V2406.9H1302.4zM1302.4 2409.9H1336.6V2416.5H1302.4zM1336.3 1872.2H1370.5V1875.6H1336.3zM1336.3 1920.2H1370.5V1926.8H1336.3zM1336.3 1990.6H1370.5V2006.8H1336.3zM1336.3 2013H1370.5V2016.4H1336.3zM1336.3 2029H1370.5V2032.4H1336.3zM1336.3 2045H1370.5V2048.4H1336.3zM1336.3 2057.8H1370.5V2061.2H1336.3zM1336.3 2109H1370.5V2115.6H1336.3zM1336.3 2157.1H1370.5V2163.7H1336.3zM1336.3 2173.1H1370.5V2176.5H1336.3zM1336.3 2201.9H1370.5V2205.3H1336.3zM1336.3 2214.7H1370.5V2230.9H1336.3zM1336.3 2237.1H1370.5V2240.5H1336.3zM1336.3 2246.7H1370.5V2250.1H1336.3zM1336.3 2259.5H1370.5V2262.9H1336.3zM1336.3 2265.9H1370.5V2272.5H1336.3zM1336.3 2342.7H1370.5V2349.3H1336.3zM1336.3 2381.1H1370.5V2387.7H1336.3zM1336.3 2390.7H1370.5V2397.3H1336.3zM1336.3 2409.9H1370.5V2413.3H1336.3zM1336.3 2435.5H1370.5V2438.9H1336.3zM1370.2 1824.2H1404.4V1830.8H1370.2zM1370.2 1901H1404.4V1904.4H1370.2zM1370.2 1993.8H1404.4V1997.2H1370.2zM1370.2 2003.4H1404.4V2006.8H1370.2zM1370.2 2013H1404.4V2016.4H1370.2zM1370.2 2035.4H1404.4V2038.8H1370.2zM1370.2 2109H1404.4V2115.6H1370.2zM1370.2 2153.9H1404.4V2157.3H1370.2zM1370.2 2166.7H1404.4V2170.1H1370.2zM1370.2 2179.5H1404.4V2182.9H1370.2zM1370.2 2195.5H1404.4V2198.9H1370.2zM1370.2 2205.1H1404.4V2208.5H1370.2zM1370.2 2214.7H1404.4V2221.3H1370.2zM1370.2 2224.3H1404.4V2227.7H1370.2zM1370.2 2249.9H1404.4V2256.5H1370.2zM1370.2 2262.7H1404.4V2266.1H1370.2zM1370.2 2397.1H1404.4V2400.5H1370.2zM1370.2 2409.9H1404.4V2413.3H1370.2zM1370.2 2422.7H1404.4V2426.1H1370.2zM1370.2 2432.3H1404.4V2435.7H1370.2zM1404.1 1811.4H1438.3V1814.8H1404.1zM1404.1 2000.2H1438.3V2003.6H1404.1zM1404.1 2009.8H1438.3V2013.2H1404.1zM1404.1 2025.8H1438.3V2029.2H1404.1zM1404.1 2032.2H1438.3V2035.6H1404.1zM1404.1 2051.4H1438.3V2064.4H1404.1zM1438 1827.4H1472.1V1834H1438zM1438 1856.2H1472.1V1859.6H1438zM1438 1907.4H1472.1V1910.8H1438zM1438 1965H1472.1V1968.4H1438zM1438 2000.2H1472.1V2010H1438zM1438 2013H1472.1V2022.8H1438zM1438 2057.8H1472.1V2064.4H1438zM1438 2086.6H1472.1V2090H1438zM1438 2128.3H1472.1V2134.9H1438zM1471.8 1824.2H1506V1834H1471.8zM1471.8 1837H1506V1840.4H1471.8zM1471.8 1923.4H1506V1926.8H1471.8zM1471.8 1958.6H1506V1962H1471.8zM1471.8 2025.8H1506V2029.2H1471.8zM1471.8 2045H1506V2048.4H1471.8zM1471.8 2057.8H1506V2067.6H1471.8zM1471.8 2080.2H1506V2083.6H1471.8zM1505.7 1817.8H1539.9V1821.2H1505.7zM1505.7 1872.2H1539.9V1875.6H1505.7zM1505.7 1904.2H1539.9V1907.6H1505.7zM1505.7 1913.8H1539.9V1917.2H1505.7zM1505.7 1923.4H1539.9V1926.8H1505.7zM1505.7 1952.2H1539.9V1955.6H1505.7zM1505.7 1981H1539.9V1984.4H1505.7zM1505.7 2013H1539.9V2019.6H1505.7zM1505.7 2093H1539.9V2102.8H1505.7zM1505.7 2205.1H1539.9V2208.5H1505.7zM1539.6 1824.2H1573.8V1827.6H1539.6zM1539.6 1830.6H1573.8V1834H1539.6zM1539.6 1837H1573.8V1840.4H1539.6zM1539.6 1955.4H1573.8V1958.8H1539.6zM1539.6 1990.6H1573.8V1994H1539.6zM1539.6 2061H1573.8V2064.4H1539.6zM1539.6 2099.4H1573.8V2102.8H1539.6zM1539.6 2105.8H1573.8V2109.2H1539.6zM1539.6 2333.1H1573.8V2336.5H1539.6zM1573.5 1837H1607.7V1840.4H1573.5zM1573.5 1853H1607.7V1859.6H1573.5zM1573.5 1990.6H1607.7V1994H1573.5zM1573.5 2016.2H1607.7V2032.4H1573.5zM1573.5 2067.4H1607.7V2070.8H1573.5zM1573.5 2096.2H1607.7V2099.6H1573.5zM1573.5 2128.3H1607.7V2134.9H1573.5zM1573.5 2432.3H1607.7V2435.7H1573.5zM1607.4 1907.4H1641.5V1910.8H1607.4zM1607.4 1920.2H1641.5V1923.6H1607.4zM1607.4 1990.6H1641.5V1994H1607.4zM1607.4 2000.2H1641.5V2003.6H1607.4zM1607.4 2006.6H1641.5V2016.4H1607.4zM1607.4 2022.6H1641.5V2026H1607.4zM1641.2 1814.6H1675.4V1818H1641.2zM1641.2 2000.2H1675.4V2003.6H1641.2zM1641.2 2013H1675.4V2016.4H1641.2zM1641.2 2022.6H1675.4V2026H1641.2zM1641.2 2105.8H1675.4V2112.4H1641.2zM1641.2 2307.5H1675.4V2310.9H1641.2z"/>
<path fill="#5E8EC1" d="M862 1881.8H896.2V1888.4H862zM862 1929.8H896.2V1933.2H862zM862 1936.2H896.2V1939.6H862zM862 1984.2H896.2V1987.6H862zM862 2051.4H896.2V2054.8H862zM862 2093H896.2V2096.4H862zM895.9 1830.6H930.1V1834H895.9zM895.9 1958.6H930.1V1962H895.9zM895.9 2051.4H930.1V2058H895.9zM929.8 1901H963.9V1907.6H929.8zM929.8 1942.6H963.9V1949.2H929.8zM929.8 1990.6H963.9V1994H929.8zM929.8 2009.8H963.9V2013.2H929.8zM963.6 1801.8H997.8V1805.2H963.6zM963.6 1859.4H997.8V1862.8H963.6zM963.6 1958.6H997.8V1962H963.6zM963.6 2054.6H997.8V2058H963.6zM963.6 2083.4H997.8V2090H963.6zM997.5 2025.8H1031.7V2029.2H997.5zM997.5 2189.1H1031.7V2192.5H997.5zM997.5 2230.7H1031.7V2234.1H997.5zM997.5 2297.9H1031.7V2301.3H997.5zM997.5 2326.7H1031.7V2339.7H997.5zM1031.4 1801.8H1065.6V1805.2H1031.4zM1031.4 1808.2H1065.6V1811.6H1031.4zM1031.4 2041.8H1065.6V2045.2H1031.4zM1031.4 2067.4H1065.6V2070.8H1031.4zM1065.3 1856.2H1099.5V1859.6H1065.3zM1065.3 1875.4H1099.5V1878.8H1065.3zM1065.3 2086.6H1099.5V2090H1065.3zM1065.3 2102.6H1099.5V2106H1065.3zM1099.2 1872.2H1133.3V1878.8H1099.2zM1099.2 1958.6H1133.3V1965.2H1099.2zM1133 1881.8H1167.2V1885.2H1133zM1133 1907.4H1167.2V1910.8H1133zM1133 1965H1167.2V1968.4H1133zM1133 2019.4H1167.2V2026H1133zM1133 2032.2H1167.2V2042H1133zM1133 2118.6H1167.2V2122H1133zM1166.9 1872.2H1201.1V1875.6H1166.9zM1166.9 1933H1201.1V1936.4H1166.9zM1166.9 1955.4H1201.1V1962H1166.9zM1166.9 2006.6H1201.1V2010H1166.9zM1200.8 1805H1235V1808.4H1200.8zM1200.8 1856.2H1235V1859.6H1200.8zM1200.8 1862.6H1235V1866H1200.8zM1200.8 1901H1235V1904.4H1200.8zM1200.8 2038.6H1235V2042H1200.8zM1200.8 2067.4H1235V2070.8H1200.8zM1200.8 2134.7H1235V2138.1H1200.8zM1234.7 1833.8H1268.9V1837.2H1234.7zM1234.7 1958.6H1268.9V1962H1234.7zM1234.7 2025.8H1268.9V2029.2H1234.7zM1234.7 2115.4H1268.9V2122H1234.7zM1268.6 2035.4H1302.7V2038.8H1268.6zM1268.6 2153.9H1302.7V2157.3H1268.6zM1268.6 2230.7H1302.7V2234.1H1268.6zM1268.6 2237.1H1302.7V2240.5H1268.6zM1268.6 2262.7H1302.7V2266.1H1268.6zM1268.6 2387.5H1302.7V2390.9H1268.6zM1302.4 2374.7H1336.6V2378.1H1302.4zM1302.4 2406.7H1336.6V2410.1H1302.4zM1336.3 1910.6H1370.5V1914H1336.3zM1336.3 2230.7H1370.5V2237.3H1336.3zM1370.2 1843.4H1404.4V1846.8H1370.2zM1370.2 2019.4H1404.4V2022.8H1370.2zM1370.2 2025.8H1404.4V2029.2H1370.2zM1370.2 2230.7H1404.4V2234.1H1370.2zM1370.2 2355.5H1404.4V2362.1H1370.2zM1438 1929.8H1472.1V1933.2H1438zM1438 2256.3H1472.1V2259.7H1438zM1505.7 1827.4H1539.9V1830.8H1505.7zM1505.7 2179.5H1539.9V2182.9H1505.7zM1573.5 2006.6H1607.7V2010H1573.5zM1573.5 2035.4H1607.7V2038.8H1573.5zM1573.5 2150.7H1607.7V2157.3H1573.5zM1573.5 2429.1H1607.7V2432.5H1573.5zM1641.2 2035.4H1675.4V2038.8H1641.2z"/>
<path fill="#6B9AC8" d="M862 1830.6H896.2V1834H862zM862 2019.4H896.2V2022.8H862zM862 2045H896.2V2048.4H862zM862 2246.7H896.2V2250.1H862zM862 2307.5H896.2V2310.9H862zM862 2387.5H896.2V2390.9H862zM895.9 1862.6H930.1V1866H895.9zM895.9 1939.4H930.1V1942.8H895.9zM895.9 1968.2H930.1V1978H895.9zM895.9 2032.2H930.1V2035.6H895.9zM895.9 2157.1H930.1V2160.5H895.9zM895.9 2166.7H930.1V2170.1H895.9zM895.9 2179.5H930.1V2182.9H895.9zM895.9 2198.7H930.1V2205.3H895.9zM895.9 2301.1H930.1V2304.5H895.9zM895.9 2313.9H930.1V2317.3H895.9zM895.9 2406.7H930.1V2410.1H895.9zM929.8 1824.2H963.9V1830.8H929.8zM929.8 1865.8H963.9V1869.2H929.8zM929.8 1872.2H963.9V1878.8H929.8zM929.8 1891.4H963.9V1894.8H929.8zM929.8 1897.8H963.9V1901.2H929.8zM929.8 1965H963.9V1971.6H929.8zM929.8 2221.1H963.9V2224.5H929.8zM929.8 2304.3H963.9V2307.7H929.8zM929.8 2310.7H963.9V2314.1H929.8zM929.8 2438.7H963.9V2442.1H929.8zM963.6 1965H997.8V1968.4H963.6zM963.6 2013H997.8V2022.8H963.6zM963.6 2035.4H997.8V2038.8H963.6zM963.6 2198.7H997.8V2202.1H963.6zM963.6 2397.1H997.8V2400.5H963.6zM997.5 1801.8H1031.7V1805.2H997.5zM997.5 1830.6H1031.7V1834H997.5zM997.5 1846.6H1031.7V1850H997.5zM997.5 1875.4H1031.7V1878.8H997.5zM997.5 1894.6H1031.7V1898H997.5zM997.5 1929.8H1031.7V1933.2H997.5zM997.5 1936.2H1031.7V1939.6H997.5zM997.5 2022.6H1031.7V2026H997.5zM997.5 2137.9H1031.7V2141.3H997.5zM997.5 2185.9H1031.7V2189.3H997.5zM997.5 2243.5H1031.7V2246.9H997.5zM997.5 2288.3H1031.7V2291.7H997.5zM997.5 2304.3H1031.7V2310.9H997.5zM997.5 2425.9H1031.7V2429.3H997.5zM1031.4 1814.6H1065.6V1821.2H1031.4zM1031.4 1840.2H1065.6V1843.6H1031.4zM1031.4 1856.2H1065.6V1859.6H1031.4zM1031.4 1862.6H1065.6V1866H1031.4zM1031.4 1885H1065.6V1888.4H1031.4zM1031.4 1897.8H1065.6V1901.2H1031.4zM1031.4 1923.4H1065.6V1926.8H1031.4zM1031.4 2006.6H1065.6V2010H1031.4zM1031.4 2189.1H1065.6V2192.5H1031.4zM1031.4 2288.3H1065.6V2294.9H1031.4zM1031.4 2310.7H1065.6V2314.1H1031.4zM1031.4 2339.5H1065.6V2342.9H1031.4zM1031.4 2349.1H1065.6V2352.5H1031.4zM1031.4 2365.1H1065.6V2371.7H1031.4zM1031.4 2406.7H1065.6V2410.1H1031.4zM1031.4 2438.7H1065.6V2442.1H1031.4zM1065.3 1849.8H1099.5V1856.4H1065.3zM1065.3 1859.4H1099.5V1862.8H1065.3zM1065.3 1881.8H1099.5V1885.2H1065.3zM1065.3 1958.6H1099.5V1962H1065.3zM1065.3 1981H1099.5V1987.6H1065.3zM1065.3 2160.3H1099.5V2166.9H1065.3zM1065.3 2173.1H1099.5V2176.5H1065.3zM1065.3 2256.3H1099.5V2259.7H1065.3zM1065.3 2333.1H1099.5V2336.5H1065.3zM1065.3 2342.7H1099.5V2346.1H1065.3zM1099.2 1811.4H1133.3V1814.8H1099.2zM1099.2 1821H1133.3V1824.4H1099.2zM1099.2 1859.4H1133.3V1862.8H1099.2zM1099.2 2016.2H1133.3V2019.6H1099.2zM1099.2 2073.8H1133.3V2077.2H1099.2zM1099.2 2150.7H1133.3V2154.1H1099.2zM1099.2 2179.5H1133.3V2182.9H1099.2zM1133 1827.4H1167.2V1830.8H1133zM1133 1920.2H1167.2V1923.6H1133zM1133 1936.2H1167.2V1939.6H1133zM1133 1942.6H1167.2V1946H1133zM1133 1961.8H1167.2V1965.2H1133zM1133 1968.2H1167.2V1971.6H1133zM1133 1977.8H1167.2V1981.2H1133zM1133 1987.4H1167.2V1990.8H1133zM1133 2073.8H1167.2V2077.2H1133zM1133 2080.2H1167.2V2083.6H1133zM1133 2099.4H1167.2V2102.8H1133zM1166.9 1894.6H1201.1V1898H1166.9zM1166.9 1920.2H1201.1V1923.6H1166.9zM1166.9 1942.6H1201.1V1955.6H1166.9zM1166.9 1977.8H1201.1V1981.2H1166.9zM1166.9 2038.6H1201.1V2042H1166.9zM1166.9 2048.2H1201.1V2051.6H1166.9zM1166.9 2201.9H1201.1V2205.3H1166.9zM1166.9 2307.5H1201.1V2310.9H1166.9zM1166.9 2377.9H1201.1V2381.3H1166.9zM1166.9 2393.9H1201.1V2397.3H1166.9zM1200.8 1894.6H1235V1898H1200.8zM1200.8 2009.8H1235V2013.2H1200.8zM1200.8 2112.2H1235V2115.6H1200.8zM1200.8 2176.3H1235V2179.7H1200.8zM1200.8 2205.1H1235V2208.5H1200.8zM1200.8 2291.5H1235V2294.9H1200.8zM1200.8 2307.5H1235V2310.9H1200.8zM1234.7 1894.6H1268.9V1901.2H1234.7zM1234.7 1913.8H1268.9V1917.2H1234.7zM1234.7 1961.8H1268.9V1968.4H1234.7zM1234.7 2000.2H1268.9V2003.6H1234.7zM1234.7 2022.6H1268.9V2026H1234.7zM1234.7 2249.9H1268.9V2253.3H1234.7zM1234.7 2297.9H1268.9V2301.3H1234.7zM1268.6 1805H1302.7V1808.4H1268.6zM1268.6 1821H1302.7V1834H1268.6zM1268.6 1913.8H1302.7V1923.6H1268.6zM1268.6 1990.6H1302.7V1997.2H1268.6zM1268.6 2025.8H1302.7V2029.2H1268.6zM1268.6 2067.4H1302.7V2070.8H1268.6zM1268.6 2278.7H1302.7V2282.1H1268.6zM1268.6 2326.7H1302.7V2330.1H1268.6zM1302.4 1926.6H1336.6V1933.2H1302.4zM1302.4 1942.6H1336.6V1949.2H1302.4zM1302.4 2051.4H1336.6V2054.8H1302.4zM1302.4 2125.1H1336.6V2128.5H1302.4zM1302.4 2141.1H1336.6V2144.5H1302.4zM1302.4 2169.9H1336.6V2173.3H1302.4zM1302.4 2243.5H1336.6V2250.1H1302.4zM1302.4 2256.3H1336.6V2259.7H1302.4zM1336.3 1865.8H1370.5V1869.2H1336.3zM1336.3 1907.4H1370.5V1910.8H1336.3zM1336.3 1936.2H1370.5V1939.6H1336.3zM1336.3 1958.6H1370.5V1962H1336.3zM1336.3 1974.6H1370.5V1978H1336.3zM1336.3 2016.2H1370.5V2019.6H1336.3zM1336.3 2064.2H1370.5V2067.6H1336.3zM1336.3 2086.6H1370.5V2090H1336.3zM1336.3 2429.1H1370.5V2435.7H1336.3zM1370.2 1840.2H1404.4V1843.6H1370.2zM1370.2 1853H1404.4V1856.4H1370.2zM1370.2 1875.4H1404.4V1878.8H1370.2zM1370.2 1913.8H1404.4V1917.2H1370.2zM1370.2 1920.2H1404.4V1923.6H1370.2zM1370.2 1929.8H1404.4V1933.2H1370.2zM1370.2 2057.8H1404.4V2061.2H1370.2zM1370.2 2064.2H1404.4V2067.6H1370.2zM1370.2 2070.6H1404.4V2074H1370.2zM1404.1 1827.4H1438.3V1830.8H1404.1zM1404.1 1837H1438.3V1840.4H1404.1zM1404.1 1846.6H1438.3V1850H1404.1zM1404.1 1885H1438.3V1888.4H1404.1zM1404.1 1933H1438.3V1936.4H1404.1zM1404.1 1942.6H1438.3V1946H1404.1zM1404.1 1955.4H1438.3V1962H1404.1zM1404.1 2038.6H1438.3V2042H1404.1zM1404.1 2112.2H1438.3V2115.6H1404.1zM1404.1 2262.7H1438.3V2266.1H1404.1zM1404.1 2425.9H1438.3V2429.3H1404.1zM1438 1885H1472.1V1888.4H1438zM1438 1926.6H1472.1V1930H1438zM1438 2038.6H1472.1V2045.2H1438zM1438 2064.2H1472.1V2067.6H1438zM1438 2269.1H1472.1V2272.5H1438zM1471.8 1840.2H1506V1843.6H1471.8zM1471.8 1885H1506V1888.4H1471.8zM1471.8 1894.6H1506V1898H1471.8zM1471.8 1984.2H1506V1987.6H1471.8zM1471.8 2089.8H1506V2093.2H1471.8zM1471.8 2288.3H1506V2291.7H1471.8zM1471.8 2345.9H1506V2349.3H1471.8zM1505.7 1824.2H1539.9V1827.6H1505.7zM1505.7 1901H1539.9V1904.4H1505.7zM1505.7 1926.6H1539.9V1930H1505.7zM1505.7 2035.4H1539.9V2038.8H1505.7zM1505.7 2051.4H1539.9V2054.8H1505.7zM1505.7 2067.4H1539.9V2070.8H1505.7zM1505.7 2086.6H1539.9V2090H1505.7zM1505.7 2112.2H1539.9V2115.6H1505.7zM1505.7 2128.3H1539.9V2131.7H1505.7zM1505.7 2393.9H1539.9V2400.5H1505.7zM1539.6 1801.8H1573.8V1805.2H1539.6zM1539.6 1821H1573.8V1824.4H1539.6zM1539.6 1875.4H1573.8V1878.8H1539.6zM1539.6 1958.6H1573.8V1962H1539.6zM1539.6 1968.2H1573.8V1971.6H1539.6zM1539.6 1974.6H1573.8V1984.4H1539.6zM1539.6 2038.6H1573.8V2042H1539.6zM1539.6 2134.7H1573.8V2138.1H1539.6zM1539.6 2349.1H1573.8V2352.5H1539.6zM1573.5 1801.8H1607.7V1808.4H1573.5zM1573.5 1821H1607.7V1824.4H1573.5zM1573.5 1827.4H1607.7V1834H1573.5zM1573.5 1859.4H1607.7V1866H1573.5zM1573.5 1875.4H1607.7V1878.8H1573.5zM1573.5 1952.2H1607.7V1955.6H1573.5zM1573.5 1977.8H1607.7V1981.2H1573.5zM1573.5 2051.4H1607.7V2054.8H1573.5zM1573.5 2073.8H1607.7V2077.2H1573.5zM1573.5 2157.1H1607.7V2160.5H1573.5zM1607.4 1808.2H1641.5V1811.6H1607.4zM1607.4 1817.8H1641.5V1821.2H1607.4zM1607.4 1885H1641.5V1888.4H1607.4zM1607.4 1891.4H1641.5V1894.8H1607.4zM1607.4 1981H1641.5V1984.4H1607.4zM1607.4 2125.1H1641.5V2128.5H1607.4zM1607.4 2371.5H1641.5V2374.9H1607.4zM1641.2 1891.4H1675.4V1894.8H1641.2zM1641.2 1901H1675.4V1904.4H1641.2zM1641.2 1945.8H1675.4V1952.4H1641.2zM1641.2 2064.2H1675.4V2067.6H1641.2zM1641.2 2073.8H1675.4V2077.2H1641.2zM1641.2 2221.1H1675.4V2224.5H1641.2zM1641.2 2377.9H1675.4V2381.3H1641.2z"/>
<path fill="#78A6CE" d="M862 1840.2H896.2V1846.8H862zM862 1894.6H896.2V1898H862zM862 1987.4H896.2V1990.8H862zM862 2278.7H896.2V2282.1H862zM895.9 1843.4H930.1V1846.8H895.9zM895.9 2025.8H930.1V2029.2H895.9zM895.9 2083.4H930.1V2086.8H895.9zM895.9 2160.3H930.1V2166.9H895.9zM895.9 2173.1H930.1V2179.7H895.9zM895.9 2307.5H930.1V2310.9H895.9zM895.9 2416.3H930.1V2419.7H895.9zM895.9 2429.1H930.1V2432.5H895.9zM929.8 1936.2H963.9V1939.6H929.8zM929.8 1993.8H963.9V1997.2H929.8zM929.8 2089.8H963.9V2093.2H929.8zM929.8 2118.6H963.9V2122H929.8zM929.8 2214.7H963.9V2218.1H929.8zM929.8 2256.3H963.9V2259.7H929.8zM929.8 2275.5H963.9V2278.9H929.8zM963.6 1977.8H997.8V1981.2H963.6zM963.6 1984.2H997.8V1990.8H963.6zM963.6 2022.6H997.8V2026H963.6zM963.6 2048.2H997.8V2051.6H963.6zM963.6 2131.5H997.8V2134.9H963.6zM963.6 2166.7H997.8V2170.1H963.6zM963.6 2173.1H997.8V2176.5H963.6zM963.6 2374.7H997.8V2378.1H963.6zM997.5 1933H1031.7V1936.4H997.5zM997.5 1961.8H1031.7V1965.2H997.5zM997.5 1977.8H1031.7V1981.2H997.5zM997.5 2038.6H1031.7V2042H997.5zM997.5 2291.5H1031.7V2294.9H997.5zM1031.4 1821H1065.6V1824.4H1031.4zM1031.4 1891.4H1065.6V1898H1031.4zM1031.4 1907.4H1065.6V1910.8H1031.4zM1031.4 1971.4H1065.6V1978H1031.4zM1031.4 1993.8H1065.6V1997.2H1031.4zM1031.4 2051.4H1065.6V2054.8H1031.4zM1031.4 2112.2H1065.6V2115.6H1031.4zM1031.4 2249.9H1065.6V2256.5H1031.4zM1031.4 2281.9H1065.6V2285.3H1031.4zM1031.4 2333.1H1065.6V2336.5H1031.4zM1031.4 2361.9H1065.6V2365.3H1031.4zM1065.3 1894.6H1099.5V1901.2H1065.3zM1065.3 1929.8H1099.5V1933.2H1065.3zM1065.3 1993.8H1099.5V1997.2H1065.3zM1065.3 2000.2H1099.5V2003.6H1065.3zM1065.3 2019.4H1099.5V2022.8H1065.3zM1065.3 2077H1099.5V2086.8H1065.3zM1065.3 2141.1H1099.5V2144.5H1065.3zM1065.3 2169.9H1099.5V2173.3H1065.3zM1065.3 2253.1H1099.5V2256.5H1065.3zM1065.3 2345.9H1099.5V2349.3H1065.3zM1065.3 2352.3H1099.5V2355.7H1065.3zM1065.3 2361.9H1099.5V2365.3H1065.3zM1099.2 1827.4H1133.3V1830.8H1099.2zM1099.2 1837H1133.3V1840.4H1099.2zM1099.2 1865.8H1133.3V1869.2H1099.2zM1099.2 1917H1133.3V1920.4H1099.2zM1099.2 1945.8H1133.3V1952.4H1099.2zM1099.2 2064.2H1133.3V2067.6H1099.2zM1099.2 2166.7H1133.3V2170.1H1099.2zM1099.2 2208.3H1133.3V2211.7H1099.2zM1099.2 2256.3H1133.3V2259.7H1099.2zM1099.2 2368.3H1133.3V2371.7H1099.2zM1099.2 2374.7H1133.3V2378.1H1099.2zM1099.2 2409.9H1133.3V2413.3H1099.2zM1133 1984.2H1167.2V1987.6H1133zM1133 2134.7H1167.2V2141.3H1133zM1133 2240.3H1167.2V2243.7H1133zM1133 2262.7H1167.2V2266.1H1133zM1133 2269.1H1167.2V2272.5H1133zM1133 2275.5H1167.2V2278.9H1133zM1166.9 1862.6H1201.1V1866H1166.9zM1166.9 1904.2H1201.1V1910.8H1166.9zM1166.9 1936.2H1201.1V1942.8H1166.9zM1166.9 2045H1201.1V2048.4H1166.9zM1166.9 2131.5H1201.1V2134.9H1166.9zM1166.9 2198.7H1201.1V2202.1H1166.9zM1166.9 2217.9H1201.1V2221.3H1166.9zM1166.9 2272.3H1201.1V2275.7H1166.9zM1166.9 2297.9H1201.1V2301.3H1166.9zM1200.8 1817.8H1235V1821.2H1200.8zM1200.8 1869H1235V1872.4H1200.8zM1200.8 1875.4H1235V1882H1200.8zM1200.8 1885H1235V1894.8H1200.8zM1200.8 1910.6H1235V1917.2H1200.8zM1200.8 1971.4H1235V1974.8H1200.8zM1200.8 1977.8H1235V1981.2H1200.8zM1200.8 2093H1235V2096.4H1200.8zM1200.8 2153.9H1235V2157.3H1200.8zM1200.8 2217.9H1235V2221.3H1200.8zM1200.8 2323.5H1235V2326.9H1200.8zM1234.7 1808.2H1268.9V1811.6H1234.7zM1234.7 1849.8H1268.9V1856.4H1234.7zM1234.7 1910.6H1268.9V1914H1234.7zM1234.7 1952.2H1268.9V1958.8H1234.7zM1234.7 2041.8H1268.9V2045.2H1234.7zM1234.7 2048.2H1268.9V2051.6H1234.7zM1234.7 2128.3H1268.9V2131.7H1234.7zM1234.7 2150.7H1268.9V2154.1H1234.7zM1234.7 2182.7H1268.9V2186.1H1234.7zM1234.7 2230.7H1268.9V2234.1H1234.7zM1234.7 2253.1H1268.9V2256.5H1234.7zM1234.7 2304.3H1268.9V2314.1H1234.7zM1268.6 1849.8H1302.7V1853.2H1268.6zM1268.6 1865.8H1302.7V1869.2H1268.6zM1268.6 1974.6H1302.7V1978H1268.6zM1268.6 1984.2H1302.7V1987.6H1268.6zM1268.6 2163.5H1302.7V2166.9H1268.6zM1268.6 2281.9H1302.7V2285.3H1268.6zM1302.4 1833.8H1336.6V1837.2H1302.4zM1302.4 1849.8H1336.6V1856.4H1302.4zM1302.4 1888.2H1336.6V1891.6H1302.4zM1302.4 1993.8H1336.6V1997.2H1302.4zM1302.4 2096.2H1336.6V2099.6H1302.4zM1302.4 2425.9H1336.6V2432.5H1302.4zM1336.3 1808.2H1370.5V1814.8H1336.3zM1336.3 1853H1370.5V1856.4H1336.3zM1336.3 1901H1370.5V1907.6H1336.3zM1336.3 1926.6H1370.5V1930H1336.3zM1336.3 1971.4H1370.5V1974.8H1336.3zM1336.3 2035.4H1370.5V2038.8H1336.3zM1336.3 2099.4H1370.5V2102.8H1336.3zM1336.3 2198.7H1370.5V2202.1H1336.3zM1336.3 2243.5H1370.5V2246.9H1336.3zM1370.2 1808.2H1404.4V1811.6H1370.2zM1370.2 1936.2H1404.4V1939.6H1370.2zM1370.2 1965H1404.4V1968.4H1370.2zM1370.2 1977.8H1404.4V1981.2H1370.2zM1370.2 1987.4H1404.4V1990.8H1370.2zM1370.2 2022.6H1404.4V2026H1370.2zM1370.2 2051.4H1404.4V2058H1370.2zM1370.2 2137.9H1404.4V2144.5H1370.2zM1404.1 1968.2H1438.3V1971.6H1404.1zM1404.1 2070.6H1438.3V2074H1404.1zM1404.1 2371.5H1438.3V2374.9H1404.1zM1438 1875.4H1472.1V1878.8H1438zM1438 1974.6H1472.1V1978H1438zM1438 2032.2H1472.1V2038.8H1438zM1471.8 1862.6H1506V1866H1471.8zM1471.8 1872.2H1506V1875.6H1471.8zM1471.8 1878.6H1506V1885.2H1471.8zM1471.8 1990.6H1506V1994H1471.8zM1471.8 2115.4H1506V2122H1471.8zM1505.7 1830.6H1539.9V1834H1505.7zM1505.7 1843.4H1539.9V1846.8H1505.7zM1505.7 1849.8H1539.9V1853.2H1505.7zM1505.7 1869H1539.9V1872.4H1505.7zM1505.7 1875.4H1539.9V1878.8H1505.7zM1505.7 1936.2H1539.9V1939.6H1505.7zM1505.7 1961.8H1539.9V1971.6H1505.7zM1505.7 2147.5H1539.9V2150.9H1505.7zM1539.6 1814.6H1573.8V1821.2H1539.6zM1539.6 1846.6H1573.8V1850H1539.6zM1539.6 1872.2H1573.8V1875.6H1539.6zM1539.6 1881.8H1573.8V1888.4H1539.6zM1539.6 1907.4H1573.8V1914H1539.6zM1539.6 1949H1573.8V1955.6H1539.6zM1539.6 2048.2H1573.8V2051.6H1539.6zM1539.6 2089.8H1573.8V2093.2H1539.6zM1573.5 1811.4H1607.7V1814.8H1573.5zM1573.5 1824.2H1607.7V1827.6H1573.5zM1573.5 1971.4H1607.7V1978H1573.5zM1573.5 1993.8H1607.7V1997.2H1573.5zM1573.5 2083.4H1607.7V2086.8H1573.5zM1573.5 2099.4H1607.7V2106H1573.5zM1607.4 1824.2H1641.5V1827.6H1607.4zM1607.4 1840.2H1641.5V1843.6H1607.4zM1607.4 1849.8H1641.5V1853.2H1607.4zM1607.4 1872.2H1641.5V1875.6H1607.4zM1607.4 1894.6H1641.5V1898H1607.4zM1607.4 1949H1641.5V1952.4H1607.4zM1607.4 1984.2H1641.5V1987.6H1607.4zM1607.4 2054.6H1641.5V2058H1607.4zM1607.4 2083.4H1641.5V2086.8H1607.4zM1641.2 1856.2H1675.4V1859.6H1641.2zM1641.2 1907.4H1675.4V1910.8H1641.2zM1641.2 1913.8H1675.4V1917.2H1641.2zM1641.2 1926.6H1675.4V1930H1641.2zM1641.2 1968.2H1675.4V1974.8H1641.2zM1641.2 1984.2H1675.4V1987.6H1641.2zM1641.2 2054.6H1675.4V2058H1641.2zM1641.2 2070.6H1675.4V2074H1641.2zM1641.2 2086.6H1675.4V2093.2H1641.2z"/>
<path fill="#84B3D4" d="M862 1837H896.2V1840.4H862zM862 1875.4H896.2V1878.8H862zM862 2083.4H896.2V2086.8H862zM862 2214.7H896.2V2218.1H862zM862 2281.9H896.2V2285.3H862zM862 2297.9H896.2V2301.3H862zM862 2336.3H896.2V2342.9H862zM862 2352.3H896.2V2355.7H862zM862 2429.1H896.2V2435.7H862zM862 2438.7H896.2V2442.1H862zM895.9 1801.8H930.1V1805.2H895.9zM895.9 1837H930.1V1843.6H895.9zM895.9 1920.2H930.1V1923.6H895.9zM895.9 1977.8H930.1V1981.2H895.9zM895.9 2115.4H930.1V2118.8H895.9zM895.9 2211.5H930.1V2214.9H895.9zM895.9 2349.1H930.1V2352.5H895.9zM929.8 1853H963.9V1856.4H929.8zM929.8 1859.4H963.9V1866H929.8zM929.8 1881.8H963.9V1888.4H929.8zM929.8 2003.4H963.9V2006.8H929.8zM929.8 2278.7H963.9V2282.1H929.8zM929.8 2288.3H963.9V2291.7H929.8zM929.8 2307.5H963.9V2310.9H929.8zM929.8 2387.5H963.9V2390.9H929.8zM929.8 2429.1H963.9V2432.5H929.8zM963.6 1808.2H997.8V1824.4H963.6zM963.6 1840.2H997.8V1846.8H963.6zM963.6 1856.2H997.8V1859.6H963.6zM963.6 1872.2H997.8V1875.6H963.6zM963.6 2128.3H997.8V2131.7H963.6zM963.6 2192.3H997.8V2195.7H963.6zM963.6 2214.7H997.8V2218.1H963.6zM963.6 2259.5H997.8V2262.9H963.6zM963.6 2275.5H997.8V2285.3H963.6zM963.6 2307.5H997.8V2310.9H963.6zM997.5 1862.6H1031.7V1869.2H997.5zM997.5 1945.8H1031.7V1949.2H997.5zM997.5 1984.2H1031.7V1987.6H997.5zM997.5 1993.8H1031.7V1997.2H997.5zM997.5 2048.2H1031.7V2054.8H997.5zM997.5 2061H1031.7V2064.4H997.5zM997.5 2109H1031.7V2112.4H997.5zM997.5 2265.9H1031.7V2275.7H997.5zM1031.4 1805H1065.6V1808.4H1031.4zM1031.4 1827.4H1065.6V1830.8H1031.4zM1031.4 1955.4H1065.6V1958.8H1031.4zM1031.4 1984.2H1065.6V1987.6H1031.4zM1031.4 1990.6H1065.6V1994H1031.4zM1031.4 2115.4H1065.6V2118.8H1031.4zM1065.3 1862.6H1099.5V1866H1065.3zM1065.3 1942.6H1099.5V1946H1065.3zM1065.3 2035.4H1099.5V2038.8H1065.3zM1065.3 2096.2H1099.5V2099.6H1065.3zM1065.3 2176.3H1099.5V2179.7H1065.3zM1065.3 2230.7H1099.5V2234.1H1065.3zM1065.3 2243.5H1099.5V2246.9H1065.3zM1065.3 2425.9H1099.5V2429.3H1065.3zM1099.2 2077H1133.3V2080.4H1099.2zM1099.2 2118.6H1133.3V2122H1099.2zM1099.2 2195.5H1133.3V2202.1H1099.2zM1099.2 2233.9H1133.3V2237.3H1099.2zM1099.2 2243.5H1133.3V2250.1H1099.2zM1099.2 2342.7H1133.3V2346.1H1099.2zM1099.2 2361.9H1133.3V2365.3H1099.2zM1133 1824.2H1167.2V1827.6H1133zM1133 1840.2H1167.2V1846.8H1133zM1133 1862.6H1167.2V1866H1133zM1133 1872.2H1167.2V1875.6H1133zM1133 2064.2H1167.2V2067.6H1133zM1133 2070.6H1167.2V2074H1133zM1133 2093H1167.2V2096.4H1133zM1133 2265.9H1167.2V2269.3H1133zM1133 2278.7H1167.2V2282.1H1133zM1133 2320.3H1167.2V2323.7H1133zM1166.9 1821H1201.1V1824.4H1166.9zM1166.9 1849.8H1201.1V1853.2H1166.9zM1166.9 1888.2H1201.1V1894.8H1166.9zM1166.9 1974.6H1201.1V1978H1166.9zM1166.9 1993.8H1201.1V1997.2H1166.9zM1166.9 2029H1201.1V2035.6H1166.9zM1166.9 2070.6H1201.1V2074H1166.9zM1166.9 2195.5H1201.1V2198.9H1166.9zM1166.9 2259.5H1201.1V2262.9H1166.9zM1166.9 2269.1H1201.1V2272.5H1166.9zM1200.8 1865.8H1235V1869.2H1200.8zM1200.8 1907.4H1235V1910.8H1200.8zM1200.8 1981H1235V1984.4H1200.8zM1200.8 2115.4H1235V2122H1200.8zM1200.8 2179.5H1235V2182.9H1200.8zM1200.8 2201.9H1235V2205.3H1200.8zM1200.8 2237.1H1235V2240.5H1200.8zM1200.8 2365.1H1235V2371.7H1200.8zM1200.8 2429.1H1235V2432.5H1200.8zM1234.7 1933H1268.9V1942.8H1234.7zM1234.7 1977.8H1268.9V1981.2H1234.7zM1234.7 2038.6H1268.9V2042H1234.7zM1234.7 2083.4H1268.9V2086.8H1234.7zM1234.7 2233.9H1268.9V2237.3H1234.7zM1234.7 2256.3H1268.9V2259.7H1234.7zM1234.7 2301.1H1268.9V2304.5H1234.7zM1234.7 2313.9H1268.9V2317.3H1234.7zM1268.6 1846.6H1302.7V1850H1268.6zM1268.6 1869H1302.7V1872.4H1268.6zM1268.6 1939.4H1302.7V1942.8H1268.6zM1268.6 1965H1302.7V1968.4H1268.6zM1268.6 2157.1H1302.7V2160.5H1268.6zM1268.6 2211.5H1302.7V2214.9H1268.6zM1268.6 2429.1H1302.7V2435.7H1268.6zM1302.4 1837H1336.6V1840.4H1302.4zM1302.4 1865.8H1336.6V1869.2H1302.4zM1302.4 1885H1336.6V1888.4H1302.4zM1302.4 1897.8H1336.6V1904.4H1302.4zM1302.4 1913.8H1336.6V1917.2H1302.4zM1302.4 2121.8H1336.6V2125.3H1302.4zM1302.4 2208.3H1336.6V2211.7H1302.4zM1302.4 2381.1H1336.6V2384.5H1302.4zM1302.4 2416.3H1336.6V2422.9H1302.4zM1336.3 1801.8H1370.5V1805.2H1336.3zM1336.3 1833.8H1370.5V1837.2H1336.3zM1336.3 1849.8H1370.5V1853.2H1336.3zM1336.3 1878.6H1370.5V1885.2H1336.3zM1336.3 1952.2H1370.5V1955.6H1336.3zM1336.3 1987.4H1370.5V1990.8H1336.3zM1336.3 2070.6H1370.5V2074H1336.3zM1336.3 2096.2H1370.5V2099.6H1336.3zM1336.3 2281.9H1370.5V2285.3H1336.3zM1370.2 1805H1404.4V1808.4H1370.2zM1370.2 1821H1404.4V1824.4H1370.2zM1370.2 1833.8H1404.4V1837.2H1370.2zM1370.2 1865.8H1404.4V1875.6H1370.2zM1370.2 1955.4H1404.4V1958.8H1370.2zM1370.2 1981H1404.4V1984.4H1370.2zM1370.2 2000.2H1404.4V2003.6H1370.2zM1370.2 2041.8H1404.4V2045.2H1370.2zM1370.2 2150.7H1404.4V2154.1H1370.2zM1370.2 2243.5H1404.4V2246.9H1370.2zM1370.2 2272.3H1404.4V2278.9H1370.2zM1370.2 2326.7H1404.4V2330.1H1370.2zM1404.1 1891.4H1438.3V1894.8H1404.1zM1404.1 1939.4H1438.3V1942.8H1404.1zM1404.1 1971.4H1438.3V1974.8H1404.1zM1404.1 1987.4H1438.3V1990.8H1404.1zM1404.1 2019.4H1438.3V2022.8H1404.1zM1404.1 2064.2H1438.3V2067.6H1404.1zM1404.1 2105.8H1438.3V2109.2H1404.1zM1404.1 2115.4H1438.3V2118.8H1404.1zM1438 1833.8H1472.1V1837.2H1438zM1438 1846.6H1472.1V1850H1438zM1438 1888.2H1472.1V1891.6H1438zM1438 1933H1472.1V1936.4H1438zM1438 1984.2H1472.1V1987.6H1438zM1438 1990.6H1472.1V1997.2H1438zM1438 2045H1472.1V2048.4H1438zM1438 2070.6H1472.1V2077.2H1438zM1471.8 1849.8H1506V1853.2H1471.8zM1471.8 1961.8H1506V1965.2H1471.8zM1471.8 1987.4H1506V1990.8H1471.8zM1471.8 2041.8H1506V2045.2H1471.8zM1471.8 2125.1H1506V2128.5H1471.8zM1505.7 1888.2H1539.9V1894.8H1505.7zM1505.7 2003.4H1539.9V2006.8H1505.7zM1505.7 2131.5H1539.9V2134.9H1505.7zM1505.7 2144.3H1539.9V2147.7H1505.7zM1539.6 1811.4H1573.8V1814.8H1539.6zM1539.6 1878.6H1573.8V1882H1539.6zM1539.6 1936.2H1573.8V1939.6H1539.6zM1539.6 2083.4H1573.8V2086.8H1539.6zM1539.6 2109H1573.8V2112.4H1539.6zM1539.6 2115.4H1573.8V2118.8H1539.6zM1573.5 1958.6H1607.7V1965.2H1573.5zM1573.5 1968.2H1607.7V1971.6H1573.5zM1573.5 2086.6H1607.7V2090H1573.5zM1607.4 1814.6H1641.5V1818H1607.4zM1607.4 1926.6H1641.5V1930H1607.4zM1607.4 2057.8H1641.5V2067.6H1607.4zM1607.4 2073.8H1641.5V2077.2H1607.4zM1607.4 2086.6H1641.5V2090H1607.4zM1607.4 2147.5H1641.5V2150.9H1607.4zM1641.2 1801.8H1675.4V1805.2H1641.2zM1641.2 1840.2H1675.4V1843.6H1641.2zM1641.2 1933H1675.4V1939.6H1641.2zM1641.2 1955.4H1675.4V1958.8H1641.2zM1641.2 1961.8H1675.4V1968.4H1641.2zM1641.2 1987.4H1675.4V1990.8H1641.2zM1641.2 2061H1675.4V2064.4H1641.2zM1641.2 2067.4H1675.4V2070.8H1641.2zM1641.2 2093H1675.4V2096.4H1641.2z"/>
<path fill="#91BFDB" d="M862 1846.6H896.2V1850H862zM862 2153.9H896.2V2157.3H862zM862 2301.1H896.2V2304.5H862zM862 2317.1H896.2V2320.5H862zM895.9 1833.8H930.1V1837.2H895.9zM895.9 1923.4H930.1V1926.8H895.9zM895.9 2243.5H930.1V2250.1H895.9zM895.9 2259.5H930.1V2266.1H895.9zM895.9 2365.1H930.1V2368.5H895.9zM895.9 2381.1H930.1V2384.5H895.9zM895.9 2387.5H930.1V2390.9H895.9zM895.9 2403.5H930.1V2406.9H895.9zM895.9 2438.7H930.1V2442.1H895.9zM929.8 1837H963.9V1840.4H929.8zM929.8 1843.4H963.9V1846.8H929.8zM929.8 1856.2H963.9V1859.6H929.8zM929.8 1894.6H963.9V1898H929.8zM929.8 1961.8H963.9V1965.2H929.8zM929.8 1981H963.9V1984.4H929.8zM929.8 2243.5H963.9V2250.1H929.8zM929.8 2371.5H963.9V2374.9H929.8zM929.8 2432.3H963.9V2435.7H929.8zM963.6 1827.4H997.8V1830.8H963.6zM963.6 1891.4H997.8V1894.8H963.6zM963.6 2163.5H997.8V2166.9H963.6zM963.6 2185.9H997.8V2189.3H963.6zM963.6 2211.5H997.8V2214.9H963.6zM997.5 1840.2H1031.7V1843.6H997.5zM997.5 1878.6H1031.7V1885.2H997.5zM997.5 2064.2H1031.7V2067.6H997.5zM997.5 2077H1031.7V2086.8H997.5zM997.5 2141.1H1031.7V2144.5H997.5zM997.5 2195.5H1031.7V2198.9H997.5zM997.5 2281.9H1031.7V2285.3H997.5zM1031.4 1833.8H1065.6V1837.2H1031.4zM1031.4 1872.2H1065.6V1875.6H1031.4zM1031.4 2230.7H1065.6V2234.1H1031.4zM1031.4 2265.9H1065.6V2269.3H1031.4zM1065.3 1840.2H1099.5V1843.6H1065.3zM1065.3 1888.2H1099.5V1891.6H1065.3zM1065.3 1939.4H1099.5V1942.8H1065.3zM1065.3 1987.4H1099.5V1990.8H1065.3zM1065.3 2054.6H1099.5V2058H1065.3zM1065.3 2109H1099.5V2112.4H1065.3zM1065.3 2166.7H1099.5V2170.1H1065.3zM1065.3 2233.9H1099.5V2237.3H1065.3zM1065.3 2275.5H1099.5V2278.9H1065.3zM1065.3 2285.1H1099.5V2288.5H1065.3zM1099.2 1801.8H1133.3V1805.2H1099.2zM1099.2 1843.4H1133.3V1846.8H1099.2zM1099.2 1901H1133.3V1904.4H1099.2zM1099.2 1933H1133.3V1936.4H1099.2zM1099.2 1955.4H1133.3V1958.8H1099.2zM1099.2 1971.4H1133.3V1974.8H1099.2zM1099.2 2051.4H1133.3V2054.8H1099.2zM1099.2 2070.6H1133.3V2074H1099.2zM1099.2 2121.8H1133.3V2125.3H1099.2zM1099.2 2153.9H1133.3V2163.7H1099.2zM1099.2 2240.3H1133.3V2243.7H1099.2zM1133 1910.6H1167.2V1914H1133zM1133 2054.6H1167.2V2058H1133zM1133 2205.1H1167.2V2208.5H1133zM1133 2243.5H1167.2V2246.9H1133zM1166.9 1837H1201.1V1843.6H1166.9zM1166.9 1856.2H1201.1V1859.6H1166.9zM1166.9 1869H1201.1V1872.4H1166.9zM1166.9 2064.2H1201.1V2067.6H1166.9zM1166.9 2185.9H1201.1V2189.3H1166.9zM1166.9 2240.3H1201.1V2246.9H1166.9zM1166.9 2256.3H1201.1V2259.7H1166.9zM1166.9 2361.9H1201.1V2365.3H1166.9zM1200.8 1939.4H1235V1942.8H1200.8zM1200.8 1949H1235V1952.4H1200.8zM1200.8 1993.8H1235V1997.2H1200.8zM1200.8 2227.5H1235V2230.9H1200.8zM1200.8 2233.9H1235V2237.3H1200.8zM1200.8 2243.5H1235V2246.9H1200.8zM1200.8 2297.9H1235V2304.5H1200.8zM1200.8 2397.1H1235V2400.5H1200.8zM1234.7 1875.4H1268.9V1878.8H1234.7zM1234.7 1888.2H1268.9V1891.6H1234.7zM1234.7 1901H1268.9V1904.4H1234.7zM1234.7 2093H1268.9V2096.4H1234.7zM1234.7 2131.5H1268.9V2134.9H1234.7zM1234.7 2291.5H1268.9V2294.9H1234.7zM1234.7 2349.1H1268.9V2355.7H1234.7zM1268.6 1843.4H1302.7V1846.8H1268.6zM1268.6 1875.4H1302.7V1878.8H1268.6zM1268.6 1936.2H1302.7V1939.6H1268.6zM1268.6 1949H1302.7V1952.4H1268.6zM1268.6 1977.8H1302.7V1981.2H1268.6zM1268.6 2265.9H1302.7V2275.7H1268.6zM1268.6 2285.1H1302.7V2291.7H1268.6zM1268.6 2435.5H1302.7V2438.9H1268.6zM1302.4 1827.4H1336.6V1834H1302.4zM1302.4 1881.8H1336.6V1885.2H1302.4zM1302.4 1952.2H1336.6V1955.6H1302.4zM1302.4 1961.8H1336.6V1965.2H1302.4zM1302.4 2099.4H1336.6V2102.8H1302.4zM1302.4 2109H1336.6V2112.4H1302.4zM1302.4 2144.3H1336.6V2147.7H1302.4zM1302.4 2163.5H1336.6V2166.9H1302.4zM1302.4 2173.1H1336.6V2176.5H1302.4zM1302.4 2432.3H1336.6V2435.7H1302.4zM1336.3 1805H1370.5V1808.4H1336.3zM1336.3 1846.6H1370.5V1850H1336.3zM1336.3 1869H1370.5V1872.4H1336.3zM1336.3 1875.4H1370.5V1878.8H1336.3zM1336.3 1891.4H1370.5V1898H1336.3zM1336.3 1955.4H1370.5V1958.8H1336.3zM1336.3 1981H1370.5V1987.6H1336.3zM1336.3 2195.5H1370.5V2198.9H1336.3zM1336.3 2205.1H1370.5V2208.5H1336.3zM1370.2 1846.6H1404.4V1850H1370.2zM1370.2 1859.4H1404.4V1862.8H1370.2zM1370.2 1971.4H1404.4V1978H1370.2zM1370.2 2073.8H1404.4V2077.2H1370.2zM1370.2 2086.6H1404.4V2090H1370.2zM1370.2 2115.4H1404.4V2118.8H1370.2zM1370.2 2121.8H1404.4V2125.3H1370.2zM1370.2 2169.9H1404.4V2173.3H1370.2zM1370.2 2269.1H1404.4V2272.5H1370.2zM1370.2 2374.7H1404.4V2378.1H1370.2zM1404.1 1872.2H1438.3V1875.6H1404.1zM1404.1 1917H1438.3V1926.8H1404.1zM1404.1 1936.2H1438.3V1939.6H1404.1zM1404.1 1952.2H1438.3V1955.6H1404.1zM1404.1 1977.8H1438.3V1981.2H1404.1zM1404.1 2016.2H1438.3V2019.6H1404.1zM1404.1 2118.6H1438.3V2122H1404.1zM1438 1811.4H1472.1V1814.8H1438zM1438 1987.4H1472.1V1990.8H1438zM1471.8 1853H1506V1856.4H1471.8zM1471.8 1907.4H1506V1920.4H1471.8zM1471.8 1955.4H1506V1958.8H1471.8zM1471.8 2070.6H1506V2074H1471.8zM1505.7 1821H1539.9V1824.4H1505.7zM1505.7 1840.2H1539.9V1843.6H1505.7zM1505.7 1859.4H1539.9V1862.8H1505.7zM1505.7 1949H1539.9V1952.4H1505.7zM1505.7 1958.6H1539.9V1962H1505.7zM1505.7 1971.4H1539.9V1974.8H1505.7zM1505.7 1984.2H1539.9V1987.6H1505.7zM1505.7 1997H1539.9V2003.6H1505.7zM1505.7 2105.8H1539.9V2109.2H1505.7zM1539.6 1859.4H1573.8V1862.8H1539.6zM1539.6 1917H1573.8V1920.4H1539.6zM1539.6 1933H1573.8V1936.4H1539.6zM1539.6 1971.4H1573.8V1974.8H1539.6zM1539.6 2077H1573.8V2080.4H1539.6zM1539.6 2102.6H1573.8V2106H1539.6zM1539.6 2121.8H1573.8V2125.3H1539.6zM1539.6 2137.9H1573.8V2141.3H1539.6zM1573.5 1849.8H1607.7V1853.2H1573.5zM1573.5 1885H1607.7V1888.4H1573.5zM1573.5 1913.8H1607.7V1920.4H1573.5zM1573.5 1942.6H1607.7V1946H1573.5zM1573.5 2045H1607.7V2048.4H1573.5zM1607.4 1929.8H1641.5V1933.2H1607.4zM1607.4 1942.6H1641.5V1946H1607.4zM1607.4 1955.4H1641.5V1958.8H1607.4zM1607.4 1965H1641.5V1968.4H1607.4zM1607.4 2150.7H1641.5V2154.1H1607.4zM1641.2 1811.4H1675.4V1814.8H1641.2zM1641.2 1853H1675.4V1856.4H1641.2zM1641.2 1865.8H1675.4V1872.4H1641.2zM1641.2 1885H1675.4V1891.6H1641.2zM1641.2 2048.2H1675.4V2051.6H1641.2zM1641.2 2118.6H1675.4V2122H1641.2z"/>
<path fill="#9EC8E0" d="M862 2253.1H896.2V2256.5H862zM862 2361.9H896.2V2365.3H862zM895.9 1814.6H930.1V1818H895.9zM895.9 1821H930.1V1824.4H895.9zM895.9 1872.2H930.1V1878.8H895.9zM895.9 1894.6H930.1V1901.2H895.9zM895.9 1910.6H930.1V1914H895.9zM895.9 1929.8H930.1V1933.2H895.9zM895.9 1942.6H930.1V1946H895.9zM895.9 2045H930.1V2048.4H895.9zM895.9 2169.9H930.1V2173.3H895.9zM895.9 2253.1H930.1V2256.5H895.9zM895.9 2317.1H930.1V2320.5H895.9zM895.9 2361.9H930.1V2365.3H895.9zM895.9 2422.7H930.1V2426.1H895.9zM895.9 2435.5H930.1V2438.9H895.9zM929.8 1907.4H963.9V1914H929.8zM929.8 1977.8H963.9V1981.2H929.8zM929.8 2038.6H963.9V2042H929.8zM929.8 2045H963.9V2048.4H929.8zM929.8 2185.9H963.9V2189.3H929.8zM929.8 2374.7H963.9V2378.1H929.8zM963.6 1833.8H997.8V1837.2H963.6zM963.6 1846.6H997.8V1853.2H963.6zM963.6 1920.2H997.8V1923.6H963.6zM963.6 1981H997.8V1984.4H963.6zM963.6 2189.1H997.8V2192.5H963.6zM963.6 2256.3H997.8V2259.7H963.6zM997.5 1907.4H1031.7V1910.8H997.5zM997.5 1939.4H1031.7V1946H997.5zM997.5 2054.6H1031.7V2058H997.5zM997.5 2086.6H1031.7V2090H997.5zM997.5 2102.6H1031.7V2106H997.5zM997.5 2221.1H1031.7V2224.5H997.5zM997.5 2422.7H1031.7V2426.1H997.5zM1031.4 1853H1065.6V1856.4H1031.4zM1031.4 1910.6H1065.6V1914H1031.4zM1031.4 1968.2H1065.6V1971.6H1031.4zM1031.4 2077H1065.6V2080.4H1031.4zM1031.4 2217.9H1065.6V2224.5H1031.4zM1031.4 2294.7H1065.6V2298.1H1031.4zM1031.4 2317.1H1065.6V2320.5H1031.4zM1065.3 1814.6H1099.5V1818H1065.3zM1065.3 1843.4H1099.5V1846.8H1065.3zM1065.3 1878.6H1099.5V1882H1065.3zM1065.3 2089.8H1099.5V2096.4H1065.3zM1065.3 2221.1H1099.5V2224.5H1065.3zM1065.3 2246.7H1099.5V2250.1H1065.3zM1099.2 1824.2H1133.3V1827.6H1099.2zM1099.2 1846.6H1133.3V1850H1099.2zM1099.2 1891.4H1133.3V1894.8H1099.2zM1099.2 1920.2H1133.3V1923.6H1099.2zM1099.2 2205.1H1133.3V2208.5H1099.2zM1099.2 2237.1H1133.3V2240.5H1099.2zM1099.2 2265.9H1133.3V2269.3H1099.2zM1099.2 2272.3H1133.3V2275.7H1099.2zM1099.2 2291.5H1133.3V2294.9H1099.2zM1099.2 2406.7H1133.3V2410.1H1099.2zM1133 1817.8H1167.2V1821.2H1133zM1133 1901H1167.2V1904.4H1133zM1133 2051.4H1167.2V2054.8H1133zM1133 2256.3H1167.2V2259.7H1133zM1166.9 1830.6H1201.1V1837.2H1166.9zM1166.9 1910.6H1201.1V1920.4H1166.9zM1166.9 2083.4H1201.1V2086.8H1166.9zM1166.9 2089.8H1201.1V2093.2H1166.9zM1166.9 2182.7H1201.1V2186.1H1166.9zM1200.8 1881.8H1235V1885.2H1200.8zM1200.8 1904.2H1235V1907.6H1200.8zM1200.8 2032.2H1235V2035.6H1200.8zM1200.8 2054.6H1235V2058H1200.8zM1200.8 2070.6H1235V2080.4H1200.8zM1200.8 2109H1235V2112.4H1200.8zM1200.8 2141.1H1235V2144.5H1200.8zM1200.8 2160.3H1235V2163.7H1200.8zM1200.8 2230.7H1235V2234.1H1200.8zM1200.8 2294.7H1235V2298.1H1200.8zM1234.7 1811.4H1268.9V1814.8H1234.7zM1234.7 1862.6H1268.9V1869.2H1234.7zM1234.7 1891.4H1268.9V1894.8H1234.7zM1234.7 1917H1268.9V1920.4H1234.7zM1234.7 1926.6H1268.9V1930H1234.7zM1234.7 1949H1268.9V1952.4H1234.7zM1234.7 1974.6H1268.9V1978H1234.7zM1234.7 1993.8H1268.9V1997.2H1234.7zM1234.7 2067.4H1268.9V2074H1234.7zM1234.7 2096.2H1268.9V2099.6H1234.7zM1234.7 2217.9H1268.9V2221.3H1234.7zM1268.6 1840.2H1302.7V1843.6H1268.6zM1268.6 2064.2H1302.7V2067.6H1268.6zM1268.6 2173.1H1302.7V2176.5H1268.6zM1268.6 2416.3H1302.7V2419.7H1268.6zM1302.4 1817.8H1336.6V1821.2H1302.4zM1302.4 1840.2H1336.6V1843.6H1302.4zM1302.4 1875.4H1336.6V1882H1302.4zM1302.4 1933H1336.6V1939.6H1302.4zM1302.4 2045H1336.6V2048.4H1302.4zM1302.4 2176.3H1336.6V2179.7H1302.4zM1302.4 2422.7H1336.6V2426.1H1302.4zM1336.3 1840.2H1370.5V1846.8H1336.3zM1336.3 1862.6H1370.5V1866H1336.3zM1336.3 1939.4H1370.5V1942.8H1336.3zM1336.3 1965H1370.5V1968.4H1336.3zM1336.3 2102.6H1370.5V2106H1336.3zM1336.3 2144.3H1370.5V2147.7H1336.3zM1336.3 2150.7H1370.5V2154.1H1336.3zM1370.2 1801.8H1404.4V1805.2H1370.2zM1370.2 1894.6H1404.4V1898H1370.2zM1370.2 1984.2H1404.4V1987.6H1370.2zM1370.2 2157.1H1404.4V2160.5H1370.2zM1404.1 1856.2H1438.3V1859.6H1404.1zM1404.1 1961.8H1438.3V1965.2H1404.1zM1404.1 1990.6H1438.3V1997.2H1404.1zM1404.1 2013H1438.3V2016.4H1404.1zM1438 1920.2H1472.1V1923.6H1438zM1438 1961.8H1472.1V1965.2H1438zM1438 2125.1H1472.1V2128.5H1438zM1438 2134.7H1472.1V2138.1H1438zM1471.8 1846.6H1506V1850H1471.8zM1471.8 1897.8H1506V1901.2H1471.8zM1471.8 1977.8H1506V1981.2H1471.8zM1471.8 2000.2H1506V2003.6H1471.8zM1471.8 2054.6H1506V2058H1471.8zM1505.7 1885H1539.9V1888.4H1505.7zM1505.7 1907.4H1539.9V1910.8H1505.7zM1505.7 1977.8H1539.9V1981.2H1505.7zM1505.7 1993.8H1539.9V1997.2H1505.7zM1505.7 2019.4H1539.9V2022.8H1505.7zM1505.7 2141.1H1539.9V2144.5H1505.7zM1539.6 1827.4H1573.8V1830.8H1539.6zM1539.6 1888.2H1573.8V1891.6H1539.6zM1539.6 2041.8H1573.8V2045.2H1539.6zM1539.6 2051.4H1573.8V2054.8H1539.6zM1539.6 2144.3H1573.8V2147.7H1539.6zM1539.6 2301.1H1573.8V2304.5H1539.6zM1573.5 1817.8H1607.7V1821.2H1573.5zM1573.5 1843.4H1607.7V1850H1573.5zM1573.5 1910.6H1607.7V1914H1573.5zM1573.5 1981H1607.7V1990.8H1573.5zM1573.5 2048.2H1607.7V2051.6H1573.5zM1573.5 2093H1607.7V2096.4H1573.5zM1573.5 2134.7H1607.7V2138.1H1573.5zM1607.4 1875.4H1641.5V1882H1607.4zM1607.4 1897.8H1641.5V1901.2H1607.4zM1607.4 1904.2H1641.5V1907.6H1607.4zM1607.4 1945.8H1641.5V1949.2H1607.4zM1607.4 1961.8H1641.5V1965.2H1607.4zM1607.4 1993.8H1641.5V1997.2H1607.4zM1607.4 2089.8H1641.5V2093.2H1607.4zM1607.4 2115.4H1641.5V2118.8H1607.4zM1641.2 1849.8H1675.4V1853.2H1641.2zM1641.2 1881.8H1675.4V1885.2H1641.2zM1641.2 1897.8H1675.4V1901.2H1641.2zM1641.2 2115.4H1675.4V2118.8H1641.2zM1641.2 2121.8H1675.4V2125.3H1641.2z"/>
<path fill="#ABD0E5" d="M862 2227.5H896.2V2230.9H862zM895.9 1817.8H930.1V1821.2H895.9zM895.9 1849.8H930.1V1853.2H895.9zM895.9 1865.8H930.1V1869.2H895.9zM895.9 1878.6H930.1V1882H895.9zM895.9 1936.2H930.1V1939.6H895.9zM895.9 2070.6H930.1V2074H895.9zM895.9 2192.3H930.1V2195.7H895.9zM895.9 2304.3H930.1V2307.7H895.9zM895.9 2329.9H930.1V2336.5H895.9zM929.8 1888.2H963.9V1891.6H929.8zM929.8 1971.4H963.9V1974.8H929.8zM929.8 2189.1H963.9V2192.5H929.8zM929.8 2224.3H963.9V2227.7H929.8zM963.6 1878.6H997.8V1882H963.6zM963.6 1923.4H997.8V1926.8H963.6zM963.6 1929.8H997.8V1933.2H963.6zM963.6 2051.4H997.8V2054.8H963.6zM963.6 2361.9H997.8V2365.3H963.6zM997.5 1869H1031.7V1872.4H997.5zM997.5 1885H1031.7V1888.4H997.5zM997.5 1958.6H1031.7V1962H997.5zM997.5 2256.3H1031.7V2259.7H997.5zM997.5 2275.5H1031.7V2282.1H997.5zM1031.4 1837H1065.6V1840.4H1031.4zM1031.4 1843.4H1065.6V1846.8H1031.4zM1031.4 1878.6H1065.6V1882H1031.4zM1031.4 1958.6H1065.6V1962H1031.4zM1031.4 2205.1H1065.6V2208.5H1031.4zM1065.3 1801.8H1099.5V1805.2H1065.3zM1065.3 1865.8H1099.5V1872.4H1065.3zM1065.3 1961.8H1099.5V1965.2H1065.3zM1065.3 1968.2H1099.5V1971.6H1065.3zM1065.3 2185.9H1099.5V2189.3H1065.3zM1065.3 2205.1H1099.5V2208.5H1065.3zM1065.3 2259.5H1099.5V2262.9H1065.3zM1065.3 2307.5H1099.5V2310.9H1065.3zM1099.2 1840.2H1133.3V1843.6H1099.2zM1099.2 1849.8H1133.3V1853.2H1099.2zM1099.2 2003.4H1133.3V2006.8H1099.2zM1099.2 2038.6H1133.3V2042H1099.2zM1099.2 2067.4H1133.3V2070.8H1099.2zM1099.2 2131.5H1133.3V2138.1H1099.2zM1099.2 2201.9H1133.3V2205.3H1099.2zM1099.2 2269.1H1133.3V2272.5H1099.2zM1099.2 2275.5H1133.3V2278.9H1099.2zM1099.2 2326.7H1133.3V2330.1H1099.2zM1099.2 2429.1H1133.3V2432.5H1099.2zM1133 1853H1167.2V1856.4H1133zM1133 1875.4H1167.2V1882H1133zM1133 1904.2H1167.2V1907.6H1133zM1133 2025.8H1167.2V2029.2H1133zM1133 2083.4H1167.2V2086.8H1133zM1133 2144.3H1167.2V2150.9H1133zM1133 2182.7H1167.2V2186.1H1133zM1133 2224.3H1167.2V2227.7H1133zM1133 2233.9H1167.2V2240.5H1133zM1133 2297.9H1167.2V2301.3H1133zM1166.9 2086.6H1201.1V2090H1166.9zM1166.9 2115.4H1201.1V2118.8H1166.9zM1166.9 2179.5H1201.1V2182.9H1166.9zM1166.9 2230.7H1201.1V2234.1H1166.9zM1166.9 2301.1H1201.1V2304.5H1166.9zM1200.8 1849.8H1235V1853.2H1200.8zM1200.8 1984.2H1235V1987.6H1200.8zM1200.8 2083.4H1235V2090H1200.8zM1200.8 2137.9H1235V2141.3H1200.8zM1200.8 2150.7H1235V2154.1H1200.8zM1234.7 1830.6H1268.9V1834H1234.7zM1234.7 1859.4H1268.9V1862.8H1234.7zM1234.7 1872.2H1268.9V1875.6H1234.7zM1234.7 1881.8H1268.9V1885.2H1234.7zM1234.7 1907.4H1268.9V1910.8H1234.7zM1234.7 1981H1268.9V1984.4H1234.7zM1234.7 2054.6H1268.9V2058H1234.7zM1234.7 2176.3H1268.9V2182.9H1234.7zM1234.7 2201.9H1268.9V2205.3H1234.7zM1268.6 2150.7H1302.7V2154.1H1268.6zM1268.6 2160.3H1302.7V2163.7H1268.6zM1302.4 1801.8H1336.6V1808.4H1302.4zM1302.4 1814.6H1336.6V1818H1302.4zM1302.4 1824.2H1336.6V1827.6H1302.4zM1302.4 1872.2H1336.6V1875.6H1302.4zM1302.4 1987.4H1336.6V1990.8H1302.4zM1302.4 2115.4H1336.6V2122H1302.4zM1336.3 1830.6H1370.5V1834H1336.3zM1336.3 1888.2H1370.5V1891.6H1336.3zM1336.3 1961.8H1370.5V1965.2H1336.3zM1336.3 2019.4H1370.5V2022.8H1336.3zM1336.3 2051.4H1370.5V2054.8H1336.3zM1336.3 2147.5H1370.5V2150.9H1336.3zM1370.2 1856.2H1404.4V1859.6H1370.2zM1370.2 1878.6H1404.4V1882H1370.2zM1370.2 1926.6H1404.4V1930H1370.2zM1370.2 1952.2H1404.4V1955.6H1370.2zM1370.2 2083.4H1404.4V2086.8H1370.2zM1404.1 1817.8H1438.3V1821.2H1404.1zM1404.1 1843.4H1438.3V1846.8H1404.1zM1404.1 1853H1438.3V1856.4H1404.1zM1404.1 1907.4H1438.3V1910.8H1404.1zM1404.1 1913.8H1438.3V1917.2H1404.1zM1404.1 1997H1438.3V2000.4H1404.1zM1404.1 2022.6H1438.3V2026H1404.1zM1404.1 2089.8H1438.3V2093.2H1404.1zM1438 1910.6H1472.1V1914H1438zM1438 1923.4H1472.1V1926.8H1438zM1438 1949H1472.1V1952.4H1438zM1438 1958.6H1472.1V1962H1438zM1438 2137.9H1472.1V2144.5H1438zM1471.8 1926.6H1506V1933.2H1471.8zM1471.8 2022.6H1506V2026H1471.8zM1471.8 2083.4H1506V2086.8H1471.8zM1505.7 1833.8H1539.9V1837.2H1505.7zM1505.7 1856.2H1539.9V1859.6H1505.7zM1505.7 1878.6H1539.9V1882H1505.7zM1505.7 1910.6H1539.9V1914H1505.7zM1505.7 1920.2H1539.9V1923.6H1505.7zM1505.7 2121.8H1539.9V2125.3H1505.7zM1539.6 1849.8H1573.8V1853.2H1539.6zM1539.6 1993.8H1573.8V2000.4H1539.6zM1539.6 2022.6H1573.8V2026H1539.6zM1539.6 2064.2H1573.8V2067.6H1539.6zM1539.6 2118.6H1573.8V2122H1539.6zM1573.5 1897.8H1607.7V1901.2H1573.5zM1573.5 2089.8H1607.7V2093.2H1573.5zM1607.4 1801.8H1641.5V1805.2H1607.4zM1607.4 1933H1641.5V1936.4H1607.4zM1607.4 1939.4H1641.5V1942.8H1607.4zM1607.4 2137.9H1641.5V2141.3H1607.4zM1641.2 2038.6H1675.4V2045.2H1641.2zM1641.2 2131.5H1675.4V2134.9H1641.2z"/>
<path fill="#B8D9EA" d="M862 2237.1H896.2V2240.5H862zM862 2403.5H896.2V2406.9H862zM895.9 2061H930.1V2064.4H895.9zM895.9 2086.6H930.1V2090H895.9zM895.9 2185.9H930.1V2189.3H895.9zM895.9 2285.1H930.1V2288.5H895.9zM895.9 2355.5H930.1V2358.9H895.9zM929.8 1840.2H963.9V1843.6H929.8zM929.8 1869H963.9V1872.4H929.8zM929.8 2080.2H963.9V2083.6H929.8zM929.8 2195.5H963.9V2198.9H929.8zM929.8 2227.5H963.9V2230.9H929.8zM929.8 2262.7H963.9V2266.1H929.8zM963.6 2288.3H997.8V2291.7H963.6zM963.6 2358.7H997.8V2362.1H963.6zM963.6 2377.9H997.8V2381.3H963.6zM963.6 2400.3H997.8V2403.7H963.6zM963.6 2429.1H997.8V2432.5H963.6zM997.5 1897.8H1031.7V1901.2H997.5zM997.5 1913.8H1031.7V1917.2H997.5zM997.5 1971.4H1031.7V1974.8H997.5zM997.5 2057.8H1031.7V2061.2H997.5zM997.5 2192.3H1031.7V2195.7H997.5zM1031.4 1846.6H1065.6V1850H1031.4zM1031.4 1875.4H1065.6V1878.8H1031.4zM1031.4 1939.4H1065.6V1942.8H1031.4zM1031.4 1987.4H1065.6V1990.8H1031.4zM1031.4 2166.7H1065.6V2170.1H1031.4zM1031.4 2195.5H1065.6V2198.9H1031.4zM1031.4 2256.3H1065.6V2259.7H1031.4zM1031.4 2285.1H1065.6V2288.5H1031.4zM1065.3 1805H1099.5V1808.4H1065.3zM1065.3 1910.6H1099.5V1914H1065.3zM1065.3 1926.6H1099.5V1930H1065.3zM1065.3 2099.4H1099.5V2102.8H1065.3zM1065.3 2147.5H1099.5V2150.9H1065.3zM1099.2 1869H1133.3V1872.4H1099.2zM1099.2 1939.4H1133.3V1942.8H1099.2zM1099.2 1974.6H1133.3V1978H1099.2zM1099.2 2019.4H1133.3V2022.8H1099.2zM1099.2 2048.2H1133.3V2051.6H1099.2zM1099.2 2096.2H1133.3V2099.6H1099.2zM1099.2 2115.4H1133.3V2118.8H1099.2zM1099.2 2128.3H1133.3V2131.7H1099.2zM1099.2 2176.3H1133.3V2179.7H1099.2zM1099.2 2310.7H1133.3V2314.1H1099.2zM1133 1869H1167.2V1872.4H1133zM1133 1894.6H1167.2V1898H1133zM1133 1939.4H1167.2V1942.8H1133zM1133 1949H1167.2V1952.4H1133zM1133 2086.6H1167.2V2090H1133zM1133 2217.9H1167.2V2224.5H1133zM1133 2313.9H1167.2V2317.3H1133zM1166.9 1801.8H1201.1V1805.2H1166.9zM1166.9 1853H1201.1V1856.4H1166.9zM1166.9 1923.4H1201.1V1926.8H1166.9zM1166.9 2035.4H1201.1V2038.8H1166.9zM1166.9 2096.2H1201.1V2099.6H1166.9zM1166.9 2144.3H1201.1V2147.7H1166.9zM1200.8 1824.2H1235V1827.6H1200.8zM1200.8 1917H1235V1926.8H1200.8zM1200.8 1968.2H1235V1971.6H1200.8zM1200.8 2051.4H1235V2054.8H1200.8zM1200.8 2256.3H1235V2259.7H1200.8zM1200.8 2342.7H1235V2346.1H1200.8zM1234.7 1827.4H1268.9V1830.8H1234.7zM1234.7 1840.2H1268.9V1843.6H1234.7zM1234.7 1856.2H1268.9V1859.6H1234.7zM1234.7 1968.2H1268.9V1974.8H1234.7zM1234.7 1984.2H1268.9V1990.8H1234.7zM1234.7 2061H1268.9V2064.4H1234.7zM1234.7 2329.9H1268.9V2333.3H1234.7zM1268.6 1872.2H1302.7V1875.6H1268.6zM1268.6 1878.6H1302.7V1882H1268.6zM1268.6 1885H1302.7V1888.4H1268.6zM1268.6 1933H1302.7V1936.4H1268.6zM1268.6 1952.2H1302.7V1955.6H1268.6zM1268.6 1987.4H1302.7V1990.8H1268.6zM1268.6 2051.4H1302.7V2054.8H1268.6zM1268.6 2128.3H1302.7V2131.7H1268.6zM1268.6 2147.5H1302.7V2150.9H1268.6zM1268.6 2176.3H1302.7V2179.7H1268.6zM1268.6 2419.5H1302.7V2426.1H1268.6zM1302.4 1821H1336.6V1824.4H1302.4zM1302.4 1859.4H1336.6V1862.8H1302.4zM1302.4 1894.6H1336.6V1898H1302.4zM1302.4 1958.6H1336.6V1962H1302.4zM1302.4 1977.8H1336.6V1981.2H1302.4zM1302.4 1984.2H1336.6V1987.6H1302.4zM1302.4 2102.6H1336.6V2109.2H1302.4zM1336.3 1827.4H1370.5V1830.8H1336.3zM1336.3 1837H1370.5V1840.4H1336.3zM1336.3 1942.6H1370.5V1946H1336.3zM1336.3 1968.2H1370.5V1971.6H1336.3zM1336.3 2032.2H1370.5V2035.6H1336.3zM1336.3 2038.6H1370.5V2042H1336.3zM1336.3 2048.2H1370.5V2051.6H1336.3zM1336.3 2080.2H1370.5V2083.6H1336.3zM1336.3 2134.7H1370.5V2138.1H1336.3zM1370.2 1849.8H1404.4V1853.2H1370.2zM1370.2 1885H1404.4V1888.4H1370.2zM1370.2 1897.8H1404.4V1901.2H1370.2zM1370.2 1907.4H1404.4V1914H1370.2zM1370.2 1923.4H1404.4V1926.8H1370.2zM1370.2 1939.4H1404.4V1942.8H1370.2zM1370.2 1945.8H1404.4V1949.2H1370.2zM1404.1 1840.2H1438.3V1843.6H1404.1zM1404.1 1849.8H1438.3V1853.2H1404.1zM1404.1 1894.6H1438.3V1901.2H1404.1zM1404.1 2102.6H1438.3V2106H1404.1zM1438 1801.8H1472.1V1805.2H1438zM1438 1808.2H1472.1V1811.6H1438zM1438 1869H1472.1V1872.4H1438zM1438 1897.8H1472.1V1901.2H1438zM1438 1917H1472.1V1920.4H1438zM1438 1981H1472.1V1984.4H1438zM1438 1997H1472.1V2000.4H1438zM1438 2144.3H1472.1V2147.7H1438zM1471.8 1859.4H1506V1862.8H1471.8zM1471.8 1891.4H1506V1894.8H1471.8zM1471.8 1904.2H1506V1907.6H1471.8zM1471.8 1968.2H1506V1971.6H1471.8zM1505.7 1846.6H1539.9V1850H1505.7zM1505.7 1894.6H1539.9V1898H1505.7zM1505.7 1933H1539.9V1936.4H1505.7zM1505.7 2089.8H1539.9V2093.2H1505.7zM1505.7 2125.1H1539.9V2128.5H1505.7zM1539.6 1853H1573.8V1859.6H1539.6zM1539.6 1869H1573.8V1872.4H1539.6zM1539.6 1913.8H1573.8V1917.2H1539.6zM1539.6 2080.2H1573.8V2083.6H1539.6zM1539.6 2093H1573.8V2096.4H1539.6zM1539.6 2112.2H1573.8V2115.6H1539.6zM1573.5 1939.4H1607.7V1942.8H1573.5zM1573.5 2121.8H1607.7V2125.3H1573.5zM1573.5 2144.3H1607.7V2147.7H1573.5zM1607.4 2045H1641.5V2048.4H1607.4zM1607.4 2102.6H1641.5V2106H1607.4zM1641.2 1878.6H1675.4V1882H1641.2zM1641.2 1917H1675.4V1920.4H1641.2zM1641.2 2102.6H1675.4V2106H1641.2zM1641.2 2128.3H1675.4V2131.7H1641.2z"/>
<path fill="#C6E2EE" d="M862 2179.5H896.2V2182.9H862zM862 2304.3H896.2V2307.7H862zM895.9 1869H930.1V1872.4H895.9zM895.9 1885H930.1V1888.4H895.9zM895.9 1904.2H930.1V1910.8H895.9zM895.9 1984.2H930.1V1987.6H895.9zM895.9 2064.2H930.1V2067.6H895.9zM895.9 2073.8H930.1V2077.2H895.9zM895.9 2294.7H930.1V2298.1H895.9zM895.9 2368.3H930.1V2374.9H895.9zM929.8 1878.6H963.9V1882H929.8zM929.8 1984.2H963.9V1987.6H929.8zM929.8 2048.2H963.9V2051.6H929.8zM929.8 2064.2H963.9V2067.6H929.8zM929.8 2176.3H963.9V2179.7H929.8zM929.8 2253.1H963.9V2256.5H929.8zM929.8 2259.5H963.9V2262.9H929.8zM963.6 2262.7H997.8V2266.1H963.6zM963.6 2320.3H997.8V2323.7H963.6zM997.5 1901H1031.7V1904.4H997.5zM997.5 1968.2H1031.7V1971.6H997.5zM997.5 2041.8H1031.7V2048.4H997.5zM997.5 2089.8H1031.7V2093.2H997.5zM1031.4 1859.4H1065.6V1862.8H1031.4zM1031.4 2246.7H1065.6V2250.1H1031.4zM1065.3 1913.8H1099.5V1917.2H1065.3zM1065.3 2038.6H1099.5V2045.2H1065.3zM1065.3 2051.4H1099.5V2054.8H1065.3zM1065.3 2301.1H1099.5V2307.7H1065.3zM1099.2 1894.6H1133.3V1898H1099.2zM1099.2 2054.6H1133.3V2061.2H1099.2zM1099.2 2189.1H1133.3V2192.5H1099.2zM1099.2 2301.1H1133.3V2304.5H1099.2zM1133 1821H1167.2V1824.4H1133zM1133 1923.4H1167.2V1930H1133zM1133 1945.8H1167.2V1949.2H1133zM1133 2048.2H1167.2V2051.6H1133zM1133 2227.5H1167.2V2230.9H1133zM1133 2371.5H1167.2V2378.1H1133zM1166.9 1875.4H1201.1V1882H1166.9zM1166.9 2057.8H1201.1V2061.2H1166.9zM1200.8 1843.4H1235V1846.8H1200.8zM1200.8 1853H1235V1856.4H1200.8zM1200.8 1965H1235V1968.4H1200.8zM1200.8 2061H1235V2064.4H1200.8zM1200.8 2246.7H1235V2250.1H1200.8zM1200.8 2336.3H1235V2342.9H1200.8zM1234.7 1805H1268.9V1808.4H1234.7zM1234.7 1821H1268.9V1827.6H1234.7zM1234.7 1878.6H1268.9V1882H1234.7zM1234.7 1885H1268.9V1888.4H1234.7zM1234.7 1929.8H1268.9V1933.2H1234.7zM1234.7 2281.9H1268.9V2285.3H1234.7zM1234.7 2333.1H1268.9V2339.7H1234.7zM1268.6 1910.6H1302.7V1914H1268.6zM1268.6 1945.8H1302.7V1949.2H1268.6zM1268.6 2057.8H1302.7V2061.2H1268.6zM1268.6 2141.1H1302.7V2144.5H1268.6zM1268.6 2425.9H1302.7V2429.3H1268.6zM1302.4 1856.2H1336.6V1859.6H1302.4zM1302.4 1891.4H1336.6V1894.8H1302.4zM1302.4 1990.6H1336.6V1994H1302.4zM1302.4 2048.2H1336.6V2051.6H1302.4zM1302.4 2086.6H1336.6V2090H1302.4zM1302.4 2112.2H1336.6V2115.6H1302.4zM1302.4 2147.5H1336.6V2150.9H1302.4zM1336.3 1824.2H1370.5V1827.6H1336.3zM1336.3 1945.8H1370.5V1949.2H1336.3zM1336.3 2083.4H1370.5V2086.8H1336.3zM1370.2 1891.4H1404.4V1894.8H1370.2zM1370.2 1942.6H1404.4V1946H1370.2zM1370.2 1949H1404.4V1952.4H1370.2zM1370.2 2105.8H1404.4V2109.2H1370.2zM1370.2 2131.5H1404.4V2134.9H1370.2zM1404.1 1862.6H1438.3V1869.2H1404.1zM1404.1 1910.6H1438.3V1914H1404.1zM1404.1 1929.8H1438.3V1933.2H1404.1zM1438 1805H1472.1V1808.4H1438zM1438 1840.2H1472.1V1843.6H1438zM1438 1872.2H1472.1V1875.6H1438zM1438 1904.2H1472.1V1907.6H1438zM1438 1913.8H1472.1V1917.2H1438zM1438 1977.8H1472.1V1981.2H1438zM1438 2048.2H1472.1V2051.6H1438zM1438 2054.6H1472.1V2058H1438zM1471.8 1971.4H1506V1974.8H1471.8zM1471.8 1981H1506V1984.4H1471.8zM1471.8 2121.8H1506V2125.3H1471.8zM1471.8 2128.3H1506V2131.7H1471.8zM1471.8 2144.3H1506V2147.7H1471.8zM1505.7 1955.4H1539.9V1958.8H1505.7zM1505.7 1987.4H1539.9V1990.8H1505.7zM1505.7 2070.6H1539.9V2074H1505.7zM1539.6 1865.8H1573.8V1869.2H1539.6zM1539.6 1945.8H1573.8V1949.2H1539.6zM1539.6 2032.2H1573.8V2035.6H1539.6zM1539.6 2057.8H1573.8V2061.2H1539.6zM1539.6 2096.2H1573.8V2099.6H1539.6zM1539.6 2141.1H1573.8V2144.5H1539.6zM1573.5 1901H1607.7V1904.4H1573.5zM1573.5 2064.2H1607.7V2067.6H1573.5zM1573.5 2125.1H1607.7V2128.5H1573.5zM1607.4 1837H1641.5V1840.4H1607.4zM1607.4 1881.8H1641.5V1885.2H1607.4zM1607.4 1901H1641.5V1904.4H1607.4zM1607.4 2038.6H1641.5V2042H1607.4zM1607.4 2109H1641.5V2112.4H1607.4zM1641.2 1808.2H1675.4V1811.6H1641.2zM1641.2 1910.6H1675.4V1914H1641.2zM1641.2 1939.4H1675.4V1942.8H1641.2zM1641.2 1990.6H1675.4V1994H1641.2zM1641.2 2045H1675.4V2048.4H1641.2z"/>
<path fill="#D3EAF3" d="M862 2157.1H896.2V2160.5H862zM862 2169.9H896.2V2173.3H862zM862 2176.3H896.2V2179.7H862zM862 2182.7H896.2V2186.1H862zM862 2233.9H896.2V2237.3H862zM895.9 1853H930.1V1856.4H895.9zM895.9 1913.8H930.1V1917.2H895.9zM895.9 1961.8H930.1V1965.2H895.9zM895.9 2182.7H930.1V2186.1H895.9zM895.9 2208.3H930.1V2211.7H895.9zM895.9 2297.9H930.1V2301.3H895.9zM895.9 2409.9H930.1V2413.3H895.9zM895.9 2419.5H930.1V2422.9H895.9zM929.8 1920.2H963.9V1923.6H929.8zM929.8 1939.4H963.9V1942.8H929.8zM929.8 1949H963.9V1952.4H929.8zM929.8 1974.6H963.9V1978H929.8zM929.8 2067.4H963.9V2070.8H929.8zM929.8 2211.5H963.9V2214.9H929.8zM929.8 2291.5H963.9V2294.9H929.8zM929.8 2301.1H963.9V2304.5H929.8zM929.8 2365.1H963.9V2368.5H929.8zM963.6 2297.9H997.8V2301.3H963.6zM963.6 2317.1H997.8V2320.5H963.6zM997.5 1843.4H1031.7V1846.8H997.5zM997.5 1888.2H1031.7V1894.8H997.5zM997.5 1987.4H1031.7V1990.8H997.5zM1031.4 1849.8H1065.6V1853.2H1031.4zM1031.4 1926.6H1065.6V1930H1031.4zM1031.4 1936.2H1065.6V1939.6H1031.4zM1031.4 1965H1065.6V1968.4H1031.4zM1031.4 1977.8H1065.6V1981.2H1031.4zM1031.4 2185.9H1065.6V2189.3H1031.4zM1031.4 2208.3H1065.6V2211.7H1031.4zM1065.3 1891.4H1099.5V1894.8H1065.3zM1065.3 1907.4H1099.5V1910.8H1065.3zM1065.3 2189.1H1099.5V2192.5H1065.3zM1099.2 1856.2H1133.3V1859.6H1099.2zM1099.2 1936.2H1133.3V1939.6H1099.2zM1099.2 1977.8H1133.3V1981.2H1099.2zM1099.2 1984.2H1133.3V1987.6H1099.2zM1099.2 2307.5H1133.3V2310.9H1099.2zM1099.2 2323.5H1133.3V2326.9H1099.2zM1133 1856.2H1167.2V1859.6H1133zM1133 2185.9H1167.2V2192.5H1133zM1133 2201.9H1167.2V2205.3H1133zM1133 2246.7H1167.2V2250.1H1133zM1133 2259.5H1167.2V2262.9H1133zM1133 2352.3H1167.2V2355.7H1133zM1166.9 1805H1201.1V1808.4H1166.9zM1166.9 2233.9H1201.1V2240.5H1166.9zM1166.9 2365.1H1201.1V2368.5H1166.9zM1200.8 1821H1235V1824.4H1200.8zM1200.8 2048.2H1235V2051.6H1200.8zM1200.8 2089.8H1235V2093.2H1200.8zM1200.8 2182.7H1235V2189.3H1200.8zM1200.8 2195.5H1235V2198.9H1200.8zM1234.7 1837H1268.9V1840.4H1234.7zM1234.7 2160.3H1268.9V2163.7H1234.7zM1234.7 2317.1H1268.9V2320.5H1234.7zM1268.6 1801.8H1302.7V1805.2H1268.6zM1268.6 1817.8H1302.7V1821.2H1268.6zM1268.6 1853H1302.7V1856.4H1268.6zM1268.6 1894.6H1302.7V1898H1268.6zM1268.6 1907.4H1302.7V1910.8H1268.6zM1268.6 1942.6H1302.7V1946H1268.6zM1268.6 1958.6H1302.7V1962H1268.6zM1268.6 2054.6H1302.7V2058H1268.6zM1268.6 2061H1302.7V2064.4H1268.6zM1268.6 2125.1H1302.7V2128.5H1268.6zM1302.4 1808.2H1336.6V1811.6H1302.4zM1302.4 1904.2H1336.6V1910.8H1302.4zM1302.4 1955.4H1336.6V1958.8H1302.4zM1302.4 1997H1336.6V2000.4H1302.4zM1302.4 2077H1336.6V2080.4H1302.4zM1302.4 2093H1336.6V2096.4H1302.4zM1336.3 1897.8H1370.5V1901.2H1336.3zM1336.3 2067.4H1370.5V2070.8H1336.3zM1336.3 2115.4H1370.5V2118.8H1336.3zM1336.3 2121.8H1370.5V2125.3H1336.3zM1336.3 2131.5H1370.5V2134.9H1336.3zM1370.2 1817.8H1404.4V1821.2H1370.2zM1370.2 1837H1404.4V1840.4H1370.2zM1370.2 2038.6H1404.4V2042H1370.2zM1370.2 2093H1404.4V2096.4H1370.2zM1370.2 2102.6H1404.4V2106H1370.2zM1404.1 1859.4H1438.3V1862.8H1404.1zM1404.1 1926.6H1438.3V1930H1404.1zM1404.1 1981H1438.3V1984.4H1404.1zM1404.1 2029H1438.3V2032.4H1404.1zM1404.1 2125.1H1438.3V2128.5H1404.1zM1438 1849.8H1472.1V1853.2H1438zM1438 1859.4H1472.1V1862.8H1438zM1438 1894.6H1472.1V1898H1438zM1438 1901H1472.1V1904.4H1438zM1438 1939.4H1472.1V1942.8H1438zM1438 2051.4H1472.1V2054.8H1438zM1471.8 1821H1506V1824.4H1471.8zM1471.8 1865.8H1506V1869.2H1471.8zM1471.8 2077H1506V2080.4H1471.8zM1505.7 1801.8H1539.9V1808.4H1505.7zM1505.7 1814.6H1539.9V1818H1505.7zM1505.7 2048.2H1539.9V2051.6H1505.7zM1505.7 2077H1539.9V2080.4H1505.7zM1539.6 1805H1573.8V1808.4H1539.6zM1539.6 1862.6H1573.8V1866H1539.6zM1539.6 1923.4H1573.8V1926.8H1539.6zM1539.6 1939.4H1573.8V1942.8H1539.6zM1539.6 1987.4H1573.8V1990.8H1539.6zM1539.6 2128.3H1573.8V2131.7H1539.6zM1573.5 1808.2H1607.7V1811.6H1573.5zM1573.5 1833.8H1607.7V1837.2H1573.5zM1573.5 2041.8H1607.7V2045.2H1573.5zM1573.5 2105.8H1607.7V2109.2H1573.5zM1573.5 2115.4H1607.7V2118.8H1573.5zM1607.4 1869H1641.5V1872.4H1607.4zM1607.4 2041.8H1641.5V2045.2H1607.4zM1607.4 2144.3H1641.5V2147.7H1607.4zM1641.2 1833.8H1675.4V1837.2H1641.2zM1641.2 1846.6H1675.4V1850H1641.2zM1641.2 1923.4H1675.4V1926.8H1641.2zM1641.2 1942.6H1675.4V1946H1641.2zM1641.2 1958.6H1675.4V1962H1641.2zM1641.2 1993.8H1675.4V1997.2H1641.2z"/>
<path fill="#E0F3F8" d="M862 2208.3H896.2V2214.9H862zM862 2265.9H896.2V2275.7H862zM862 2349.1H896.2V2352.5H862zM929.8 2041.8H963.9V2045.2H929.8zM929.8 2051.4H963.9V2054.8H929.8zM929.8 2294.7H963.9V2298.1H929.8zM963.6 2217.9H997.8V2224.5H963.6zM963.6 2230.7H997.8V2234.1H963.6zM997.5 1910.6H1031.7V1914H997.5zM997.5 1974.6H1031.7V1978H997.5zM997.5 1990.6H1031.7V1994H997.5zM1031.4 1961.8H1065.6V1965.2H1031.4zM1031.4 2243.5H1065.6V2246.9H1031.4zM1065.3 1846.6H1099.5V1850H1065.3zM1065.3 2182.7H1099.5V2186.1H1065.3zM1065.3 2224.3H1099.5V2227.7H1065.3zM1065.3 2297.9H1099.5V2301.3H1065.3zM1065.3 2400.3H1099.5V2403.7H1065.3zM1099.2 2086.6H1133.3V2090H1099.2zM1099.2 2227.5H1133.3V2230.9H1099.2zM1099.2 2313.9H1133.3V2317.3H1099.2zM1099.2 2377.9H1133.3V2381.3H1099.2zM1133 2150.7H1167.2V2163.7H1133zM1133 2166.7H1167.2V2170.1H1133zM1133 2176.3H1167.2V2182.9H1133zM1133 2192.3H1167.2V2195.7H1133zM1133 2214.7H1167.2V2218.1H1133zM1133 2355.5H1167.2V2358.9H1133zM1166.9 2157.1H1201.1V2166.9H1166.9zM1166.9 2189.1H1201.1V2192.5H1166.9zM1166.9 2317.1H1201.1V2320.5H1166.9zM1200.8 1974.6H1235V1978H1200.8zM1200.8 2189.1H1235V2192.5H1200.8zM1200.8 2320.3H1235V2323.7H1200.8zM1234.7 2051.4H1268.9V2054.8H1234.7zM1234.7 2240.3H1268.9V2243.7H1234.7zM1234.7 2294.7H1268.9V2298.1H1234.7zM1234.7 2361.9H1268.9V2365.3H1234.7zM1234.7 2371.5H1268.9V2374.9H1234.7zM1268.6 2038.6H1302.7V2042H1268.6zM1268.6 2089.8H1302.7V2096.4H1268.6zM1302.4 2000.2H1336.6V2003.6H1302.4zM1302.4 2038.6H1336.6V2045.2H1302.4zM1302.4 2089.8H1336.6V2093.2H1302.4zM1302.4 2137.9H1336.6V2141.3H1302.4zM1336.3 1913.8H1370.5V1917.2H1336.3zM1336.3 2118.6H1370.5V2122H1336.3zM1370.2 1830.6H1404.4V1834H1370.2zM1370.2 1961.8H1404.4V1965.2H1370.2zM1370.2 2061H1404.4V2064.4H1370.2zM1370.2 2118.6H1404.4V2122H1370.2zM1370.2 2128.3H1404.4V2131.7H1370.2zM1404.1 1830.6H1438.3V1834H1404.1zM1404.1 1965H1438.3V1968.4H1404.1zM1404.1 1984.2H1438.3V1987.6H1404.1zM1404.1 2041.8H1438.3V2045.2H1404.1zM1438 1881.8H1472.1V1885.2H1438zM1438 1891.4H1472.1V1894.8H1438zM1438 1945.8H1472.1V1949.2H1438zM1471.8 1869H1506V1872.4H1471.8zM1471.8 1888.2H1506V1891.6H1471.8zM1471.8 1933H1506V1936.4H1471.8zM1471.8 1965H1506V1968.4H1471.8zM1505.7 1853H1539.9V1856.4H1505.7zM1505.7 1917H1539.9V1920.4H1505.7zM1505.7 2061H1539.9V2064.4H1505.7zM1505.7 2083.4H1539.9V2086.8H1505.7zM1505.7 2109H1539.9V2112.4H1505.7zM1505.7 2115.4H1539.9V2118.8H1505.7zM1539.6 1843.4H1573.8V1846.8H1539.6zM1539.6 1901H1573.8V1904.4H1539.6zM1539.6 1984.2H1573.8V1987.6H1539.6zM1539.6 2054.6H1573.8V2058H1539.6zM1539.6 2067.4H1573.8V2070.8H1539.6zM1539.6 2125.1H1573.8V2128.5H1539.6zM1539.6 2131.5H1573.8V2134.9H1539.6zM1573.5 1840.2H1607.7V1843.6H1573.5zM1573.5 1936.2H1607.7V1939.6H1573.5zM1573.5 1955.4H1607.7V1958.8H1573.5zM1573.5 1965H1607.7V1968.4H1573.5zM1573.5 2038.6H1607.7V2042H1573.5zM1607.4 1805H1641.5V1808.4H1607.4zM1607.4 1865.8H1641.5V1869.2H1607.4zM1607.4 1888.2H1641.5V1891.6H1607.4zM1607.4 1910.6H1641.5V1914H1607.4zM1607.4 1987.4H1641.5V1990.8H1607.4zM1641.2 1817.8H1675.4V1824.4H1641.2zM1641.2 1894.6H1675.4V1898H1641.2zM1641.2 1977.8H1675.4V1981.2H1641.2zM1641.2 2083.4H1675.4V2086.8H1641.2zM1641.2 2112.2H1675.4V2115.6H1641.2z"/>
<path fill="#E5F5EE" d="M862 2345.9H896.2V2349.3H862zM895.9 1856.2H930.1V1859.6H895.9zM895.9 2205.1H930.1V2208.5H895.9zM895.9 2256.3H930.1V2259.7H895.9zM895.9 2281.9H930.1V2285.3H895.9zM895.9 2342.7H930.1V2346.1H895.9zM895.9 2413.1H930.1V2416.5H895.9zM929.8 2416.3H963.9V2426.1H929.8zM963.6 2169.9H997.8V2173.3H963.6zM963.6 2224.3H997.8V2230.9H963.6zM963.6 2233.9H997.8V2237.3H963.6zM963.6 2285.1H997.8V2288.5H963.6zM963.6 2333.1H997.8V2336.5H963.6zM1031.4 2163.5H1065.6V2166.9H1031.4zM1031.4 2176.3H1065.6V2179.7H1031.4zM1031.4 2342.7H1065.6V2346.1H1031.4zM1065.3 2211.5H1099.5V2221.3H1065.3zM1065.3 2320.3H1099.5V2323.7H1065.3zM1099.2 2173.1H1133.3V2176.5H1099.2zM1099.2 2224.3H1133.3V2227.7H1099.2zM1099.2 2230.7H1133.3V2234.1H1099.2zM1099.2 2317.1H1133.3V2320.5H1099.2zM1133 2304.3H1167.2V2307.7H1133zM1133 2342.7H1167.2V2349.3H1133zM1133 2358.7H1167.2V2362.1H1133zM1166.9 2249.9H1201.1V2253.3H1166.9zM1166.9 2320.3H1201.1V2323.7H1166.9zM1166.9 2336.3H1201.1V2339.7H1166.9zM1200.8 2192.3H1235V2195.7H1200.8zM1200.8 2214.7H1235V2218.1H1200.8zM1234.7 2189.1H1268.9V2192.5H1234.7zM1234.7 2243.5H1268.9V2246.9H1234.7zM1234.7 2416.3H1268.9V2419.7H1234.7zM1268.6 1968.2H1302.7V1971.6H1268.6zM1302.4 1910.6H1336.6V1914H1302.4zM1302.4 1939.4H1336.6V1942.8H1302.4zM1336.3 1814.6H1370.5V1818H1336.3zM1336.3 1949H1370.5V1952.4H1336.3zM1336.3 2125.1H1370.5V2131.7H1336.3zM1336.3 2137.9H1370.5V2141.3H1336.3zM1336.3 2374.7H1370.5V2381.3H1336.3zM1370.2 1888.2H1404.4V1891.6H1370.2zM1370.2 1917H1404.4V1920.4H1370.2zM1370.2 1933H1404.4V1936.4H1370.2zM1370.2 2096.2H1404.4V2099.6H1370.2zM1370.2 2125.1H1404.4V2128.5H1370.2zM1404.1 1888.2H1438.3V1891.6H1404.1zM1404.1 1974.6H1438.3V1978H1404.1zM1404.1 2077H1438.3V2090H1404.1zM1404.1 2128.3H1438.3V2131.7H1404.1zM1438 1843.4H1472.1V1846.8H1438zM1438 1862.6H1472.1V1866H1438zM1438 1878.6H1472.1V1882H1438zM1438 2121.8H1472.1V2125.3H1438zM1471.8 1875.4H1506V1878.8H1471.8zM1471.8 1936.2H1506V1942.8H1471.8zM1471.8 2048.2H1506V2054.8H1471.8zM1471.8 2093H1506V2096.4H1471.8zM1471.8 2105.8H1506V2109.2H1471.8zM1471.8 2131.5H1506V2134.9H1471.8zM1505.7 1942.6H1539.9V1946H1505.7zM1505.7 2045H1539.9V2048.4H1505.7zM1505.7 2118.6H1539.9V2122H1505.7zM1539.6 1840.2H1573.8V1843.6H1539.6zM1539.6 1929.8H1573.8V1933.2H1539.6zM1539.6 1965H1573.8V1968.4H1539.6zM1539.6 2045H1573.8V2048.4H1539.6zM1539.6 2086.6H1573.8V2090H1539.6zM1573.5 1814.6H1607.7V1818H1573.5zM1573.5 1888.2H1607.7V1891.6H1573.5zM1573.5 1894.6H1607.7V1898H1573.5zM1573.5 1923.4H1607.7V1926.8H1573.5zM1573.5 2054.6H1607.7V2058H1573.5zM1573.5 2080.2H1607.7V2083.6H1573.5zM1607.4 1811.4H1641.5V1814.8H1607.4zM1607.4 1821H1641.5V1824.4H1607.4zM1607.4 1913.8H1641.5V1917.2H1607.4zM1607.4 1936.2H1641.5V1939.6H1607.4zM1607.4 1974.6H1641.5V1978H1607.4zM1607.4 2112.2H1641.5V2115.6H1607.4zM1607.4 2141.1H1641.5V2144.5H1607.4zM1641.2 1824.2H1675.4V1830.8H1641.2zM1641.2 1875.4H1675.4V1878.8H1641.2zM1641.2 1974.6H1675.4V1978H1641.2z"/>
<path fill="#EAF7E5" d="M862 2173.1H896.2V2176.5H862zM862 2230.7H896.2V2234.1H862zM862 2285.1H896.2V2288.5H862zM862 2291.5H896.2V2294.9H862zM895.9 2189.1H930.1V2192.5H895.9zM895.9 2230.7H930.1V2234.1H895.9zM895.9 2345.9H930.1V2349.3H895.9zM963.6 2195.5H997.8V2198.9H963.6zM963.6 2323.5H997.8V2326.9H963.6zM963.6 2329.9H997.8V2333.3H963.6zM963.6 2345.9H997.8V2349.3H963.6zM963.6 2355.5H997.8V2358.9H963.6zM997.5 1849.8H1031.7V1853.2H997.5zM1031.4 2169.9H1065.6V2173.3H1031.4zM1099.2 2169.9H1133.3V2173.3H1099.2zM1099.2 2249.9H1133.3V2256.5H1099.2zM1099.2 2294.7H1133.3V2298.1H1099.2zM1099.2 2336.3H1133.3V2339.7H1099.2zM1133 2169.9H1167.2V2176.5H1133zM1133 2195.5H1167.2V2202.1H1133zM1133 2307.5H1167.2V2310.9H1133zM1133 2326.7H1167.2V2333.3H1133zM1133 2339.5H1167.2V2342.9H1133zM1166.9 2176.3H1201.1V2179.7H1166.9zM1166.9 2288.3H1201.1V2291.7H1166.9zM1166.9 2294.7H1201.1V2298.1H1166.9zM1200.8 2169.9H1235V2176.5H1200.8zM1200.8 2265.9H1235V2269.3H1200.8zM1200.8 2278.7H1235V2282.1H1200.8zM1234.7 2227.5H1268.9V2230.9H1234.7zM1268.6 1881.8H1302.7V1885.2H1268.6zM1268.6 1888.2H1302.7V1894.8H1268.6zM1268.6 2105.8H1302.7V2109.2H1268.6zM1268.6 2144.3H1302.7V2147.7H1268.6zM1302.4 1862.6H1336.6V1866H1302.4zM1336.3 1856.2H1370.5V1862.8H1336.3zM1336.3 1885H1370.5V1888.4H1336.3zM1336.3 1977.8H1370.5V1981.2H1336.3zM1336.3 2041.8H1370.5V2045.2H1336.3zM1370.2 1862.6H1404.4V1866H1370.2zM1370.2 2045H1404.4V2048.4H1370.2zM1370.2 2077H1404.4V2080.4H1370.2zM1404.1 1821H1438.3V1824.4H1404.1zM1404.1 2073.8H1438.3V2077.2H1404.1zM1404.1 2093H1438.3V2096.4H1404.1zM1438 1853H1472.1V1856.4H1438zM1438 1936.2H1472.1V1939.6H1438zM1438 1968.2H1472.1V1974.8H1438zM1471.8 1856.2H1506V1859.6H1471.8zM1471.8 1901H1506V1904.4H1471.8zM1471.8 1920.2H1506V1923.6H1471.8zM1471.8 2073.8H1506V2077.2H1471.8zM1471.8 2086.6H1506V2090H1471.8zM1505.7 1897.8H1539.9V1901.2H1505.7zM1505.7 1939.4H1539.9V1942.8H1505.7zM1505.7 1945.8H1539.9V1949.2H1505.7zM1505.7 2064.2H1539.9V2067.6H1505.7zM1539.6 1808.2H1573.8V1811.6H1539.6zM1539.6 1920.2H1573.8V1923.6H1539.6zM1539.6 1961.8H1573.8V1965.2H1539.6zM1539.6 2070.6H1573.8V2074H1539.6zM1539.6 2147.5H1573.8V2150.9H1539.6zM1573.5 1869H1607.7V1872.4H1573.5zM1573.5 1878.6H1607.7V1885.2H1573.5zM1573.5 1891.4H1607.7V1894.8H1573.5zM1573.5 1949H1607.7V1952.4H1573.5zM1573.5 2057.8H1607.7V2061.2H1573.5zM1607.4 1862.6H1641.5V1866H1607.4zM1607.4 1917H1641.5V1920.4H1607.4zM1607.4 1952.2H1641.5V1955.6H1607.4zM1607.4 1958.6H1641.5V1962H1607.4zM1607.4 1968.2H1641.5V1971.6H1607.4zM1607.4 1977.8H1641.5V1981.2H1607.4zM1607.4 2067.4H1641.5V2070.8H1607.4zM1641.2 1830.6H1675.4V1834H1641.2zM1641.2 1904.2H1675.4V1907.6H1641.2zM1641.2 1920.2H1675.4V1923.6H1641.2zM1641.2 1952.2H1675.4V1955.6H1641.2z"/>
<path fill="#F0F9DC" d="M862 2160.3H896.2V2163.7H862zM862 2166.7H896.2V2170.1H862zM862 2185.9H896.2V2195.7H862zM862 2201.9H896.2V2205.3H862zM862 2259.5H896.2V2262.9H862zM862 2294.7H896.2V2298.1H862zM862 2329.9H896.2V2333.3H862zM862 2355.5H896.2V2358.9H862zM862 2384.3H896.2V2387.7H862zM963.6 2313.9H997.8V2317.3H963.6zM963.6 2326.7H997.8V2330.1H963.6zM997.5 1853H1031.7V1859.6H997.5zM1065.3 2208.3H1099.5V2211.7H1065.3zM1099.2 2182.7H1133.3V2186.1H1099.2zM1099.2 2297.9H1133.3V2301.3H1099.2zM1099.2 2339.5H1133.3V2342.9H1099.2zM1099.2 2371.5H1133.3V2374.9H1099.2zM1133 2253.1H1167.2V2256.5H1133zM1133 2301.1H1167.2V2304.5H1133zM1133 2333.1H1167.2V2339.7H1133zM1133 2361.9H1167.2V2368.5H1133zM1166.9 2150.7H1201.1V2157.3H1166.9zM1166.9 2166.7H1201.1V2176.5H1166.9zM1166.9 2208.3H1201.1V2214.9H1166.9zM1166.9 2246.7H1201.1V2250.1H1166.9zM1166.9 2313.9H1201.1V2317.3H1166.9zM1166.9 2323.5H1201.1V2326.9H1166.9zM1166.9 2368.3H1201.1V2371.7H1166.9zM1234.7 2153.9H1268.9V2160.5H1234.7zM1234.7 2163.5H1268.9V2166.9H1234.7zM1234.7 2169.9H1268.9V2173.3H1234.7zM1234.7 2185.9H1268.9V2189.3H1234.7zM1234.7 2269.1H1268.9V2272.5H1234.7zM1268.6 2083.4H1302.7V2090H1268.6zM1268.6 2099.4H1302.7V2106H1268.6zM1268.6 2109H1302.7V2112.4H1268.6zM1370.2 2099.4H1404.4V2102.8H1370.2zM1404.1 2131.5H1438.3V2134.9H1404.1z"/>
<path fill="#F5FBD2" d="M862 2163.5H896.2V2166.9H862zM862 2198.7H896.2V2202.1H862zM862 2221.1H896.2V2224.5H862zM862 2240.3H896.2V2243.7H862zM895.9 2269.1H930.1V2272.5H895.9zM929.8 2057.8H963.9V2061.2H929.8zM1065.3 2227.5H1099.5V2230.9H1065.3zM1099.2 2217.9H1133.3V2221.3H1099.2zM1133 2317.1H1167.2V2320.5H1133zM1166.9 2205.1H1201.1V2208.5H1166.9zM1166.9 2275.5H1201.1V2278.9H1166.9zM1166.9 2304.3H1201.1V2307.7H1166.9zM1234.7 2262.7H1268.9V2269.3H1234.7zM1234.7 2272.3H1268.9V2275.7H1234.7zM1268.6 2096.2H1302.7V2099.6H1268.6zM1370.2 2048.2H1404.4V2051.6H1370.2zM1370.2 2080.2H1404.4V2083.6H1370.2z"/>
<path fill="#FAFDC8" d="M862 2205.1H896.2V2208.5H862zM895.9 2265.9H930.1V2269.3H895.9zM895.9 2272.3H930.1V2278.9H895.9zM929.8 2054.6H963.9V2058H929.8zM963.6 2342.7H997.8V2346.1H963.6zM1099.2 2221.1H1133.3V2224.5H1099.2zM1133 2310.7H1167.2V2314.1H1133zM1133 2368.3H1167.2V2371.7H1133zM1166.9 2253.1H1201.1V2256.5H1166.9zM1234.7 2166.7H1268.9V2170.1H1234.7zM1234.7 2259.5H1268.9V2262.9H1234.7zM1505.7 1865.8H1539.9V1869.2H1505.7zM1573.5 1933H1607.7V1936.4H1573.5zM1607.4 1830.6H1641.5V1837.2H1607.4z"/>
<path fill="#FFFFBF" d="M862 2195.5H896.2V2198.9H862zM862 2275.5H896.2V2278.9H862zM862 2374.7H896.2V2378.1H862zM895.9 1990.6H930.1V2000.4H895.9zM929.8 2061H963.9V2064.4H929.8zM997.5 1949H1031.7V1958.8H997.5zM1133 2249.9H1167.2V2253.3H1133zM1166.9 2291.5H1201.1V2294.9H1166.9zM1166.9 2352.3H1201.1V2358.9H1166.9zM1268.6 2112.2H1302.7V2115.6H1268.6zM1404.1 1881.8H1438.3V1885.2H1404.1zM1438 2105.8H1472.1V2112.4H1438zM1471.8 1805H1506V1808.4H1471.8zM1471.8 1811.4H1506V1814.8H1471.8zM1471.8 1817.8H1506V1821.2H1471.8zM1505.7 1862.6H1539.9V1866H1505.7zM1573.5 1926.6H1607.7V1933.2H1573.5zM1607.4 1827.4H1641.5V1830.8H1607.4z"/>
<path fill="#FFFAB7" d="M862 2224.3H896.2V2227.7H862zM862 2262.7H896.2V2266.1H862zM862 2381.1H896.2V2384.5H862zM929.8 2083.4H963.9V2090H929.8zM929.8 2336.3H963.9V2342.9H929.8zM963.6 2157.1H997.8V2163.7H963.6zM963.6 2201.9H997.8V2208.5H963.6zM997.5 1827.4H1031.7V1830.8H997.5zM1031.4 2045H1065.6V2051.6H1031.4zM1031.4 2173.1H1065.6V2176.5H1031.4zM1031.4 2259.5H1065.6V2266.1H1031.4zM1031.4 2345.9H1065.6V2349.3H1031.4zM1031.4 2377.9H1065.6V2381.3H1031.4zM1065.3 1821H1099.5V1827.6H1065.3zM1099.2 2278.7H1133.3V2291.7H1099.2zM1133 2288.3H1167.2V2298.1H1133zM1166.9 2278.7H1201.1V2282.1H1166.9zM1166.9 2349.1H1201.1V2352.5H1166.9zM1166.9 2358.7H1201.1V2362.1H1166.9zM1200.8 2198.7H1235V2202.1H1200.8zM1200.8 2285.1H1235V2291.7H1200.8zM1200.8 2313.9H1235V2317.3H1200.8zM1200.8 2374.7H1235V2378.1H1200.8zM1268.6 2134.7H1302.7V2141.3H1268.6zM1302.4 1965H1336.6V1968.4H1302.4zM1302.4 2393.9H1336.6V2397.3H1302.4zM1404.1 1801.8H1438.3V1811.6H1404.1zM1404.1 1875.4H1438.3V1882H1404.1zM1438 1814.6H1472.1V1824.4H1438zM1438 2096.2H1472.1V2106H1438zM1471.8 1801.8H1506V1805.2H1471.8zM1471.8 1814.6H1506V1818H1471.8zM1471.8 1952.2H1506V1955.6H1471.8zM1573.5 2147.5H1607.7V2150.9H1573.5z"/>
<path fill="#FFF5AF" d="M929.8 2342.7H963.9V2346.1H929.8zM963.6 2208.3H997.8V2211.7H963.6zM1166.9 2281.9H1201.1V2288.5H1166.9zM1200.8 2317.1H1235V2320.5H1200.8zM1200.8 2377.9H1235V2381.3H1200.8zM1370.2 2009.8H1404.4V2013.2H1370.2zM1438 1824.2H1472.1V1827.6H1438zM1471.8 1808.2H1506V1811.6H1471.8zM1471.8 1942.6H1506V1952.4H1471.8zM1471.8 2096.2H1506V2106H1471.8zM1471.8 2109H1506V2112.4H1471.8zM1573.5 1920.2H1607.7V1923.6H1573.5z"/>
<path fill="#FEF0A8" d="M862 2371.5H896.2V2374.9H862zM963.6 2246.7H997.8V2253.3H963.6zM1133 2163.5H1167.2V2166.9H1133zM1302.4 1968.2H1336.6V1971.6H1302.4zM1471.8 2134.7H1506V2138.1H1471.8z"/>
<path fill="#FEEAA0" d="M963.6 2176.3H997.8V2182.9H963.6zM963.6 2243.5H997.8V2246.9H963.6zM1234.7 2173.1H1268.9V2176.5H1234.7zM1471.8 2137.9H1506V2141.3H1471.8z"/>
<path fill="#FEE598" d="M862 2377.9H896.2V2381.3H862zM963.6 2253.1H997.8V2256.5H963.6zM1099.2 2211.5H1133.3V2218.1H1099.2zM1133 2281.9H1167.2V2288.5H1133zM1268.6 2077H1302.7V2083.6H1268.6z"/>
<path fill="#FEE090" d="M1133 2387.5H1167.2V2390.9H1133z"/>
<path fill="#FED287" d="M862 2249.9H896.2V2253.3H862zM862 2435.5H896.2V2438.9H862zM895.9 2224.3H930.1V2230.9H895.9zM929.8 2409.9H963.9V2413.3H929.8zM963.6 2150.7H997.8V2154.1H963.6zM1031.4 2237.1H1065.6V2243.7H1031.4zM1099.2 2320.3H1133.3V2323.7H1099.2zM1099.2 2358.7H1133.3V2362.1H1099.2zM1200.8 1987.4H1235V1990.8H1200.8zM1200.8 2333.1H1235V2336.5H1200.8zM1234.7 2425.9H1268.9V2432.5H1234.7zM1302.4 1811.4H1336.6V1814.8H1302.4zM1302.4 1971.4H1336.6V1974.8H1302.4z"/>
<path fill="#FDC47E" d="M895.9 2195.5H930.1V2198.9H895.9zM963.6 2301.1H997.8V2307.7H963.6zM1031.4 2233.9H1065.6V2237.3H1031.4zM1065.3 2387.5H1099.5V2390.9H1065.3zM1099.2 2403.5H1133.3V2406.9H1099.2zM1200.8 2432.3H1235V2435.7H1200.8zM1471.8 2016.2H1506V2022.8H1471.8zM1573.5 2137.9H1607.7V2141.3H1573.5z"/>
<path fill="#FDB674" d="M1336.3 2009.8H1370.5V2013.2H1336.3z"/>
<path fill="#FDA96B" d="M1166.9 2310.7H1201.1V2314.1H1166.9zM1302.4 2131.5H1336.6V2134.9H1302.4zM1607.4 1997H1641.5V2000.4H1607.4z"/>
<path fill="#F67D51" d="M963.6 2291.5H997.8V2294.9H963.6z"/>
<path fill="#F06E48" d="M862 2422.7H896.2V2426.1H862zM963.6 2294.7H997.8V2298.1H963.6zM1404.1 2413.1H1438.3V2416.5H1404.1z"/>
<path fill="#EA5E40" d="M862 2416.3H896.2V2422.9H862zM862 2425.9H896.2V2429.3H862zM895.9 2397.1H930.1V2403.7H895.9zM963.6 2365.1H997.8V2371.7H963.6zM1573.5 2032.2H1607.7V2035.6H1573.5z"/>
<path fill="#E34F38" d="M895.9 2393.9H930.1V2397.3H895.9zM1031.4 2384.3H1065.6V2387.7H1031.4zM1471.8 2003.4H1506V2006.8H1471.8zM1471.8 2141.1H1506V2144.5H1471.8zM1505.7 2403.5H1539.9V2406.9H1505.7z"/>
<path fill="#DD402F" d="M862 2013H896.2V2016.4H862zM862 2256.3H896.2V2259.7H862zM1031.4 2000.2H1065.6V2003.6H1031.4zM1031.4 2301.1H1065.6V2304.5H1031.4zM1234.7 2323.5H1268.9V2326.9H1234.7zM1302.4 2022.6H1336.6V2029.2H1302.4zM1302.4 2035.4H1336.6V2038.8H1302.4z"/>
</g>
<rect x="862" y="1757.7" width="406.9" height="16.1" fill="#F5908A"/><rect x="1268.6" y="1757.7" width="406.6" height="16.1" fill="#C1E0B4"/>
<rect x="862" y="1777.7" width="101.9" height="16.1" fill="#4DBB7E"/><rect x="963.6" y="1777.7" width="34.2" height="16.1" fill="#DC5FA6"/><rect x="997.5" y="1777.7" width="135.8" height="16.1" fill="#4DBB7E"/><rect x="1133" y="1777.7" width="135.8" height="16.1" fill="#DC5FA6"/><rect x="1268.6" y="1777.7" width="68.1" height="16.1" fill="#4DBB7E"/><rect x="1336.3" y="1777.7" width="68.1" height="16.1" fill="#DC5FA6"/><rect x="1404.1" y="1777.7" width="169.7" height="16.1" fill="#4DBB7E"/><rect x="1573.5" y="1777.7" width="101.6" height="16.1" fill="#DC5FA6"/>
<g font-family="'Liberation Sans',sans-serif" font-size="22" fill="#000"><text x="1681" y="1770">location</text><text x="1681" y="1789.5">genotype</text></g>
<path d="M912.8 1753.3V1723H946.7V1753.3M878.9 1753.3V1713H929.8V1723M1014.5 1753.3V1711.7H1048.3V1753.3M1082.2 1753.3V1720.7H1116.1V1753.3M1150 1753.3V1726H1183.9V1753.3M1217.7 1753.3V1716.3H1251.6V1753.3M1166.9 1726V1710.7H1234.7V1716.3M1099.2 1720.7V1707.7H1200.8V1710.7M1031.4 1711.7V1703.7H1150V1707.7M980.6 1753.3V1702.3H1090.7V1703.7M904.4 1713V1700H1035.6V1702.3M1285.5 1753.3V1717.7H1319.4V1753.3M1353.3 1753.3V1716.3H1387.1V1753.3M1302.4 1717.7V1702.3H1370.2V1716.3M1454.9 1753.3V1710.3H1488.8V1753.3M1421 1753.3V1706.7H1471.8V1710.3M1522.7 1753.3V1710.7H1556.5V1753.3M1624.3 1753.3V1717.3H1658.2V1753.3M1590.4 1753.3V1704.7H1641.2V1717.3M1539.6 1710.7V1699.3H1615.8V1704.7M1446.4 1706.7V1694H1577.7V1699.3M1336.3 1702.3V1685.7H1512.1V1694M970 1700V1587.7H1424.2V1685.7" fill="none" stroke="#1a1a1a" stroke-width="1.2"/>
<path d="M806.9 1854.3H696.6V2162H734.7M844.8 1822.9H806.9V1886.1H841.9M850 1810.4H844.8V1836.6H850M848 1871.5H841.9V1901.2H848M824.1 2036.9H734.7V2279.7H797.9M838.7 1979.2H824.1V2095.1H834.9M845.9 1942.8H838.7V2014.2H841.6M851 1926.2H845.9V1964.7H851M848 2004H841.6V2022.9H848M841.9 2070.1H834.9V2119H838.1M848 2055.5H841.9V2085.5H848M847 2106.7H838.1V2130.6H847M834.9 2200.5H797.9V2374.3H815.7M850.3 2163.5H834.9V2236.3H838.1M846 2201.9H838.1V2270.3H846M841.9 2338.2H815.7V2410.1H838.7M848 2324.2H841.9V2350.4H848M847 2392.6H838.7V2430.5H847" fill="none" stroke="#1a1a1a" stroke-width="1.2"/>
<path d="M862 1803.4H857V1806.6H862M862 1809.8H856.1V1813H862M856.1 1811.4H852.1V1816.2H862M857 1805H852.1V1813.8H852.1M862 1819.6H857.2V1822.8H862M862 1826H855.7V1829.2H862M857.2 1821.2H852V1827.6H855.7M862 1834.8H857V1838H862M862 1831.6H853.6V1836.4H857M862 1841.2H855.9V1844.4H862M853.6 1834H848.9V1842.8H855.9M862 1846.6H857V1849.8H862M862 1856.2H855.6V1859.4H862M862 1853H853.9V1857.8H855.6M857 1848.2H852.6V1855.4H853.9M862 1863.6H856.6V1866.8H862M862 1870H855.2V1873.2H862M862 1876.4H857.2V1879.6H862M855.2 1871.6H852.3V1878H857.2M856.6 1865.2H849.3V1874.8H852.3M862 1888H857V1891.2H862M862 1884.8H853.2V1889.6H857M862 1881.6H853.2V1887.2H853.2M862 1894.6H857.3V1897.8H862M857.3 1896.2H855.1V1901H862M862 1904.2H857.2V1907.4H862M855.1 1898.6H852.6V1905.8H857.2M862 1911.6H856.3V1914.8H862M862 1921.2H857.1V1924.4H862M862 1918H853.3V1922.8H857.1M856.3 1913.2H852.1V1920.4H853.3M862 1927.6H856V1930.8H862M856 1929.2H853.2V1934H862M862 1940.4H855V1943.6H862M862 1937.2H851.8V1942H855M853.2 1931.6H851.5V1939.6H851.8M862 1946.6H855.9V1949.8H862M855.9 1948.2H855.2V1953H862M862 1959.4H855.9V1962.6H862M862 1956.2H852.6V1961H855.9M855.2 1950.6H851.7V1958.6H852.6M862 1965.6H856.2V1968.8H862M856.2 1967.2H853.9V1972H862M862 1975.2H855.4V1978.4H862M855.4 1976.8H854.2V1981.6H862M854.2 1979.2H852.1V1984.8H862M853.9 1969.6H850.1V1982H852.1M862 1989.8H855.8V1993H862M862 1986.6H855V1991.4H855.8M862 1996.2H855.5V1999.4H862M855.5 1997.8H852.5V2002.6H862M855 1989H849.2V2000.2H852.5M862 2005.6H856.3V2008.8H862M862 2012H855.1V2015.2H862M856.3 2007.2H852.2V2013.6H855.1M862 2018.4H855.3V2021.6H862M852.2 2010.4H850V2020H855.3M862 2026.8H856.7V2030H862M862 2023.6H855.2V2028.4H856.7M862 2033.2H855.1V2036.4H862M855.1 2034.8H851.8V2039.6H862M855.2 2026H848.6V2037.2H851.8M862 2041.6H856.8V2044.8H862M862 2051.2H855.1V2054.4H862M862 2048H854.1V2052.8H855.1M856.8 2043.2H852.3V2050.4H854.1M862 2059.8H856V2063H862M862 2056.6H852.9V2061.4H856M862 2066.2H856.2V2069.4H862M852.9 2059H849.3V2067.8H856.2M862 2074.8H856.9V2078H862M862 2071.6H852.8V2076.4H856.9M862 2081.2H855.3V2084.4H862M852.8 2074H850.4V2082.8H855.3M862 2086.6H856.1V2089.8H862M862 2096.2H857.1V2099.4H862M862 2093H852.6V2097.8H857.1M856.1 2088.2H851.8V2095.4H852.6M862 2101.6H856.2V2104.8H862M862 2108H856.9V2111.2H862M856.9 2109.6H853.6V2114.4H862M856.2 2103.2H848V2112H853.6M862 2116.6H855V2119.8H862M855 2118.2H852.2V2123H862M862 2126.2H856.1V2129.4H862M852.2 2120.6H850.2V2127.8H856.1M862 2134.8H856.6V2138H862M856.6 2136.4H852.8V2141.2H862M862 2131.6H850.7V2138.8H852.8M862 2144.4H855.7V2147.6H862M850.7 2135.2H849.5V2146H855.7M862 2149.6H857.2V2152.8H862M862 2156H855.3V2159.2H862M855.3 2157.6H854.6V2162.4H862M857.2 2151.2H848.6V2160H854.6M862 2164.6H857.2V2167.8H862M857.2 2166.2H853.2V2171H862M862 2174.2H855.7V2177.4H862M853.2 2168.6H850.9V2175.8H855.7M862 2181.6H855.9V2184.8H862M862 2194.4H856.2V2197.6H862M862 2191.2H853.4V2196H856.2M862 2188H853.4V2193.6H853.4M855.9 2183.2H847.6V2190.8H853.4M862 2201.6H855.1V2204.8H862M855.1 2203.2H853.2V2208H862M862 2211.2H855.4V2214.4H862M855.4 2212.8H855V2217.6H862M853.2 2205.6H850.1V2215.2H855M862 2219.6H856.8V2222.8H862M862 2226H857V2229.2H862M862 2232.4H855V2235.6H862M857 2227.6H852.3V2234H855M856.8 2221.2H847.8V2230.8H852.3M862 2237.6H855.8V2240.8H862M855.8 2239.2H854.5V2244H862M862 2250.4H856.8V2253.6H862M862 2247.2H853.8V2252H856.8M854.5 2241.6H846.6V2249.6H853.8M862 2256.6H855.4V2259.8H862M862 2266.2H855.3V2269.4H862M862 2263H853.2V2267.8H855.3M855.4 2258.2H851.8V2265.4H853.2M862 2271.6H856.6V2274.8H862M862 2278H855.5V2281.2H862M862 2284.4H855.1V2287.6H862M855.5 2279.6H850V2286H855.1M856.6 2273.2H846.7V2282.8H850M862 2298H855.9V2301.2H862M862 2294.8H853.6V2299.6H855.9M862 2291.6H852.5V2297.2H853.6M862 2304.4H856.4V2307.6H862M852.5 2294.4H850.9V2306H856.4M862 2311.6H855.9V2314.8H862M862 2318H856.3V2321.2H862M855.9 2313.2H853.2V2319.6H856.3M862 2325.6H856.9V2328.8H862M862 2332H856.8V2335.2H862M856.9 2327.2H850.8V2333.6H856.8M862 2339.6H855.8V2342.8H862M862 2346H856.3V2349.2H862M855.8 2341.2H851.3V2347.6H856.3M862 2351.6H856.8V2354.8H862M856.8 2353.2H853.4V2358H862M862 2361.2H857.2V2364.4H862M853.4 2355.6H850.1V2362.8H857.2M862 2366.6H856.5V2369.8H862M862 2373H857.1V2376.2H862M857.1 2374.6H852.8V2379.4H862M856.5 2368.2H851.5V2377H852.8M862 2381.6H857.3V2384.8H862M862 2388H857.2V2391.2H862M857.3 2383.2H853.4V2389.6H857.2M862 2393.6H855.4V2396.8H862M862 2400H855.2V2403.2H862M855.2 2401.6H853.6V2406.4H862M853.6 2404H853.4V2409.6H862M855.4 2395.2H848.1V2406.8H853.4M862 2411.6H856.5V2414.8H862M862 2421.2H855.9V2424.4H862M862 2418H852.2V2422.8H855.9M856.5 2413.2H850V2420.4H852.2M862 2426.6H857.2V2429.8H862M862 2436.2H855.7V2439.4H862M862 2433H852.1V2437.8H855.7M857.2 2428.2H849V2435.4H852.1" fill="none" stroke="#1a1a1a" stroke-width="1.1"/>
<defs><linearGradient id="cbd" x1="0" y1="0" x2="0" y2="1"><stop offset="0.0000" stop-color="#D73027"/><stop offset="0.1667" stop-color="#FC8D59"/><stop offset="0.3333" stop-color="#FEE090"/><stop offset="0.5000" stop-color="#FFFFBF"/><stop offset="0.6667" stop-color="#E0F3F8"/><stop offset="0.8333" stop-color="#91BFDB"/><stop offset="1.0000" stop-color="#4575B4"/></linearGradient></defs><rect x="1683.7" y="1801.9" width="16.5" height="246.9" fill="url(#cbd)"/>
<g font-family="'Liberation Sans',sans-serif" font-size="19.5" fill="#000">
<text transform="translate(1709 1847.1) scale(0.84 1)">4</text>
<text transform="translate(1709 1898.6) scale(0.84 1)">3</text>
<text transform="translate(1709 1950.2) scale(0.84 1)">2</text>
<text transform="translate(1709 2001.9) scale(0.84 1)">1</text>
<text transform="translate(1709 2053.4) scale(0.84 1)">0</text>
</g>
<g font-family="'Liberation Sans',sans-serif" font-size="22" fill="#000">
<text x="1738.7" y="1833">location</text><text x="1738.7" y="1936.5">genotype</text>
<rect x="1738.2" y="1846.1" width="18.6" height="17.8" fill="#C1E0B4"/><text x="1760.7" y="1859.2">JEJ</text>
<rect x="1738.2" y="1871.9" width="18.6" height="17.8" fill="#F5908A"/><text x="1760.7" y="1889.2">COL</text>
<rect x="1738.2" y="1949.6" width="18.6" height="17.8" fill="#4DBB7E"/><text x="1760.7" y="1966.4">KO</text>
<rect x="1738.2" y="1975.7" width="18.6" height="17.8" fill="#DC5FA6"/><text x="1760.7" y="1992.3">WT</text>
</g>
<g font-family="'Liberation Sans',sans-serif" font-size="21" fill="#000"><text transform="translate(873.4 2447.6) rotate(90) scale(1.075 1)">KO_06</text><text transform="translate(907.3 2447.6) rotate(90) scale(1.075 1)">KO_05</text><text transform="translate(941.2 2447.6) rotate(90) scale(1.075 1)">KO_07</text><text transform="translate(975.1 2447.6) rotate(90) scale(1.075 1)">WT_03</text><text transform="translate(1009 2447.6) rotate(90) scale(1.075 1)">KO_03</text><text transform="translate(1042.8 2447.6) rotate(90) scale(1.075 1)">KO_04</text><text transform="translate(1076.7 2447.6) rotate(90) scale(1.075 1)">KO_01</text><text transform="translate(1110.6 2447.6) rotate(90) scale(1.075 1)">KO_02</text><text transform="translate(1144.5 2447.6) rotate(90) scale(1.075 1)">WT_04</text><text transform="translate(1178.4 2447.6) rotate(90) scale(1.075 1)">WT_05</text><text transform="translate(1212.2 2447.6) rotate(90) scale(1.075 1)">WT_01</text><text transform="translate(1246.1 2447.6) rotate(90) scale(1.075 1)">WT_02</text><text transform="translate(1280 2447.6) rotate(90) scale(1.075 1)">KO_06</text><text transform="translate(1313.9 2447.6) rotate(90) scale(1.075 1)">KO_07</text><text transform="translate(1347.8 2447.6) rotate(90) scale(1.075 1)">WT_01</text><text transform="translate(1381.6 2447.6) rotate(90) scale(1.075 1)">WT_02</text><text transform="translate(1415.5 2447.6) rotate(90) scale(1.075 1)">KO_05</text><text transform="translate(1449.4 2447.6) rotate(90) scale(1.075 1)">KO_01</text><text transform="translate(1483.3 2447.6) rotate(90) scale(1.075 1)">KO_02</text><text transform="translate(1517.2 2447.6) rotate(90) scale(1.075 1)">KO_03</text><text transform="translate(1551 2447.6) rotate(90) scale(1.075 1)">KO_04</text><text transform="translate(1584.9 2447.6) rotate(90) scale(1.075 1)">WT_03</text><text transform="translate(1618.8 2447.6) rotate(90) scale(1.075 1)">WT_04</text><text transform="translate(1652.7 2447.6) rotate(90) scale(1.075 1)">WT_05</text></g>
<g font-family="'Liberation Sans',sans-serif" font-size="30.6" font-weight="bold" fill="#000">
<text x="-0.5" y="26.3">a</text><text x="-0.4" y="618.2">b</text><text x="655" y="579">c</text><text x="655" y="1612.3">d</text><text x="-0.3" y="1696.8">e</text>
</g>
</svg></body></html>
